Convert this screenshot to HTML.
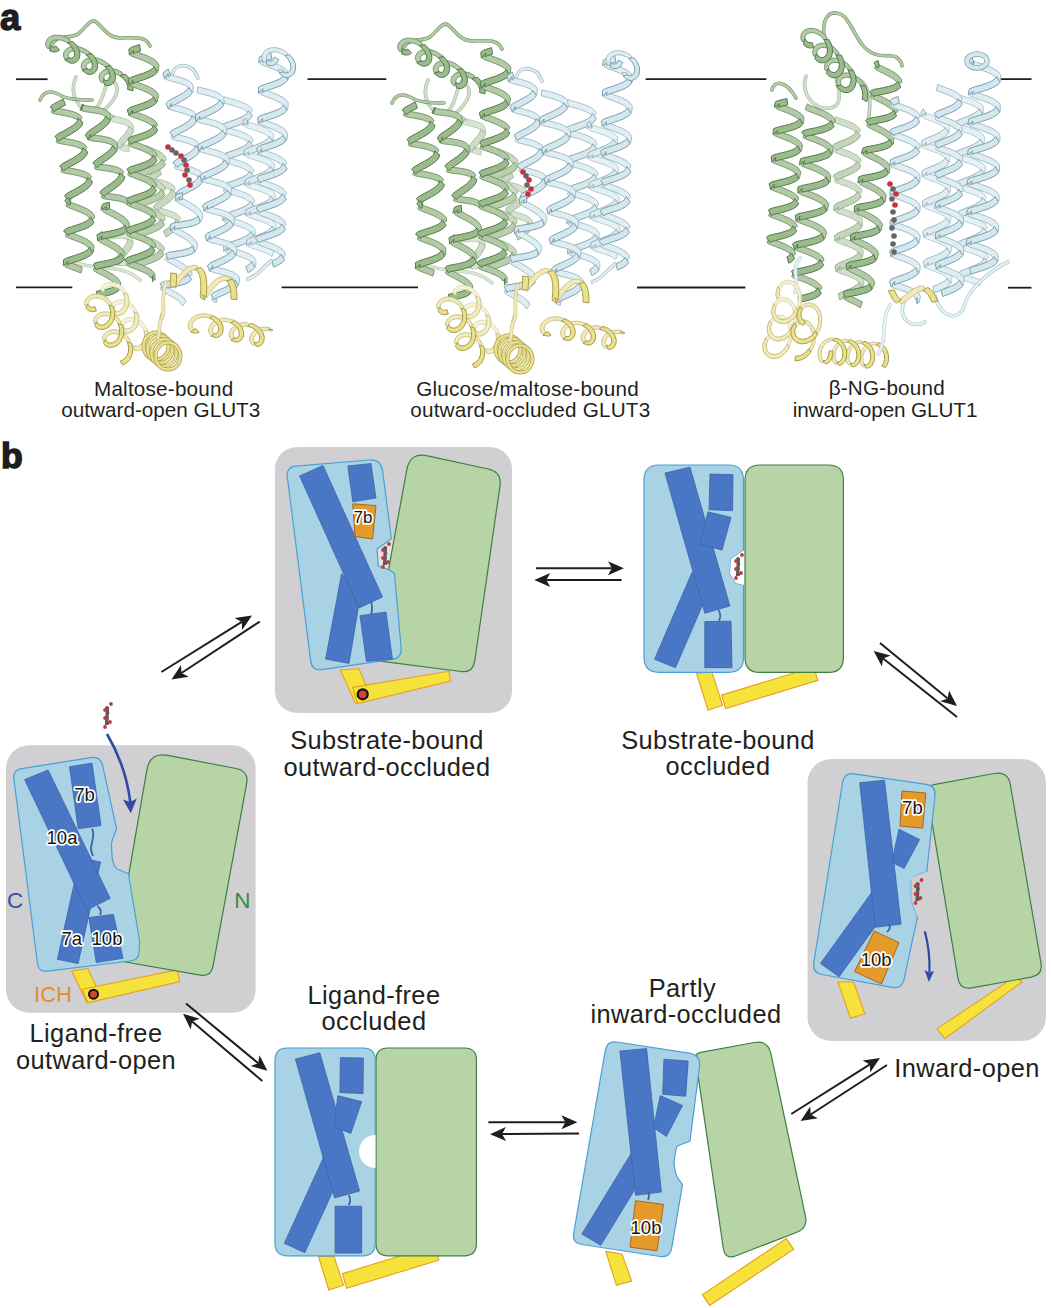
<!DOCTYPE html>
<html><head><meta charset="utf-8"><style>
html,body{margin:0;padding:0;background:#fff;}
svg{display:block;font-family:"Liberation Sans", sans-serif;}
</style></head><body>
<svg width="1051" height="1308" viewBox="0 0 1051 1308">
<rect width="1051" height="1308" fill="#ffffff"/>
<line x1="16" y1="79.2" x2="47.6" y2="79.2" stroke="#1e1e1e" stroke-width="1.8"/>
<line x1="307.5" y1="79.2" x2="386.3" y2="79.2" stroke="#1e1e1e" stroke-width="1.8"/>
<line x1="645.6" y1="79.2" x2="766.3" y2="79.2" stroke="#1e1e1e" stroke-width="1.8"/>
<line x1="999.5" y1="79.2" x2="1031.5" y2="79.2" stroke="#1e1e1e" stroke-width="1.8"/>
<line x1="16" y1="287.3" x2="72.3" y2="287.3" stroke="#1e1e1e" stroke-width="1.8"/>
<line x1="281.6" y1="287.3" x2="418" y2="287.3" stroke="#1e1e1e" stroke-width="1.8"/>
<line x1="637" y1="287.5" x2="745.4" y2="287.5" stroke="#1e1e1e" stroke-width="1.8"/>
<line x1="1008" y1="287.7" x2="1031.5" y2="287.7" stroke="#1e1e1e" stroke-width="1.8"/>
<path d="M103.8,233.1 L105.9,233.4 L109.3,233.2 L113.8,232.8 L118.7,232.5 L123.4,232.6 L127.6,233.4 L130.9,235.3 L133.4,241.3 L127.6,239.9 L128.6,240.8 L127.3,239.4 L124.2,238.5 L119.9,238.3 L115.2,238.6 L110.7,239.1 L107,239.3 L104.5,239Z M118.4,259.8 L121.1,259.9 L125.1,259.6 L126.5,265.4 L122.4,265.8 L119.5,265.7Z" fill="#d8e5d2" stroke="#b6c7b2" stroke-width="0.9" stroke-linejoin="round"/>
<path d="M106.8,235.1 L106.4,236.4 L105.5,233.1 L102.9,239 L100.5,233.6 L101.7,231.1Z M133.2,242.3 L132.3,245.8 L130,249.8 L127.1,253.7 L124.1,257.4 L121.6,260.5 L120.3,262.6 L120.8,262.4 L119.3,259.5 L118.6,266 L114.4,261.7 L115.3,258.4 L117.1,255.7 L119.8,252.5 L122.7,248.9 L125.4,245.2 L127.2,241.8 L127.7,238.8Z" fill="#cdddc5" stroke="#a9bca5" stroke-width="1.0" stroke-linejoin="round"/>
<path d="M112.2,114.8 L113.7,115.7 L116.1,116.5 L119.4,117.3 L123.1,118.2 L126.7,119.3 L129.8,120.9 L132.2,123.2 L134,129.1 L128.3,127.1 L129.1,128.3 L128.1,126.7 L125.9,125.3 L122.8,124.2 L119.3,123.3 L115.9,122.5 L113,121.7 L111,120.6Z M121.4,143.6 L123.1,144.5 L125.7,145.3 L129.1,146 L129,152 L125.5,151.3 L122.5,150.5 L120.4,149.5Z" fill="#d8e5d2" stroke="#b6c7b2" stroke-width="0.9" stroke-linejoin="round"/>
<path d="M114.2,116.8 L113.9,118 L113.6,115.1 L109.7,120.3 L108.3,114.8 L109.3,112.5Z M133.8,130 L132.9,132.9 L131,136 L128.6,139 L126.1,141.7 L124.1,144.1 L122.9,145.9 L123.1,146.6 L122.5,143.7 L119.3,149.3 L117.2,143.9 L118.3,141.3 L120.1,139 L122.3,136.5 L124.7,133.8 L126.8,131.1 L128.1,128.5 L128.6,126.1Z" fill="#cdddc5" stroke="#a9bca5" stroke-width="1.0" stroke-linejoin="round"/>
<path d="M152.6,176.4 L153.2,177.3 L155.3,178.3 L158.8,179.3 L163,180.5 L167.3,181.9 L171.1,183.7 L174.1,186.1 L175.4,188.7 L171.6,193.4 L171.1,191.3 L169.4,189.5 L166.3,187.8 L162.3,186.5 L158.2,185.3 L154.5,184.2 L151.6,183.1 L150.1,181.8Z M157.2,206.2 L158.3,207.2 L160.8,208.2 L164.5,209.2 L168.8,210.4 L173,211.9 L176.7,213.8 L179.4,216.3 L180.4,219.2 L176.1,223.4 L176.1,221.3 L174.7,219.5 L171.9,217.8 L168,216.4 L163.9,215.2 L160.1,214.1 L157,213 L155.2,211.8Z" fill="#d4e2ce" stroke="#aec1aa" stroke-width="0.9" stroke-linejoin="round"/>
<path d="M161.6,174.4 L158,176.8 L155.2,178.8 L153.7,180.3 L153.7,181.3 L149,176.9 L149.9,175 L152.3,173 L155.4,170.9 L158.9,168.5Z M176,193.1 L175,196.1 L172.5,199.2 L169.2,202 L165.5,204.6 L162,207 L159.4,208.9 L158.4,210.1 L158.9,210.8 L153.5,207.2 L154.2,205.2 L156.4,203.1 L159.3,201 L162.8,198.7 L166.3,196.2 L169.1,193.6 L170.7,191.3 L171,189Z M180.6,223.5 L179.3,226.5 L176.6,229.5 L173.1,232.3 L169.4,234.8 L166.1,237.1 L163.4,231.1 L166.7,228.9 L170.3,226.4 L173.3,223.9 L175.2,221.4 L175.9,219Z" fill="#c8d9bf" stroke="#a0b59c" stroke-width="1.0" stroke-linejoin="round"/>
<path d="M145.5,145.5 L149.7,147.2 L154.5,149.1 L159,151.3 L162.8,153.9 L165.5,156.9 L166.1,159.9 L161.3,163.5 L161.5,161.4 L160.2,159.3 L157.1,157 L152.9,154.9 L148.3,153 L144.2,151.4Z M140.9,173 L142.2,174.2 L145.1,175.5 L149.3,177.2 L154,179.1 L158.5,181.3 L162.3,183.9 L165,186.9 L165.6,189.9 L160.8,193.5 L161,191.4 L159.7,189.3 L156.6,187 L152.4,184.9 L147.8,183 L143.6,181.3 L140.3,179.9 L138.5,178.5Z M140.4,203 L141.7,204.2 L144.6,205.5 L148.8,207.2 L153.5,209.1 L158,211.3 L161.8,213.9 L164.5,216.9 L165.1,219.9 L160.3,223.5 L160.5,221.4 L159.2,219.3 L156.1,217 L151.9,214.9 L147.4,213 L143.1,211.3 L139.8,209.9 L138,208.5Z M139.9,233 L141.2,234.2 L144.1,235.5 L148.3,237.2 L153,239.1 L157.6,241.3 L161.3,243.9 L164,246.9 L164.6,249.9 L159.8,253.5 L160,251.4 L158.7,249.3 L155.6,247 L151.4,244.9 L146.9,243 L142.6,241.3 L139.3,239.9 L137.5,238.5Z M139.4,263 L140.7,264.2 L143.7,265.5 L142.1,271.3 L138.8,269.9 L137,268.5Z" fill="#c9dac0" stroke="#98b193" stroke-width="0.9" stroke-linejoin="round"/>
<path d="M165.5,164.4 L163.6,167.1 L159.9,169.6 L155.4,171.8 L150.6,173.7 L146.2,175.3 L142.8,176.6 L141.5,177.5 L142.1,178 L137.3,173.6 L138.5,171.7 L141.2,170.3 L144.8,168.9 L149.3,167.3 L153.9,165.5 L157.9,163.5 L160.6,161.3 L161.8,159Z M165,194.4 L163.1,197.1 L159.4,199.6 L154.9,201.8 L150.1,203.7 L145.6,205.3 L142.3,206.6 L141,207.5 L141.6,208 L136.8,203.6 L138,201.7 L140.7,200.3 L144.3,198.9 L148.8,197.3 L153.3,195.5 L157.4,193.5 L160.1,191.3 L161.3,189Z M164.5,224.4 L162.5,227.1 L158.9,229.7 L154.4,231.8 L149.6,233.7 L145.1,235.2 L141.8,236.6 L140.5,237.5 L141.1,238 L136.3,233.6 L137.4,231.7 L140.2,230.3 L143.8,228.9 L148.2,227.3 L152.8,225.5 L156.9,223.5 L159.6,221.3 L160.8,219Z M164,254.4 L162,257.1 L158.4,259.7 L153.9,261.8 L149.1,263.7 L144.6,265.2 L141.3,266.6 L140,267.5 L140.6,268 L135.8,263.6 L136.9,261.7 L139.7,260.3 L143.3,258.9 L147.7,257.3 L152.3,255.5 L156.4,253.5 L159.1,251.3 L160.3,249Z" fill="#b9cfae" stroke="#87a181" stroke-width="1.0" stroke-linejoin="round"/>
<path d="M223.8,96.5 L227,97.6 L231.7,99 L237.3,100.6 L242.8,102.6 L247.6,105 L251.1,107.8 L252.4,110.8 L248.2,115.1 L247.8,112.8 L245.6,110.6 L241.4,108.4 L236.2,106.5 L230.8,104.9 L226,103.5 L222.7,102.4Z M223.8,125.7 L225,126.6 L228.2,127.7 L233,129.1 L238.6,130.8 L244.1,132.8 L248.7,135.2 L252.1,138.1 L253.2,141.3 L248.8,145.3 L248.6,143.1 L246.6,140.9 L242.7,138.7 L237.5,136.7 L232.1,135 L227.2,133.7 L223.5,132.5 L221.7,131.3Z M224.4,155.7 L225.9,156.7 L229.4,157.9 L234.3,159.3 L239.9,161 L245.4,163.1 L249.9,165.5 L253.1,168.5 L253.9,171.7 L249.3,175.5 L249.4,173.3 L247.7,171.1 L243.9,168.9 L238.8,166.9 L233.4,165.2 L228.4,163.8 L224.6,162.6 L222.6,161.4Z M225.2,185.8 L226.9,186.8 L230.6,188 L235.7,189.4 L241.3,191.2 L246.7,193.3 L251,195.8 L254,198.9 L254.7,202.1 L249.8,205.6 L250.2,203.5 L248.7,201.3 L245.1,199.1 L240.1,197.1 L234.7,195.4 L229.6,193.9 L225.6,192.7 L223.4,191.6Z M225.9,215.9 L228,216.9 L231.8,218.1 L237,219.6 L242.6,221.4 L247.9,223.6 L252.2,226.1 L255,229.3 L255.3,235.9 L250.4,232.5 L250.9,233.7 L249.7,231.6 L246.3,229.3 L241.4,227.3 L236,225.5 L230.8,224.1 L226.7,222.8 L224.4,221.7Z M226.7,246 L229,247.1 L233.1,248.3 L238.3,249.8 L244,251.6 L249.2,253.8 L253.3,256.4 L255.9,259.7 L255.7,266.3 L251,262.6 L251.6,263.8 L250.7,261.8 L247.5,259.6 L242.7,257.5 L237.3,255.7 L232.1,254.2 L227.8,252.9 L225.3,251.8Z" fill="#e1eff4" stroke="#a5bfc8" stroke-width="0.9" stroke-linejoin="round"/>
<path d="M252.4,115.5 L250.6,118.5 L246.8,121.4 L241.9,123.9 L236.3,126.1 L231,127.9 L226.8,129.3 L224.5,130.4 L224.7,131.1 L220.8,125.9 L222.2,124.4 L225.3,123 L229.7,121.5 L234.9,119.7 L240.2,117.6 L244.6,115.3 L247.3,112.9 L248.2,110.5Z M252.9,145.9 L251,148.9 L247,151.7 L242,154.1 L236.4,156.3 L231.2,158 L227.1,159.5 L225.2,160.5 L225.7,161 L221.3,156.2 L222.6,154.5 L225.6,153.1 L229.8,151.7 L235,149.9 L240.3,147.9 L244.9,145.5 L247.8,143.2 L249,140.7Z M253.5,176.3 L251.3,179.2 L247.2,182 L242.1,184.4 L236.5,186.5 L231.4,188.2 L227.5,189.6 L225.9,190.5 L226.8,190.7 L221.8,186.7 L223,184.7 L225.9,183.3 L230,181.8 L235.1,180.1 L240.5,178.1 L245.2,175.8 L248.3,173.4 L249.7,170.9Z M254,206.6 L251.6,209.5 L247.4,212.2 L242.2,214.6 L236.6,216.7 L231.6,218.4 L227.9,219.7 L226.7,220.6 L227.7,216.8 L222.6,220.8 L223.4,214.9 L226.2,213.4 L230.2,212 L235.2,210.3 L240.6,208.3 L245.4,206.1 L248.8,203.7 L250.5,201.2Z M254.5,237 L252,239.8 L247.6,242.5 L242.3,244.9 L236.7,246.9 L231.8,248.5 L228.3,249.8 L227.5,250.5 L228.2,246.6 L223.7,251.3 L223.8,245.2 L226.6,243.6 L230.4,242.2 L235.4,240.5 L240.7,238.6 L245.6,236.3 L249.2,233.9 L251.1,231.4Z M255,267.3 L252.2,270.1 L247.9,272.7 L245.7,266.6 L249.6,264.2 L251.8,261.6Z" fill="#d6e9ef" stroke="#8ba8b3" stroke-width="1.0" stroke-linejoin="round"/>
<path d="M246.3,120.8 L248.1,121.9 L251.7,123.1 L256.5,124.6 L261.7,126.3 L266.6,128.4 L270.6,130.9 L273.3,133.9 L273.8,140.4 L268.8,137.1 L269.3,138.4 L268.1,136.4 L264.9,134.2 L260.4,132.2 L255.4,130.5 L250.6,129 L246.8,127.8 L244.6,126.6Z M247.1,150.8 L249,151.9 L252.6,153.1 L257.4,154.6 L262.6,156.3 L267.5,158.4 L271.5,160.9 L274.2,163.9 L274.6,170.5 L269.6,167.1 L270.2,168.4 L269,166.4 L265.9,164.2 L261.4,162.2 L256.3,160.5 L251.6,159 L247.7,157.7 L245.5,156.6Z M248,180.8 L249.9,181.9 L253.5,183.1 L258.3,184.6 L263.5,186.3 L268.4,188.4 L272.4,190.9 L275.1,194 L275.5,200.5 L270.5,197.1 L271,198.4 L269.9,196.4 L266.8,194.2 L262.3,192.2 L257.3,190.5 L252.5,189 L248.6,187.7 L246.4,186.6Z M248.9,210.8 L250.8,211.9 L254.4,213.1 L259.2,214.6 L264.5,216.3 L269.4,218.4 L273.3,220.9 L276,224 L276.4,230.5 L271.4,227.1 L271.9,228.4 L270.8,226.4 L267.7,224.2 L263.2,222.2 L258.2,220.5 L253.4,219 L249.5,217.7 L247.3,216.6Z M249.8,240.8 L251.8,241.9 L255.4,243.1 L260.2,244.6 L265.4,246.3 L270.3,248.4 L274,250.8 L272,256.5 L268.6,254.2 L264.1,252.2 L259.1,250.5 L254.3,249 L250.5,247.7 L248.2,246.6Z" fill="#e4f1f5" stroke="#afc6ce" stroke-width="0.9" stroke-linejoin="round"/>
<path d="M248.3,124.4 L247.1,125.3 L247.9,121.7 L242.9,125.7 L243.5,119.9 L245.9,118.3Z M273,141.5 L270.8,144.3 L266.8,147 L261.9,149.4 L256.8,151.4 L252.2,153.1 L248.9,154.5 L248,155.3 L248.8,151.7 L243.8,155.8 L244.4,149.9 L247,148.3 L250.7,146.8 L255.3,145.1 L260.2,143.1 L264.7,140.9 L267.8,138.5 L269.5,136.1Z M273.9,171.5 L271.6,174.3 L267.6,177 L262.8,179.4 L257.6,181.4 L253.1,183.1 L249.8,184.5 L248.9,185.3 L249.7,181.6 L244.7,185.8 L245.2,179.9 L247.9,178.3 L251.5,176.8 L256.1,175.1 L261.1,173.1 L265.5,170.9 L268.7,168.5 L270.4,166.1Z M274.8,201.5 L272.5,204.3 L268.5,207 L263.6,209.4 L258.5,211.4 L253.9,213.1 L250.6,214.5 L249.8,215.3 L250.6,211.6 L245.6,215.8 L246.1,209.9 L248.8,208.3 L252.4,206.8 L257,205.1 L261.9,203.1 L266.4,200.9 L269.6,198.5 L271.3,196.1Z M275.7,231.5 L273.3,234.4 L269.3,237 L264.5,239.4 L259.3,241.4 L254.8,243.1 L251.5,244.5 L250.6,245.3 L251.5,241.6 L246.5,245.8 L247,239.9 L249.6,238.3 L253.3,236.8 L257.8,235.1 L262.8,233.1 L267.2,230.9 L270.5,228.5 L272.1,226.1Z" fill="#dbebf1" stroke="#98b2bb" stroke-width="1.0" stroke-linejoin="round"/>
<path d="M76,77 C68,95 80,112 92,110 S104,80 112,76" fill="none" stroke="#a7bca3" stroke-width="3.6" stroke-linecap="round"/>
<path d="M76,77 C68,95 80,112 92,110 S104,80 112,76" fill="none" stroke="#d0dfc9" stroke-width="2.4" stroke-linecap="round"/>
<path d="M112,80 C125,90 110,105 102,112" fill="none" stroke="#a7bca3" stroke-width="3.6" stroke-linecap="round"/>
<path d="M112,80 C125,90 110,105 102,112" fill="none" stroke="#d0dfc9" stroke-width="2.4" stroke-linecap="round"/>
<path d="M75,262 C95,272 120,262 140,280" fill="none" stroke="#b6c7b2" stroke-width="3.6" stroke-linecap="round"/>
<path d="M75,262 C95,272 120,262 140,280" fill="none" stroke="#d8e5d2" stroke-width="2.4" stroke-linecap="round"/>
<path d="M51,50 C52,32 70,40 78,34 S90,18 96,22 S108,38 120,38 S145,35 150,46" fill="none" stroke="#6d9066" stroke-width="3.6" stroke-linecap="round"/>
<path d="M51,50 C52,32 70,40 78,34 S90,18 96,22 S108,38 120,38 S145,35 150,46" fill="none" stroke="#b2cba6" stroke-width="2.4" stroke-linecap="round"/>
<path d="M47.6,48.6 L45.9,46 L45.7,42.4 L47.2,39.1 L50.3,36.5 L54.7,35.2 L59.8,35.3 L65.2,36.8 L70.1,39.6 L70.2,44.6 L65.8,41.8 L61.2,40.1 L56.8,39.7 L53.4,40.4 L51.2,42 L50.4,44 L50.9,45.9 L52.5,47.7Z M64.8,59.1 L63.5,56.3 L63.7,52.7 L65.6,49.5 L69.1,47.2 L73.7,46.2 L79,46.7 L84.3,48.6 L91.3,53.2 L86.7,55.1 L84.7,53.5 L80.1,51.5 L75.7,50.8 L71.9,51.3 L69.4,52.7 L68.3,54.6 L68.5,56.6 L69.8,58.6Z M82.2,69.5 L81.1,66.6 L81.8,63 L84.1,60 L87.9,58 L92.8,57.4 L98.1,58.2 L103.4,60.4 L110.1,65.4 L105.4,67.1 L103.6,65.4 L99.1,63.1 L94.5,62.1 L90.6,62.3 L87.7,63.5 L86.2,65.3 L86.1,67.3 L87.2,69.4Z M101.5,82.7 L99.6,80.3 L98.9,76.8 L100,73.4 L102.7,70.6 L106.8,68.9 L111.9,68.6 L117.3,69.8 L122.2,72.4 L122.6,77.3 L118,74.8 L113.4,73.4 L109.3,73.3 L106.1,74.3 L104.2,76 L103.8,78 L104.5,79.8 L106.4,81.5Z" fill="#b2cba6" stroke="#6d9066" stroke-width="0.9" stroke-linejoin="round"/>
<path d="M59.5,50.2 L56.7,51.8 L53.2,52.1 L50.3,50.9 L49.8,45.4 L51.9,46.8 L53.8,47.1 L55.9,46Z M72.8,41.4 L76.6,45.3 L79.1,50 L80,54.6 L79.2,58.6 L76.9,61.7 L73.6,63.2 L70.1,63.1 L64.8,59.9 L69.9,57.8 L69.2,57.7 L71.1,58.3 L73,57.8 L74.2,56.2 L74.6,53.5 L73.6,50 L71.2,46.4 L67.5,42.8Z M91.7,53.5 L95.2,57.6 L97.3,62.3 L97.7,66.8 L96.5,70.7 L93.9,73.4 L90.5,74.5 L87,74 L82,70.3 L87.3,68.6 L86.5,68.5 L88.4,69.4 L90.3,69.2 L91.8,67.9 L92.4,65.5 L91.8,62.1 L89.7,58.5 L86.3,54.8Z M110.5,65.7 L113.6,70 L115.3,74.7 L115.3,79.1 L113.7,82.7 L110.9,85 L107.4,85.7 L104.4,84.8 L103.5,79.4 L105.7,80.5 L107.6,80.6 L109.2,79.5 L110.1,77.3 L109.8,74.2 L108.2,70.6 L105.1,66.8Z M125,74 L129.1,77.8 L132,82.3 L133.3,87 L133,90.9 L127.7,89.5 L127.8,86.2 L126.5,82.7 L123.8,79 L119.8,75.7Z" fill="#9bbb8c" stroke="#547a4c" stroke-width="1.0" stroke-linejoin="round"/>
<path d="M40,100 C45,88 55,92 62,96 S85,100 92,100" fill="none" stroke="#6d9066" stroke-width="3.6" stroke-linecap="round"/>
<path d="M40,100 C45,88 55,92 62,96 S85,100 92,100" fill="none" stroke="#b2cba6" stroke-width="2.4" stroke-linecap="round"/>
<path d="M53.4,106.6 L54,107.5 L56.7,108.2 L61,109 L66.2,109.9 L71.6,111.1 L76.4,112.8 L80.2,115 L82,117.7 L78.7,122.7 L77.8,120.5 L75.2,118.6 L71,117.1 L65.9,115.9 L60.8,115 L56.3,114.2 L53,113.4 L51.3,112.3Z M58.1,136.3 L58.8,137.1 L61.4,137.8 L65.8,138.6 L71,139.5 L76.4,140.7 L81.2,142.4 L84.9,144.6 L86.8,147.3 L83.5,152.3 L82.6,150.1 L80,148.3 L75.7,146.7 L70.7,145.5 L65.5,144.6 L61.1,143.8 L57.7,143 L56,141.9Z M62.9,165.9 L63.5,166.7 L66.2,167.5 L70.5,168.2 L75.8,169.1 L81.1,170.4 L85.9,172 L89.7,174.2 L91.5,176.9 L88.2,181.9 L87.3,179.7 L84.7,177.9 L80.5,176.3 L75.4,175.1 L70.3,174.2 L65.8,173.4 L62.5,172.6 L60.8,171.5Z M67.6,195.5 L68.3,196.3 L71,197.1 L70.5,203.1 L67.2,202.3 L65.5,201.2Z" fill="#b2cba6" stroke="#6d9066" stroke-width="0.9" stroke-linejoin="round"/>
<path d="M65.5,105 L60.8,107.5 L56.9,109.5 L54.7,111.1 L54.4,112 L50.3,106.9 L51.6,105.3 L54.5,103.5 L58.5,101.4 L63.2,98.9Z M82.9,122.2 L82,125.4 L79,128.7 L75,131.7 L70.2,134.6 L65.5,137.1 L61.7,139.2 L59.4,140.7 L59.1,141.6 L55.1,136.6 L56.3,135 L59.3,133.1 L63.3,131 L67.8,128.5 L72.3,125.8 L75.8,123 L77.7,120.5 L77.8,118.1Z M87.7,151.8 L86.7,155 L83.8,158.3 L79.7,161.4 L74.9,164.2 L70.3,166.7 L66.4,168.8 L64.2,170.3 L63.9,171.2 L59.8,166.2 L61.1,164.6 L64,162.8 L68,160.6 L72.6,158.2 L77,155.4 L80.5,152.7 L82.4,150.1 L82.6,147.8Z M92.4,181.5 L91.4,184.6 L88.5,187.9 L84.4,191 L79.7,193.8 L75,196.4 L71.1,198.4 L68.9,199.9 L68.6,200.9 L64.5,195.8 L65.8,194.2 L68.7,192.4 L72.7,190.3 L77.3,187.8 L81.7,185.1 L85.3,182.3 L87.1,179.7 L87.3,177.4Z" fill="#9bbb8c" stroke="#547a4c" stroke-width="1.0" stroke-linejoin="round"/>
<path d="M68.2,200.4 L69.5,201.5 L72.6,202.9 L77.2,204.6 L82.3,206.6 L87.3,208.9 L91.4,211.6 L94.2,214.7 L94.8,217.9 L89.8,221.3 L90.2,219.2 L88.8,217 L85.4,214.6 L80.8,212.4 L75.8,210.4 L71.2,208.7 L67.7,207.3 L65.8,206Z M67.4,230.6 L69.1,231.7 L72.5,233.2 L77.2,234.9 L82.4,237 L87.2,239.4 L91.1,242.1 L93.7,245.3 L93.7,251.9 L88.9,248.2 L89.3,249.5 L88.3,247.4 L85.2,245 L80.8,242.7 L75.8,240.7 L71.1,239 L67.4,237.5 L65.3,236.2Z M66.6,260.7 L68.7,261.9 L72.4,263.4 L77.3,265.2 L82.3,267.3 L80.9,273.1 L75.9,271 L71.1,269.3 L67.1,267.7 L64.7,266.4Z" fill="#b2cba6" stroke="#6d9066" stroke-width="0.9" stroke-linejoin="round"/>
<path d="M70.6,204.1 L68.7,205.1 L69.2,205.6 L64.8,200.8 L66.2,199.1 L69,197.8Z M94,222.4 L91.8,225.1 L87.8,227.7 L82.8,229.8 L77.5,231.6 L72.7,233.1 L69.1,234.3 L67.9,235.1 L68.9,235.3 L63.7,231.4 L64.9,229.4 L67.7,228 L71.6,226.7 L76.4,225.2 L81.4,223.4 L86,221.4 L89.1,219.2 L90.6,216.9Z M92.9,252.9 L90.4,255.6 L86.1,258 L81.1,260.1 L75.8,261.8 L71.1,263.3 L67.9,264.5 L67.2,265.1 L68.1,261.4 L63.3,265.8 L63.5,259.8 L66.3,258.2 L70,256.9 L74.7,255.4 L79.8,253.7 L84.4,251.8 L87.8,249.6 L89.7,247.2Z" fill="#9bbb8c" stroke="#547a4c" stroke-width="1.0" stroke-linejoin="round"/>
<path d="M82.4,104.9 L84.9,105.6 L88.8,106.2 L93.6,106.8 L98.7,107.6 L103.5,108.9 L107.3,110.7 L110,113.5 L110.6,120 L105.5,117 L106.2,118.1 L105.5,116.5 L102.7,114.8 L98.5,113.6 L93.6,112.8 L88.8,112.2 L84.8,111.6 L82,110.9Z M89.5,134.2 L92.2,134.9 L96.2,135.4 L101.1,136 L106.2,136.9 L110.9,138.2 L114.6,140.2 L117.2,143.1 L117.4,149.6 L112.4,146.4 L113.1,147.5 L112.6,145.8 L110,144.2 L105.9,142.9 L101.1,142 L96.3,141.4 L92.1,140.9 L89.2,140.2Z M96.2,162.7 L96.9,163.5 L99.5,164.1 L103.6,164.6 L108.6,165.3 L113.7,166.2 L118.3,167.6 L121.9,169.6 L123.7,172.2 L120.6,177.3 L119.7,175.2 L117.3,173.5 L113.4,172.2 L108.6,171.3 L103.7,170.6 L99.4,170.1 L96.1,169.4 L94.4,168.4Z M103,191.9 L104,192.7 L106.8,193.3 L111,193.9 L116.1,194.6 L121.1,195.5 L125.6,197 L128.7,198.9 L127.2,204.7 L124.6,202.9 L120.8,201.5 L116,200.6 L111.1,199.9 L106.8,199.3 L103.4,198.7 L101.5,197.7Z" fill="#b2cba6" stroke="#6d9066" stroke-width="0.9" stroke-linejoin="round"/>
<path d="M82.8,104 L83.6,105 L80.8,110.8 L80,109.8Z M110.2,121 L108.2,124.1 L104.7,127.4 L100.6,130.6 L96.4,133.4 L92.9,135.8 L90.9,137.5 L91.3,137.6 L90.5,134.1 L88.2,140.2 L85.4,134.8 L87.3,132.1 L90,130 L93.6,127.6 L97.6,124.8 L101.5,121.8 L104.3,118.9 L105.9,116.1Z M117,150.5 L114.8,153.7 L111.2,157 L107.1,160.1 L102.9,162.9 L99.6,165.2 L97.7,166.8 L97.6,167.8 L92.9,163.3 L94,161.5 L96.6,159.4 L100.1,157 L104.1,154.3 L108,151.3 L111,148.4 L112.8,145.5Z M124.8,176.6 L124,179.8 L121.4,183.2 L117.7,186.5 L113.6,189.6 L109.5,192.3 L106.2,194.6 L104.6,196.1 L104.8,196.9 L99.8,192.7 L100.7,190.9 L103.2,188.8 L106.6,186.5 L110.6,183.8 L114.6,180.8 L117.7,177.8 L119.4,175.2 L119.5,172.9Z" fill="#9bbb8c" stroke="#547a4c" stroke-width="1.0" stroke-linejoin="round"/>
<path d="M105,205.7 L106.8,207.1 L110.3,209 L114.9,211.4 L119.8,214.1 L124.3,217.1 L127.7,220.3 L129.6,224 L128.1,230.5 L124.2,225.9 L124.5,227.2 L124.1,225.2 L121.6,222.5 L117.6,219.7 L112.8,217 L108.3,214.7 L104.5,212.7 L102.4,211.1Z M101,235.8 L103.4,237.4 L107.4,239.4 L112.2,241.9 L117,244.7 L121.2,247.8 L124.1,251.1 L125,254.3 L120.3,258 L120.2,255.6 L118.3,253.1 L114.6,250.2 L110,247.5 L105.3,245.1 L101.3,243 L98.6,241.3Z M96.4,264.8 L97.4,266 L100.2,267.7 L104.5,269.9 L109.4,272.5 L114.2,275.4 L118,278.5 L120.4,282 L120.7,285.2 L115.4,288.1 L116,286 L114.8,283.6 L111.6,280.8 L107.2,278.1 L102.5,275.5 L98.1,273.3 L94.8,271.4 L93.2,269.9Z" fill="#b2cba6" stroke="#6d9066" stroke-width="0.9" stroke-linejoin="round"/>
<path d="M109.7,208.8 L106.1,209.6 L105.1,210.2 L106.5,206.7 L100.9,210.1 L102.4,204.3 L105.4,203.1 L109.3,202.3Z M127.3,231.2 L124.2,233.6 L119.4,235.4 L114,236.8 L108.6,237.9 L104,238.7 L101.1,239.5 L101.3,239.7 L102,236.1 L97.7,241 L97,234.8 L100,233.1 L103.6,232.2 L108.2,231.4 L113.5,230.3 L118.6,229 L122.6,227.3 L125.1,225.1Z M124.4,258.9 L122.4,261.6 L118.4,263.9 L113.4,265.6 L107.9,266.9 L102.7,267.8 L98.5,268.7 L96.3,269.4 L96.5,270.1 L93.2,264.5 L94.7,263.1 L97.9,262.2 L102.3,261.4 L107.5,260.4 L112.7,259.1 L117.1,257.5 L119.9,255.6 L120.9,253.4Z M119.5,289.6 L116.9,292.1 L112.5,294.2 L107.3,295.7 L101.8,296.9 L96.8,297.8 L96.5,291.3 L101.4,290.4 L106.7,289.3 L111.5,287.8 L114.9,286 L116.6,283.8Z" fill="#9bbb8c" stroke="#547a4c" stroke-width="1.0" stroke-linejoin="round"/>
<path d="M132.4,49.9 L134.7,51.1 L138.6,52.5 L143.5,54.3 L148.7,56.4 L153.3,58.8 L156.9,61.6 L159,65 L158.1,71.6 L153.8,67.4 L154.2,68.7 L153.8,66.8 L151.2,64.5 L147.1,62.2 L142.1,60.2 L137.3,58.4 L133.2,56.9 L130.6,55.6Z M132,80 L134.5,81.2 L138.5,82.7 L143.5,84.5 L148.6,86.6 L153.2,89.1 L156.6,91.9 L158.6,95.4 L157.3,101.9 L153.2,97.5 L153.7,98.8 L153.4,97 L151,94.7 L147,92.4 L142.1,90.3 L137.2,88.6 L133,87 L130.3,85.7Z M131.6,110.1 L134.3,111.3 L138.5,112.9 L143.5,114.7 L148.6,116.9 L153,119.3 L156.4,122.2 L157.7,125.2 L153.5,129.5 L153,127.2 L150.8,124.9 L146.9,122.6 L142.1,120.5 L137.2,118.7 L132.9,117.2 L130,115.9Z M130.8,139.3 L131.5,140.2 L134.1,141.5 L138.4,143 L143.5,144.9 L148.5,147.1 L152.9,149.6 L156.1,152.5 L157.2,155.5 L152.9,159.7 L152.6,157.4 L150.6,155.1 L146.8,152.8 L142.1,150.7 L137.1,148.9 L132.7,147.3 L129.5,145.9 L127.9,144.6Z M130.1,169.3 L131.1,170.3 L134,171.6 L138.3,173.2 L143.4,175.1 L148.5,177.3 L152.8,179.8 L155.8,182.8 L156.8,185.9 L152.2,189.8 L152.2,187.6 L150.4,185.4 L146.7,183 L142,180.9 L137,179 L132.6,177.4 L129.2,176 L127.6,174.7Z M129.6,199.4 L130.8,200.4 L133.8,201.7 L138.3,203.3 L143.4,205.3 L148.4,207.5 L152.6,210.1 L155.5,213.1 L156.3,216.3 L151.6,220 L151.7,217.8 L150.1,215.6 L146.6,213.3 L142,211.1 L137,209.2 L132.5,207.6 L129,206.2 L127.2,204.9Z M129,229.4 L130.5,230.5 L133.7,231.9 L138.3,233.5 L143.4,235.5 L148.4,237.8 L152.4,240.4 L155.2,243.5 L155.8,246.6 L150.9,250.1 L151.2,247.9 L149.9,245.8 L146.5,243.5 L141.9,241.3 L137,239.4 L132.4,237.7 L128.8,236.3 L126.8,235Z M128.5,259.5 L130.2,260.7 L133.6,262 L138.2,263.7 L143.4,265.7 L148.3,268 L152.2,270.6 L154.9,273.8 L155.2,280.3 L150.3,276.9 L150.7,278.1 L149.6,276 L146.4,273.7 L141.9,271.5 L136.9,269.5 L132.3,267.9 L128.5,266.4 L126.5,265.2Z" fill="#b2cba6" stroke="#6d9066" stroke-width="0.9" stroke-linejoin="round"/>
<path d="M140.7,51 L136.2,52.4 L133.3,53.6 L133.1,54 L133.6,50.2 L129.4,55.2 L128.8,49.2 L131.5,47.3 L135,46.1 L139.5,44.6Z M157.3,72.4 L154.5,75 L150,77.4 L144.9,79.4 L139.7,81.1 L135.4,82.6 L132.6,83.7 L132.8,83.9 L133,80.2 L129.3,85.5 L128,79.5 L130.7,77.5 L134.1,76.2 L138.5,74.7 L143.6,73.1 L148.4,71.1 L152.1,68.9 L154.5,66.6Z M156.6,102.7 L153.6,105.3 L149,107.6 L143.8,109.6 L138.7,111.3 L134.5,112.7 L131.9,113.8 L132.5,113.7 L132.5,110.2 L129.1,115.7 L127.2,109.9 L129.9,107.6 L133.2,106.3 L137.6,104.9 L142.5,103.2 L147.4,101.3 L151.3,99.2 L153.8,96.8Z M157.7,129.8 L156.2,132.8 L152.6,135.5 L148,137.8 L142.8,139.8 L137.8,141.4 L133.6,142.8 L131.3,143.9 L131,144.7 L127.7,139.1 L129.2,137.7 L132.3,136.4 L136.6,135 L141.5,133.4 L146.4,131.5 L150.5,129.4 L152.8,127.2 L153.5,124.9Z M157.1,160.1 L155.4,163 L151.7,165.7 L147,168 L141.8,170 L136.8,171.6 L132.8,172.9 L130.7,173.9 L130.7,174.7 L127,169.4 L128.4,167.9 L131.4,166.5 L135.6,165.2 L140.5,163.6 L145.5,161.7 L149.6,159.6 L152.2,157.4 L153,155.1Z M156.4,190.5 L154.5,193.3 L150.8,196 L146,198.2 L140.8,200.1 L135.8,201.7 L132,203 L130.1,204 L130.5,204.6 L126.3,199.6 L127.6,198 L130.6,196.7 L134.6,195.3 L139.5,193.7 L144.5,191.9 L148.8,189.8 L151.5,187.6 L152.6,185.2Z M155.8,220.8 L153.7,223.6 L149.8,226.2 L145,228.4 L139.7,230.3 L134.9,231.8 L131.2,233.1 L129.6,234.1 L130.3,234.5 L125.6,230 L126.8,228.2 L129.7,226.8 L133.7,225.4 L138.5,223.9 L143.5,222.1 L147.9,220 L150.8,217.8 L152.1,215.4Z M155.1,251.1 L152.9,253.9 L148.9,256.4 L144,258.6 L138.7,260.4 L133.9,262 L130.4,263.2 L129.1,264.1 L130.1,264.3 L124.9,260.4 L126.1,258.3 L128.9,256.9 L132.7,255.6 L137.5,254.1 L142.5,252.3 L147,250.2 L150.1,248 L151.6,245.6Z M152.8,275.4 L152.7,281.9Z" fill="#9bbb8c" stroke="#547a4c" stroke-width="1.0" stroke-linejoin="round"/>
<path d="M172,75 C175,62 192,62 198,78" fill="none" stroke="#9cb8c2" stroke-width="3.6" stroke-linecap="round"/>
<path d="M172,75 C175,62 192,62 198,78" fill="none" stroke="#deeef3" stroke-width="2.4" stroke-linecap="round"/>
<path d="M166.8,73.4 L169.1,74.4 L172.9,75.4 L177.6,76.6 L182.6,78.1 L187.2,79.9 L190.8,82.2 L193.2,85.3 L193,91.9 L188.2,88.2 L188.8,89.5 L188.3,87.7 L185.7,85.7 L181.7,84 L176.9,82.6 L172.2,81.4 L168.3,80.3 L165.7,79.3Z M170.3,103.4 L172.9,104.3 L176.9,105.4 L181.7,106.6 L186.7,108.1 L191.1,110 L194.6,112.4 L196.2,115.2 L192.5,120 L191.8,117.8 L189.5,115.8 L185.6,114.1 L181,112.6 L176.2,111.3 L172.1,110.3 L169.3,109.3Z M173.3,132.4 L174.1,133.4 L176.7,134.3 L180.8,135.4 L185.7,136.6 L190.7,138.2 L195,140.2 L198.3,142.7 L199.7,145.5 L195.7,150 L195.3,147.9 L193.3,145.9 L189.6,144.1 L185,142.6 L180.2,141.3 L175.9,140.3 L172.7,139.2 L171,138Z M176.5,162.3 L177.7,163.3 L180.5,164.3 L184.8,165.3 L189.8,166.7 L194.7,168.3 L198.9,170.3 L202,172.9 L203.1,175.8 L198.9,180.1 L198.7,178 L197,176 L193.5,174.2 L189,172.6 L184.2,171.3 L179.8,170.2 L176.4,169.2 L174.6,168Z M179.8,192.3 L181.5,193.3 L179.9,199.1 L178.1,198Z" fill="#deeef3" stroke="#9cb8c2" stroke-width="0.9" stroke-linejoin="round"/>
<path d="M170.6,75.3 L168.1,76.8 L168.1,77.2 L168,73.6 L164.5,79.1 L163,73.2 L165.3,70.9 L168.3,69.2Z M192.4,92.7 L190,95.6 L186.1,98.5 L181.6,101.1 L177.2,103.4 L173.4,105.4 L171.2,106.8 L171.6,106.9 L171.3,103.4 L168.3,109.2 L166,103.6 L168.3,101 L171.2,99.2 L175.1,97.3 L179.4,95 L183.6,92.5 L186.9,90 L188.8,87.4Z M196.8,119.7 L195.7,122.8 L192.8,125.9 L188.8,128.7 L184.3,131.3 L179.9,133.5 L176.3,135.4 L174.4,136.8 L174.3,137.6 L170,132.8 L171.2,131.1 L174,129.3 L177.8,127.4 L182.1,125.2 L186.4,122.7 L189.8,120.1 L191.6,117.7 L191.9,115.5Z M200,150 L198.7,153.1 L195.6,156.1 L191.5,158.9 L186.9,161.5 L182.6,163.7 L179.2,165.5 L177.6,166.7 L178,167.4 L173.1,163 L174.2,161.2 L176.9,159.4 L180.5,157.5 L184.8,155.3 L189.1,152.9 L192.7,150.3 L194.8,147.9 L195.4,145.5Z M203.2,180.4 L201.6,183.4 L198.4,186.4 L194.2,189.1 L189.6,191.6 L185.3,193.8 L182.1,195.5 L180.9,196.6 L181.7,197 L176.3,193.3 L177.2,191.3 L179.7,189.5 L183.2,187.6 L187.4,185.5 L191.8,183.1 L195.5,180.5 L197.9,178 L198.8,175.6Z" fill="#d2e7ee" stroke="#7f9fab" stroke-width="1.0" stroke-linejoin="round"/>
<path d="M179.2,196.1 L181.4,197.7 L185,199.8 L189.6,202.3 L194.4,205.2 L198.6,208.4 L201.6,211.7 L203.1,215.4 L201,221.7 L197.5,216.8 L197.8,218.2 L197.7,216.3 L195.6,213.6 L191.9,210.7 L187.3,207.9 L182.8,205.3 L179,203.2 L176.6,201.5Z M174.1,225.8 L176.5,227.4 L180.3,229.6 L184.9,232.2 L189.6,235.1 L193.7,238.3 L196.6,241.6 L197.9,245.4 L195.3,251.6 L192.1,246.5 L192.4,247.9 L192.6,246.1 L190.6,243.4 L187.1,240.5 L182.6,237.7 L178,235.2 L174.1,233 L171.6,231.2Z M168.7,254.5 L169.2,255.6 L171.6,257.2 L175.5,259.4 L180.2,262 L184.9,265 L188.8,268.2 L191.5,271.6 L192.2,274.8 L187.3,278.2 L187.4,275.9 L185.7,273.3 L182.3,270.4 L177.9,267.6 L173.3,265 L169.3,262.7 L166.3,260.8 L165,259.3Z M163.3,284.1 L164.1,285.3 L166.7,287 L170.7,289.2 L175.5,291.9 L180.1,294.9 L183.9,298.1 L186.1,301.2 L182.5,306 L180.7,303.2 L177.5,300.3 L173.1,297.4 L168.5,294.8 L164.4,292.5 L161.3,290.6 L159.9,289Z" fill="#deeef3" stroke="#9cb8c2" stroke-width="0.9" stroke-linejoin="round"/>
<path d="M182.7,199.2 L179.5,199.9 L179.3,200.3 L180.4,196.6 L175.5,201 L175.8,194.9 L178.8,193.5 L182.3,192.7Z M200.2,222.4 L196.9,224.5 L192.1,226.1 L186.7,227.3 L181.3,228.2 L176.8,228.8 L174,229.5 L174.3,229.7 L175,226.1 L170.6,230.9 L170.1,224.8 L173.1,223.1 L176.6,222.4 L181.2,221.7 L186.4,220.8 L191.5,219.7 L195.6,218.1 L198.4,216.1Z M194.6,252.2 L191.1,254.2 L186.2,255.8 L180.7,256.9 L175.4,257.8 L171.1,258.5 L168.5,259.2 L168,259.9 L165.7,253.9 L167.4,252.7 L170.8,252 L175.3,251.3 L180.5,250.5 L185.6,249.3 L189.9,247.9 L192.9,245.9Z M191.4,279.3 L189.3,281.9 L185.2,284 L180.2,285.5 L174.8,286.6 L169.6,287.4 L165.4,288.1 L163.1,288.8 L163,289.5 L160.2,283.6 L161.8,282.4 L165,281.6 L169.4,280.9 L174.5,280.1 L179.7,279 L184.2,277.6 L187,275.8 L188.2,273.7Z" fill="#d2e7ee" stroke="#7f9fab" stroke-width="1.0" stroke-linejoin="round"/>
<path d="M197.8,86.8 L201.6,87.8 L206.5,89 L211.9,90.5 L216.9,92.4 L220.9,94.6 L223.7,97.6 L224.3,104.1 L219.2,100.9 L219.8,102.1 L218.7,100.2 L215.5,98.2 L210.9,96.4 L205.8,95 L200.9,93.8 L197.1,92.7Z M198.5,115.8 L200.6,116.7 L204.5,117.8 L209.4,119 L214.7,120.5 L219.7,122.4 L223.7,124.7 L226.4,127.7 L226.7,134.3 L221.7,130.9 L222.3,132.1 L221.4,130.2 L218.3,128.2 L213.8,126.4 L208.7,124.9 L203.8,123.7 L199.7,122.7 L197.2,121.6Z M201.1,145.7 L203.4,146.7 L207.3,147.7 L212.3,149 L217.6,150.5 L222.5,152.4 L226.5,154.7 L229.1,157.8 L229.1,164.4 L224.3,160.9 L224.9,162.1 L224.1,160.2 L221.1,158.2 L216.6,156.4 L211.5,154.9 L206.6,153.7 L202.5,152.6 L199.9,151.6Z M203.7,175.7 L206.1,176.6 L210.1,177.7 L215.2,178.9 L220.5,180.5 L225.4,182.4 L229.2,184.8 L231.7,187.9 L231.6,194.5 L226.8,190.8 L227.4,192.1 L226.7,190.2 L223.9,188.2 L219.5,186.4 L214.4,184.9 L209.4,183.6 L205.2,182.6 L202.6,181.5Z M206.4,205.6 L208.9,206.6 L212.9,207.6 L218,208.9 L223.3,210.5 L228.2,212.4 L232,214.8 L234.4,218 L234,224.6 L229.4,220.8 L230,222.1 L229.4,220.2 L226.7,218.2 L222.3,216.4 L217.3,214.9 L212.3,213.6 L208,212.5 L205.3,211.5Z M209,235.5 L211.6,236.5 L215.8,237.6 L220.9,238.9 L226.2,240.5 L231,242.4 L234.7,244.9 L237,248.1 L236.4,254.7 L231.9,250.8 L232.5,252 L232.1,250.3 L229.4,248.2 L225.2,246.4 L220.1,244.8 L215.1,243.6 L210.8,242.5 L207.9,241.5Z M211.7,265.5 L214.4,266.5 L218.6,267.6 L223.8,268.8 L229.1,270.5 L233.8,272.4 L237.4,274.9 L239.7,278.2 L238.8,284.8 L234.4,280.8 L235,282 L234.7,280.3 L232.2,278.2 L228,276.4 L223,274.8 L217.9,273.5 L213.6,272.4 L210.6,271.4Z M214,294.6 L214.6,295.5 L217.3,296.4 L216.3,302.4 L213.1,301.3 L211.5,300.1Z" fill="#deeef3" stroke="#9cb8c2" stroke-width="0.9" stroke-linejoin="round"/>
<path d="M223.6,105.2 L221.3,108.1 L217.4,111 L212.6,113.6 L207.6,115.9 L203.2,117.8 L200.1,119.4 L199.6,120.1 L200,116.2 L195.7,121.2 L195.3,115.2 L197.9,113.3 L201.3,111.6 L205.8,109.7 L210.6,107.4 L215,105 L218.2,102.4 L219.9,99.9Z M226,135.3 L223.7,138.2 L219.7,141 L214.9,143.6 L209.9,145.9 L205.5,147.8 L202.6,149.3 L202.2,149.9 L202.5,146.1 L198.5,151.2 L197.7,145.2 L200.3,143.3 L203.6,141.6 L208.1,139.7 L212.9,137.5 L217.3,135 L220.6,132.5 L222.4,129.9Z M228.5,165.3 L226.1,168.2 L222,171.1 L217.1,173.7 L212.2,175.9 L207.9,177.8 L205,179.3 L204.9,179.8 L205,175.9 L201.3,181.3 L200.1,175.3 L202.7,173.2 L206,171.6 L210.3,169.7 L215.2,167.5 L219.7,165 L223,162.5 L224.9,159.9Z M230.9,195.4 L228.4,198.3 L224.3,201.1 L219.4,203.7 L214.5,205.9 L210.2,207.8 L207.5,209.2 L207.5,209.6 L207.5,205.8 L204.1,211.3 L202.6,205.4 L205.1,203.2 L208.3,201.6 L212.6,199.7 L217.4,197.5 L222,195.1 L225.4,192.5 L227.5,189.9Z M233.4,225.5 L230.8,228.4 L226.6,231.2 L221.7,233.7 L216.8,235.9 L212.6,237.8 L210,239.2 L210.2,239.4 L210,235.7 L206.9,241.3 L205,235.5 L207.5,233.2 L210.7,231.6 L214.9,229.7 L219.7,227.5 L224.3,225.1 L227.8,222.6 L230,220Z M235.8,255.6 L233.1,258.4 L228.9,261.2 L223.9,263.8 L219,266 L214.9,267.8 L212.5,269.2 L212.9,269.1 L212.6,265.5 L209.7,271.4 L207.4,265.7 L209.9,263.2 L213,261.6 L217.2,259.7 L222,257.6 L226.6,255.1 L230.2,252.6 L232.5,250Z M238.3,285.6 L235.5,288.5 L231.2,291.3 L226.2,293.8 L221.3,296 L217.3,297.8 L214.9,299.1 L214.6,300 L210.9,294.7 L212.3,293.2 L215.3,291.6 L219.5,289.7 L224.3,287.6 L228.9,285.2 L232.6,282.6 L235,280Z" fill="#d2e7ee" stroke="#7f9fab" stroke-width="1.0" stroke-linejoin="round"/>
<path d="M262.1,58.1 L264,59.2 L267.5,60.6 L272.3,62.3 L277.4,64.4 L282.3,66.7 L286.1,69.4 L288.6,72.7 L288.5,79.2 L283.8,75.6 L284.3,76.8 L283.3,74.8 L280.3,72.4 L275.9,70.2 L270.9,68.2 L266.2,66.5 L262.4,65 L260.2,63.7Z M261.7,88.2 L263.8,89.4 L267.5,90.8 L272.4,92.6 L277.6,94.7 L282.3,97.1 L286,99.8 L288.3,103.2 L287.6,109.8 L283.2,105.7 L283.7,107 L283,105.1 L280.3,102.7 L276,100.5 L271,98.4 L266.2,96.7 L262.3,95.2 L259.8,93.9Z M261.2,118.3 L263.6,119.6 L267.6,121.1 L272.5,122.9 L277.7,125 L282.3,127.4 L285.8,130.3 L287.8,133.7 L286.7,140.3 L282.5,136 L283,137.2 L282.7,135.4 L280.2,133 L276.1,130.8 L271.2,128.7 L266.3,126.9 L262.2,125.4 L259.5,124.1Z M260.8,148.5 L263.5,149.8 L267.6,151.3 L272.7,153.1 L277.8,155.3 L282.3,157.8 L285.6,160.7 L286.9,163.7 L282.8,168 L282.3,165.7 L280,163.4 L276.1,161.1 L271.3,159 L266.3,157.1 L262.1,155.6 L259.2,154.3Z M260,177.7 L260.7,178.7 L263.4,180 L267.7,181.5 L272.8,183.4 L277.9,185.6 L282.2,188.2 L285.4,191.1 L286.5,194.2 L282,198.2 L281.8,195.9 L279.9,193.7 L276.1,191.4 L271.4,189.2 L266.4,187.4 L262,185.8 L258.8,184.4 L257.2,183Z M259.3,207.8 L260.4,208.8 L263.4,210.1 L267.8,211.8 L272.9,213.7 L278,215.9 L282.2,218.5 L285.1,221.6 L285.9,224.7 L281.3,228.4 L281.3,226.2 L279.7,224 L276.2,221.7 L271.5,219.5 L266.5,217.6 L262,216 L258.6,214.6 L256.8,213.3Z M258.7,237.9 L260.1,239 L263.3,240.3 L267.9,242 L273.1,244 L278,246.3 L282.1,248.9 L284.8,252 L285.4,255.2 L280.4,258.6 L280.8,256.5 L279.5,254.3 L276.2,252 L271.6,249.8 L266.6,247.8 L262,246.2 L258.4,244.7 L256.4,243.5Z" fill="#deeef3" stroke="#9cb8c2" stroke-width="0.9" stroke-linejoin="round"/>
<path d="M272,59.1 L267.2,60.6 L263.8,61.8 L262.7,62.6 L263.8,59 L258.5,62.8 L259.5,57 L262.3,55.5 L266,54.2 L270.8,52.7Z M287.8,80.2 L285.2,82.9 L281,85.4 L275.9,87.5 L270.7,89.3 L266.1,90.7 L262.9,91.9 L262.3,92.6 L263.1,88.8 L258.4,93.3 L258.5,87.3 L261.2,85.7 L264.9,84.4 L269.5,82.9 L274.6,81.2 L279.2,79.1 L282.7,77 L284.6,74.6Z M286.9,110.6 L284.1,113.3 L279.8,115.7 L274.6,117.8 L269.4,119.5 L265,120.9 L262,122.1 L262,122.4 L262.4,118.7 L258.4,123.8 L257.5,117.7 L260.3,115.8 L263.7,114.5 L268.3,113.1 L273.3,111.4 L278.1,109.4 L281.7,107.3 L283.9,104.9Z M286,141 L283,143.6 L278.5,146 L273.3,148 L268.2,149.7 L263.9,151.1 L261.2,152.2 L261.7,152.2 L261.8,148.6 L258.3,154.1 L256.6,148.2 L259.3,146 L262.6,144.7 L267,143.3 L272,141.6 L276.9,139.7 L280.8,137.6 L283.2,135.2Z M287,168.3 L285.4,171.2 L281.9,174 L277.2,176.3 L272,178.3 L266.9,179.9 L262.8,181.2 L260.5,182.3 L260.3,183.1 L256.9,177.6 L258.4,176.2 L261.5,174.9 L265.8,173.5 L270.8,171.9 L275.7,170 L279.7,167.9 L282.1,165.7 L282.7,163.4Z M286.2,198.8 L284.4,201.6 L280.7,204.3 L276,206.6 L270.7,208.5 L265.7,210.1 L261.8,211.4 L259.8,212.4 L260,213.1 L256,208 L257.4,206.4 L260.4,205.1 L264.6,203.7 L269.5,202.1 L274.5,200.3 L278.7,198.1 L281.3,195.9 L282.3,193.6Z M285.4,229.2 L283.4,232 L279.5,234.6 L274.7,236.9 L269.4,238.7 L264.5,240.3 L260.8,241.6 L259.2,242.5 L259.9,242.9 L255.2,238.4 L256.5,236.6 L259.4,235.2 L263.4,233.9 L268.2,232.3 L273.2,230.5 L277.6,228.4 L280.5,226.2 L281.7,223.9Z M284.6,259.7 L282.4,262.4 L278.3,265 L273.5,267.1 L271.9,260.8 L276.5,258.7 L279.6,256.5 L281.2,254.2Z" fill="#d2e7ee" stroke="#7f9fab" stroke-width="1.0" stroke-linejoin="round"/>
<path d="M264.2,62.3 L262.3,59.4 L262.1,55.7 L263.6,52 L266.9,49.2 L271.5,47.7 L276.9,47.8 L282.5,49.6 L287.3,52.8 L287.2,57.3 L282.8,54.1 L278,52.2 L273.4,51.8 L269.7,52.7 L267.2,54.7 L266.3,57.1 L266.8,59.5 L268.6,61.6Z M279.2,72.4 L278.1,69.5 L282.6,69.6 L283.7,72.5Z" fill="#deeef3" stroke="#9cb8c2" stroke-width="0.9" stroke-linejoin="round"/>
<path d="M278.9,59.7 L276.9,63.1 L273.6,65.3 L269.8,65.7 L266.6,64.4 L266.2,59.5 L268.6,60.9 L270.9,61.1 L273.1,59.9 L274.6,57Z M289.7,54.6 L293.3,59 L295.4,64.2 L295.6,69.1 L294.2,73.4 L291.3,76.3 L287.6,77.5 L283.9,77 L279,73.1 L283.8,71.7 L283.6,72 L285.8,72.9 L288.1,72.5 L290,70.7 L290.9,67.6 L290.4,63.7 L288.3,59.5 L284.8,55.5Z" fill="#d2e7ee" stroke="#7f9fab" stroke-width="1.0" stroke-linejoin="round"/>
<path d="M271,261 C262,268 258,276 248,279" fill="none" stroke="#9cb8c2" stroke-width="3.6" stroke-linecap="round"/>
<path d="M271,261 C262,268 258,276 248,279" fill="none" stroke="#deeef3" stroke-width="2.4" stroke-linecap="round"/>
<circle cx="168" cy="147" r="2.8" fill="#c9323c"/>
<circle cx="172" cy="150" r="2.8" fill="#666666"/>
<circle cx="176" cy="153" r="2.8" fill="#666666"/>
<circle cx="181" cy="156" r="2.8" fill="#c9323c"/>
<circle cx="184" cy="160" r="2.8" fill="#666666"/>
<circle cx="186" cy="165" r="2.8" fill="#c9323c"/>
<circle cx="187" cy="170" r="2.8" fill="#666666"/>
<circle cx="185" cy="175" r="2.8" fill="#c9323c"/>
<circle cx="189" cy="180" r="2.8" fill="#666666"/>
<circle cx="190" cy="185" r="2.8" fill="#c9323c"/>
<path d="M100.4,289.6 L101.7,286.5 L104.7,283.9 L108.9,282.4 L113.8,282.5 L118.8,284.2 L123.2,287.4 L126.3,291.8 L124.7,295.5 L121.9,291.2 L118.3,288.1 L114.1,286.5 L110.1,286.3 L106.7,287.4 L104.5,289.4 L103.6,292Z M110.2,309.4 L110.3,306.3 L112.2,303.1 L115.6,300.8 L120.1,299.7 L125.1,300.2 L129.9,302.4 L134,306.1 L137.8,312.7 L133.9,312.4 L132.6,309.8 L129.2,306.4 L125.2,304.2 L121,303.6 L117.4,304.4 L114.8,306.2 L113.6,308.5 L113.8,311Z M119.8,325.9 L120.5,322.8 L122.9,319.8 L126.6,317.8 L131.3,317.1 L136.3,318.2 L141,320.8 L144.8,324.9 L148.1,331.8 L144.1,331.2 L143.1,328.5 L140.1,324.7 L136.2,322.2 L132,321.1 L128.1,321.5 L125.2,323 L123.6,325.3 L123.3,327.8Z" fill="#f6f2d4" stroke="#dcd7b5" stroke-width="0.9" stroke-linejoin="round"/>
<path d="M127.7,294.2 L129.1,299.4 L128.8,304.8 L127,309.6 L124,313.3 L120.3,315.4 L116.4,315.9 L113,314.7 L111.1,312.3 L112.9,308.2 L114,310.3 L115.9,311.4 L118.5,311.3 L121.3,309.6 L123.7,306.6 L124.9,302.6 L124.8,298 L123.3,293.2Z M138,313.2 L139,318.5 L138.2,323.8 L136,328.3 L132.7,331.5 L128.9,333.2 L125.1,333.1 L121.9,331.5 L119.4,326.6 L123.8,327.2 L123.4,327.2 L125,328.6 L127.5,328.9 L130.3,327.7 L132.8,325.1 L134.5,321.3 L134.8,316.8 L133.7,311.9Z M148.2,332.2 L148.7,337.5 L147.5,342.7 L144.9,346.8 L141.4,349.6 L137.5,350.8 L134.2,350.2 L133.8,345.8 L136.4,346.4 L139.2,345.7 L141.9,343.5 L143.9,340 L144.6,335.6 L144,330.7Z" fill="#f3edb8" stroke="#c9c394" stroke-width="1.0" stroke-linejoin="round"/>
<path d="M84.9,305.5 L84.5,302.1 L86.1,298.5 L89.3,295.6 L93.7,294 L98.9,294 L104.1,295.8 L108.7,299.3 L112,304 L110.3,307.6 L107.4,303.1 L103.6,299.8 L99.1,298 L94.8,297.8 L91.2,299.1 L88.8,301.4 L88,304 L88.7,306.8Z M93.7,323.1 L93.5,319.6 L95.3,316.1 L98.6,313.3 L103.1,311.8 L108.4,312 L113.6,314 L118.1,317.6 L121.2,322.4 L119.5,326 L116.7,321.3 L112.9,317.9 L108.5,316 L104.2,315.7 L100.4,316.8 L97.9,319 L97,321.7 L97.5,324.5Z M102.6,340.6 L102.6,337.2 L104.5,333.6 L107.9,331 L112.6,329.6 L117.8,330 L123,332.2 L127.4,335.9 L130.4,340.8 L128.6,344.4 L126,339.6 L122.3,336.1 L117.9,334 L113.5,333.5 L109.7,334.5 L107.1,336.7 L105.9,339.3 L106.3,342.1Z" fill="#f1eab8" stroke="#c6bd84" stroke-width="0.9" stroke-linejoin="round"/>
<path d="M96.3,311.1 L92.3,311.8 L88.4,310.7 L86,308.3 L87.5,304 L89.2,306.3 L91.7,307.3 L95.1,306.8Z M113.4,306.3 L114.9,311.9 L114.5,317.7 L112.5,322.8 L109.2,326.8 L105.1,329.1 L100.8,329.6 L97,328.4 L94.8,325.8 L96.4,321.7 L98,324 L100.3,325.1 L103.4,324.9 L106.6,323.1 L109.2,319.8 L110.7,315.3 L110.6,310.4 L109,305.2Z M122.5,324.8 L123.9,330.4 L123.3,336.1 L121.2,341.2 L117.8,345 L113.6,347.1 L109.4,347.5 L105.7,346.1 L103.5,343.4 L105.3,339.3 L106.7,341.7 L109,343 L112.1,342.9 L115.3,341.2 L118,338 L119.5,333.7 L119.6,328.7 L118.2,323.6Z M131.7,343.2 L132.8,348.8 L132.1,354.5 L129.9,359.5 L126.3,363.1 L122.4,365 L120.4,361 L123.9,359.3 L126.7,356.3 L128.4,352.1 L128.7,347.1 L127.4,342Z" fill="#ebe18a" stroke="#a69c4e" stroke-width="1.0" stroke-linejoin="round"/>
<ellipse cx="156" cy="346" rx="12.5" ry="13.5" fill="none" stroke="#a69c4e" stroke-width="4"/>
<ellipse cx="156" cy="346" rx="12.5" ry="13.5" fill="none" stroke="#ebe18a" stroke-width="2.6"/>
<ellipse cx="160" cy="349.3" rx="12.5" ry="13.5" fill="none" stroke="#a69c4e" stroke-width="4"/>
<ellipse cx="160" cy="349.3" rx="12.5" ry="13.5" fill="none" stroke="#ebe18a" stroke-width="2.6"/>
<ellipse cx="164" cy="352.7" rx="12.5" ry="13.5" fill="none" stroke="#a69c4e" stroke-width="4"/>
<ellipse cx="164" cy="352.7" rx="12.5" ry="13.5" fill="none" stroke="#ebe18a" stroke-width="2.6"/>
<ellipse cx="168" cy="356" rx="12.5" ry="13.5" fill="none" stroke="#a69c4e" stroke-width="4"/>
<ellipse cx="168" cy="356" rx="12.5" ry="13.5" fill="none" stroke="#ebe18a" stroke-width="2.6"/>
<path d="M163,312 C158,325 160,333 158,338" fill="none" stroke="#c6bd84" stroke-width="3.6" stroke-linecap="round"/>
<path d="M163,312 C158,325 160,333 158,338" fill="none" stroke="#f1eab8" stroke-width="2.4" stroke-linecap="round"/>
<path d="M190.7,331.4 L188.8,329.2 L188,325.8 L188.8,322 L191.2,318.5 L195,315.6 L199.9,314 L205.4,313.7 L212.8,315.5 L209.8,318.2 L207.1,317.3 L202.3,317.2 L197.9,318.4 L194.5,320.6 L192.5,323.4 L192,326.1 L192.7,328.3 L194.4,329.9Z M210.8,335.5 L209,333.1 L208.5,329.5 L209.6,325.8 L212.3,322.3 L216.4,319.7 L221.5,318.3 L227,318.3 L234.3,320.4 L231.2,323 L228.6,322 L223.7,321.6 L219.2,322.5 L215.6,324.6 L213.3,327.3 L212.5,330.1 L213,332.4 L214.6,334.2Z M230.9,339.5 L229.3,336.9 L229.1,333.3 L230.5,329.5 L233.5,326.2 L237.8,323.7 L243,322.6 L248.4,323 L250.2,326.5 L245.1,326 L240.5,326.7 L236.7,328.6 L234.2,331.2 L233.1,334 L233.3,336.5 L234.8,338.4Z M253.5,345.5 L251.1,343.8 L249.7,340.7 L249.8,337 L251.5,333.3 L254.8,330.1 L259.3,327.8 L264.6,327 L269.9,327.6 L271.6,331.2 L266.6,330.4 L261.9,330.9 L257.9,332.6 L255.1,335.1 L253.7,337.9 L253.7,340.5 L254.9,342.3 L256.9,343.4Z" fill="#f1eab8" stroke="#c6bd84" stroke-width="0.9" stroke-linejoin="round"/>
<path d="M199.1,332.2 L196.2,333.2 L190.9,332.2 L194.2,329.1 L193.9,329.4 L196.2,328.8Z M213.2,315.7 L217.7,318.4 L221.1,322.2 L223,326.5 L223.2,330.7 L221.9,334.3 L219.3,336.8 L216.1,337.7 L210.9,336.2 L214.5,333.4 L214.1,333.7 L216.1,333.7 L217.8,332.4 L218.7,330 L218.5,326.9 L216.8,323.5 L213.7,320.4 L209.4,318Z M234.7,320.6 L239,323.5 L242.1,327.5 L243.6,331.8 L243.6,335.9 L242,339.3 L239.3,341.5 L236,342.2 L231,340.2 L234.7,337.7 L234.3,338 L236.2,338.2 L238,337.2 L239.2,335 L239.1,331.9 L237.7,328.6 L234.9,325.4 L230.8,322.8Z M251,323.3 L256,325.3 L260.2,328.6 L263,332.7 L264.3,337.1 L263.9,341.1 L262.1,344.3 L259.2,346.2 L256.3,346.4 L254.1,342.5 L256.4,342.7 L258.2,341.9 L259.5,339.9 L259.8,337 L258.6,333.6 L256.1,330.4 L252.3,327.8 L247.5,326.1Z M268.6,329 L273,329.9Z" fill="#ebe18a" stroke="#a69c4e" stroke-width="1.0" stroke-linejoin="round"/>
<path d="M171.2,285.6 L172,284.7 L173.8,282 L176.6,278.1 L180.1,273.7 L184.3,269.7 L188.8,266.7 L193.3,265.2 L197.3,265.9 L198.8,270.7 L195.7,269.6 L192.2,270.3 L188.2,272.8 L184.3,276.5 L180.9,280.6 L178.2,284.4 L176.3,287.2 L175.3,288.3Z M201.5,296.2 L202.8,294.4 L205,291.1 L208.2,286.9 L212,282.6 L216.4,278.9 L220.9,276.5 L225.5,275.9 L231.7,278.7 L227.4,281.3 L227.1,280.6 L223.9,280.5 L220.1,282.2 L216.1,285.5 L212.4,289.5 L209.4,293.6 L207.2,296.8 L205.9,298.7Z" fill="#f1eab8" stroke="#c6bd84" stroke-width="0.9" stroke-linejoin="round"/>
<path d="M176.6,273.7 L176.6,279.2 L176.2,283.7 L176,286.4 L176.2,286.9 L170.2,286.9 L170.1,285.6 L170.3,282.6 L170.6,278.2 L170.7,272.9Z M200.9,267.3 L203.7,270.4 L205.7,275.3 L206.6,281 L206.8,286.8 L206.6,292 L206.2,295.8 L206.2,297.4 L202.6,294.6 L204.8,300.2 L200.2,297.3 L200.3,294.8 L200.7,291 L200.9,286 L200.6,280.6 L199.7,275.5 L197.9,271.7 L195.2,269.3Z M232.4,279.3 L234.9,283.1 L236.3,288.4 L236.9,294.3 L236.9,299.8 L231,299 L231,293.7 L230.3,288.3 L228.9,283.9 L226.6,280.6Z" fill="#ebe18a" stroke="#a69c4e" stroke-width="1.0" stroke-linejoin="round"/>
<path d="M166,282 C160,300 166,310 162,318" fill="none" stroke="#c6bd84" stroke-width="3.6" stroke-linecap="round"/>
<path d="M166,282 C160,300 166,310 162,318" fill="none" stroke="#f1eab8" stroke-width="2.4" stroke-linecap="round"/>
<path d="M455.8,236.1 L457.9,236.4 L461.3,236.2 L465.8,235.8 L470.7,235.5 L475.4,235.6 L479.6,236.4 L482.9,238.3 L485.4,244.3 L479.6,242.9 L480.6,243.8 L479.3,242.4 L476.2,241.5 L471.9,241.3 L467.2,241.6 L462.7,242.1 L459,242.3 L456.5,242Z M470.4,262.8 L473.1,262.9 L477.1,262.6 L478.5,268.4 L474.4,268.8 L471.5,268.7Z" fill="#d8e5d2" stroke="#b6c7b2" stroke-width="0.9" stroke-linejoin="round"/>
<path d="M458.8,238.1 L458.4,239.4 L457.5,236.1 L454.9,242 L452.5,236.6 L453.7,234.1Z M485.2,245.3 L484.3,248.8 L482,252.8 L479.1,256.7 L476.1,260.4 L473.6,263.5 L472.3,265.6 L472.8,265.4 L471.3,262.5 L470.6,269 L466.4,264.7 L467.3,261.4 L469.1,258.7 L471.8,255.5 L474.7,251.9 L477.4,248.2 L479.2,244.8 L479.7,241.8Z" fill="#cdddc5" stroke="#a9bca5" stroke-width="1.0" stroke-linejoin="round"/>
<path d="M464.2,117.8 L465.7,118.7 L468.1,119.5 L471.4,120.3 L475.1,121.2 L478.7,122.3 L481.8,123.9 L484.2,126.2 L486,132.1 L480.3,130.1 L481.1,131.3 L480.1,129.7 L477.9,128.3 L474.8,127.2 L471.3,126.3 L467.9,125.5 L465,124.7 L463,123.6Z M473.4,146.6 L475.1,147.5 L477.7,148.3 L481.1,149 L481,155 L477.5,154.3 L474.5,153.5 L472.4,152.5Z" fill="#d8e5d2" stroke="#b6c7b2" stroke-width="0.9" stroke-linejoin="round"/>
<path d="M466.2,119.8 L465.9,121 L465.6,118.1 L461.7,123.3 L460.3,117.8 L461.3,115.5Z M485.8,133 L484.9,135.9 L483,139 L480.6,142 L478.1,144.7 L476.1,147.1 L474.9,148.9 L475.1,149.6 L474.5,146.7 L471.3,152.3 L469.2,146.9 L470.3,144.3 L472.1,142 L474.3,139.5 L476.7,136.8 L478.8,134.1 L480.1,131.5 L480.6,129.1Z" fill="#cdddc5" stroke="#a9bca5" stroke-width="1.0" stroke-linejoin="round"/>
<path d="M504.6,179.4 L505.2,180.3 L507.3,181.3 L510.8,182.3 L515,183.5 L519.3,184.9 L523.1,186.7 L526.1,189.1 L527.4,191.7 L523.6,196.4 L523.1,194.3 L521.4,192.5 L518.3,190.8 L514.3,189.5 L510.2,188.3 L506.5,187.2 L503.6,186.1 L502.1,184.8Z M509.2,209.2 L510.3,210.2 L512.8,211.2 L516.5,212.2 L520.8,213.4 L525,214.9 L528.7,216.8 L531.4,219.3 L532.4,222.2 L528.1,226.4 L528.1,224.3 L526.7,222.5 L523.9,220.8 L520,219.4 L515.9,218.2 L512.1,217.1 L509,216 L507.2,214.8Z" fill="#d4e2ce" stroke="#aec1aa" stroke-width="0.9" stroke-linejoin="round"/>
<path d="M513.6,177.4 L510,179.8 L507.2,181.8 L505.7,183.3 L505.7,184.3 L501,179.9 L501.9,178 L504.3,176 L507.4,173.9 L510.9,171.5Z M528,196.1 L527,199.1 L524.5,202.2 L521.2,205 L517.5,207.6 L514,210 L511.4,211.9 L510.4,213.1 L510.9,213.8 L505.5,210.2 L506.2,208.2 L508.4,206.1 L511.3,204 L514.8,201.7 L518.3,199.2 L521.1,196.6 L522.7,194.3 L523,192Z M532.6,226.5 L531.3,229.5 L528.6,232.5 L525.1,235.3 L521.4,237.8 L518.1,240.1 L515.4,234.1 L518.7,231.9 L522.3,229.4 L525.3,226.9 L527.2,224.4 L527.9,222Z" fill="#c8d9bf" stroke="#a0b59c" stroke-width="1.0" stroke-linejoin="round"/>
<path d="M497.5,148.5 L501.7,150.2 L506.5,152.1 L511,154.3 L514.8,156.9 L517.5,159.9 L518.1,162.9 L513.3,166.5 L513.5,164.4 L512.2,162.3 L509.1,160 L504.9,157.9 L500.3,156 L496.2,154.4Z M492.9,176 L494.2,177.2 L497.1,178.5 L501.3,180.2 L506,182.1 L510.5,184.3 L514.3,186.9 L517,189.9 L517.6,192.9 L512.8,196.5 L513,194.4 L511.7,192.3 L508.6,190 L504.4,187.9 L499.8,186 L495.6,184.3 L492.3,182.9 L490.5,181.5Z M492.4,206 L493.7,207.2 L496.6,208.5 L500.8,210.2 L505.5,212.1 L510,214.3 L513.8,216.9 L516.5,219.9 L517.1,222.9 L512.3,226.5 L512.5,224.4 L511.2,222.3 L508.1,220 L503.9,217.9 L499.4,216 L495.1,214.3 L491.8,212.9 L490,211.5Z M491.9,236 L493.2,237.2 L496.1,238.5 L500.3,240.2 L505,242.1 L509.6,244.3 L513.3,246.9 L516,249.9 L516.6,252.9 L511.8,256.5 L512,254.4 L510.7,252.3 L507.6,250 L503.4,247.9 L498.9,246 L494.6,244.3 L491.3,242.9 L489.5,241.5Z M491.4,266 L492.7,267.2 L495.7,268.5 L494.1,274.3 L490.8,272.9 L489,271.5Z" fill="#c9dac0" stroke="#98b193" stroke-width="0.9" stroke-linejoin="round"/>
<path d="M517.5,167.4 L515.6,170.1 L511.9,172.6 L507.4,174.8 L502.6,176.7 L498.2,178.3 L494.8,179.6 L493.5,180.5 L494.1,181 L489.3,176.6 L490.5,174.7 L493.2,173.3 L496.8,171.9 L501.3,170.3 L505.9,168.5 L509.9,166.5 L512.6,164.3 L513.8,162Z M517,197.4 L515.1,200.1 L511.4,202.6 L506.9,204.8 L502.1,206.7 L497.6,208.3 L494.3,209.6 L493,210.5 L493.6,211 L488.8,206.6 L490,204.7 L492.7,203.3 L496.3,201.9 L500.8,200.3 L505.3,198.5 L509.4,196.5 L512.1,194.3 L513.3,192Z M516.5,227.4 L514.5,230.1 L510.9,232.7 L506.4,234.8 L501.6,236.7 L497.1,238.2 L493.8,239.6 L492.5,240.5 L493.1,241 L488.3,236.6 L489.4,234.7 L492.2,233.3 L495.8,231.9 L500.2,230.3 L504.8,228.5 L508.9,226.5 L511.6,224.3 L512.8,222Z M516,257.4 L514,260.1 L510.4,262.7 L505.9,264.8 L501.1,266.7 L496.6,268.2 L493.3,269.6 L492,270.5 L492.6,271 L487.8,266.6 L488.9,264.7 L491.7,263.3 L495.3,261.9 L499.7,260.3 L504.3,258.5 L508.4,256.5 L511.1,254.3 L512.3,252Z" fill="#b9cfae" stroke="#87a181" stroke-width="1.0" stroke-linejoin="round"/>
<path d="M567.8,99.5 L571,100.6 L575.7,102 L581.3,103.6 L586.8,105.6 L591.6,108 L595.1,110.8 L596.4,113.8 L592.2,118.1 L591.8,115.8 L589.6,113.6 L585.4,111.4 L580.2,109.5 L574.8,107.9 L570,106.5 L566.7,105.4Z M567.8,128.7 L569,129.6 L572.2,130.7 L577,132.1 L582.6,133.8 L588.1,135.8 L592.7,138.2 L596.1,141.1 L597.2,144.3 L592.8,148.3 L592.6,146.1 L590.6,143.9 L586.7,141.7 L581.5,139.7 L576.1,138 L571.2,136.7 L567.5,135.5 L565.7,134.3Z M568.4,158.7 L569.9,159.7 L573.4,160.9 L578.3,162.3 L583.9,164 L589.4,166.1 L593.9,168.5 L597.1,171.5 L597.9,174.7 L593.3,178.5 L593.4,176.3 L591.7,174.1 L587.9,171.9 L582.8,169.9 L577.4,168.2 L572.4,166.8 L568.6,165.6 L566.6,164.4Z M569.2,188.8 L570.9,189.8 L574.6,191 L579.7,192.4 L585.3,194.2 L590.7,196.3 L595,198.8 L598,201.9 L598.7,205.1 L593.8,208.6 L594.2,206.5 L592.7,204.3 L589.1,202.1 L584.1,200.1 L578.7,198.4 L573.6,196.9 L569.6,195.7 L567.4,194.6Z M569.9,218.9 L572,219.9 L575.8,221.1 L581,222.6 L586.6,224.4 L591.9,226.6 L596.2,229.1 L599,232.3 L599.3,238.9 L594.4,235.5 L594.9,236.7 L593.7,234.6 L590.3,232.3 L585.4,230.3 L580,228.5 L574.8,227.1 L570.7,225.8 L568.4,224.7Z M570.7,249 L573,250.1 L577.1,251.3 L582.3,252.8 L588,254.6 L593.2,256.8 L597.3,259.4 L599.9,262.7 L599.7,269.3 L595,265.6 L595.6,266.8 L594.7,264.8 L591.5,262.6 L586.7,260.5 L581.3,258.7 L576.1,257.2 L571.8,255.9 L569.3,254.8Z" fill="#e1eff4" stroke="#a5bfc8" stroke-width="0.9" stroke-linejoin="round"/>
<path d="M596.4,118.5 L594.6,121.5 L590.8,124.4 L585.9,126.9 L580.3,129.1 L575,130.9 L570.8,132.3 L568.5,133.4 L568.7,134.1 L564.8,128.9 L566.2,127.4 L569.3,126 L573.7,124.5 L578.9,122.7 L584.2,120.6 L588.6,118.3 L591.3,115.9 L592.2,113.5Z M596.9,148.9 L595,151.9 L591,154.7 L586,157.1 L580.4,159.3 L575.2,161 L571.1,162.5 L569.2,163.5 L569.7,164 L565.3,159.2 L566.6,157.5 L569.6,156.1 L573.8,154.7 L579,152.9 L584.3,150.9 L588.9,148.5 L591.8,146.2 L593,143.7Z M597.5,179.3 L595.3,182.2 L591.2,185 L586.1,187.4 L580.5,189.5 L575.4,191.2 L571.5,192.6 L569.9,193.5 L570.8,193.7 L565.8,189.7 L567,187.7 L569.9,186.3 L574,184.8 L579.1,183.1 L584.5,181.1 L589.2,178.8 L592.3,176.4 L593.7,173.9Z M598,209.6 L595.6,212.5 L591.4,215.2 L586.2,217.6 L580.6,219.7 L575.6,221.4 L571.9,222.7 L570.7,223.6 L571.7,219.8 L566.6,223.8 L567.4,217.9 L570.2,216.4 L574.2,215 L579.2,213.3 L584.6,211.3 L589.4,209.1 L592.8,206.7 L594.5,204.2Z M598.5,240 L596,242.8 L591.6,245.5 L586.3,247.9 L580.7,249.9 L575.8,251.5 L572.3,252.8 L571.5,253.5 L572.2,249.6 L567.7,254.3 L567.8,248.2 L570.6,246.6 L574.4,245.2 L579.4,243.5 L584.7,241.6 L589.6,239.3 L593.2,236.9 L595.1,234.4Z M599,270.3 L596.2,273.1 L591.9,275.7 L589.7,269.6 L593.6,267.2 L595.8,264.6Z" fill="#d6e9ef" stroke="#8ba8b3" stroke-width="1.0" stroke-linejoin="round"/>
<path d="M590.3,123.8 L592.1,124.9 L595.7,126.1 L600.5,127.6 L605.7,129.3 L610.6,131.4 L614.6,133.9 L617.3,136.9 L617.8,143.4 L612.8,140.1 L613.3,141.4 L612.1,139.4 L608.9,137.2 L604.4,135.2 L599.4,133.5 L594.6,132 L590.8,130.8 L588.6,129.6Z M591.1,153.8 L593,154.9 L596.6,156.1 L601.4,157.6 L606.6,159.3 L611.5,161.4 L615.5,163.9 L618.2,166.9 L618.6,173.5 L613.6,170.1 L614.2,171.4 L613,169.4 L609.9,167.2 L605.4,165.2 L600.3,163.5 L595.6,162 L591.7,160.7 L589.5,159.6Z M592,183.8 L593.9,184.9 L597.5,186.1 L602.3,187.6 L607.5,189.3 L612.4,191.4 L616.4,193.9 L619.1,197 L619.5,203.5 L614.5,200.1 L615,201.4 L613.9,199.4 L610.8,197.2 L606.3,195.2 L601.3,193.5 L596.5,192 L592.6,190.7 L590.4,189.6Z M592.9,213.8 L594.8,214.9 L598.4,216.1 L603.2,217.6 L608.5,219.3 L613.4,221.4 L617.3,223.9 L620,227 L620.4,233.5 L615.4,230.1 L615.9,231.4 L614.8,229.4 L611.7,227.2 L607.2,225.2 L602.2,223.5 L597.4,222 L593.5,220.7 L591.3,219.6Z M593.8,243.8 L595.8,244.9 L599.4,246.1 L604.2,247.6 L609.4,249.3 L614.3,251.4 L618,253.8 L616,259.5 L612.6,257.2 L608.1,255.2 L603.1,253.5 L598.3,252 L594.5,250.7 L592.2,249.6Z" fill="#e4f1f5" stroke="#afc6ce" stroke-width="0.9" stroke-linejoin="round"/>
<path d="M592.3,127.4 L591.1,128.3 L591.9,124.7 L586.9,128.7 L587.5,122.9 L589.9,121.3Z M617,144.5 L614.8,147.3 L610.8,150 L605.9,152.4 L600.8,154.4 L596.2,156.1 L592.9,157.5 L592,158.3 L592.8,154.7 L587.8,158.8 L588.4,152.9 L591,151.3 L594.7,149.8 L599.3,148.1 L604.2,146.1 L608.7,143.9 L611.8,141.5 L613.5,139.1Z M617.9,174.5 L615.6,177.3 L611.6,180 L606.8,182.4 L601.6,184.4 L597.1,186.1 L593.8,187.5 L592.9,188.3 L593.7,184.6 L588.7,188.8 L589.2,182.9 L591.9,181.3 L595.5,179.8 L600.1,178.1 L605.1,176.1 L609.5,173.9 L612.7,171.5 L614.4,169.1Z M618.8,204.5 L616.5,207.3 L612.5,210 L607.6,212.4 L602.5,214.4 L597.9,216.1 L594.6,217.5 L593.8,218.3 L594.6,214.6 L589.6,218.8 L590.1,212.9 L592.8,211.3 L596.4,209.8 L601,208.1 L605.9,206.1 L610.4,203.9 L613.6,201.5 L615.3,199.1Z M619.7,234.5 L617.3,237.4 L613.3,240 L608.5,242.4 L603.3,244.4 L598.8,246.1 L595.5,247.5 L594.6,248.3 L595.5,244.6 L590.5,248.8 L591,242.9 L593.6,241.3 L597.3,239.8 L601.8,238.1 L606.8,236.1 L611.2,233.9 L614.5,231.5 L616.1,229.1Z" fill="#dbebf1" stroke="#98b2bb" stroke-width="1.0" stroke-linejoin="round"/>
<path d="M428,80 C420,98 432,115 444,113 S456,83 464,79" fill="none" stroke="#a7bca3" stroke-width="3.6" stroke-linecap="round"/>
<path d="M428,80 C420,98 432,115 444,113 S456,83 464,79" fill="none" stroke="#d0dfc9" stroke-width="2.4" stroke-linecap="round"/>
<path d="M464,83 C477,93 462,108 454,115" fill="none" stroke="#a7bca3" stroke-width="3.6" stroke-linecap="round"/>
<path d="M464,83 C477,93 462,108 454,115" fill="none" stroke="#d0dfc9" stroke-width="2.4" stroke-linecap="round"/>
<path d="M427,265 C447,275 472,265 492,283" fill="none" stroke="#b6c7b2" stroke-width="3.6" stroke-linecap="round"/>
<path d="M427,265 C447,275 472,265 492,283" fill="none" stroke="#d8e5d2" stroke-width="2.4" stroke-linecap="round"/>
<path d="M403,53 C404,35 422,43 430,37 S442,21 448,25 S460,41 472,41 S497,38 502,49" fill="none" stroke="#6d9066" stroke-width="3.6" stroke-linecap="round"/>
<path d="M403,53 C404,35 422,43 430,37 S442,21 448,25 S460,41 472,41 S497,38 502,49" fill="none" stroke="#b2cba6" stroke-width="2.4" stroke-linecap="round"/>
<path d="M399.6,51.6 L397.9,49 L397.7,45.4 L399.2,42.1 L402.3,39.5 L406.7,38.2 L411.8,38.3 L417.2,39.8 L422.1,42.6 L422.2,47.6 L417.8,44.8 L413.2,43.1 L408.8,42.7 L405.4,43.4 L403.2,45 L402.4,47 L402.9,48.9 L404.5,50.7Z M416.8,62.1 L415.5,59.3 L415.7,55.7 L417.6,52.5 L421.1,50.2 L425.7,49.2 L431,49.7 L436.3,51.6 L443.3,56.2 L438.7,58.1 L436.7,56.5 L432.1,54.5 L427.7,53.8 L423.9,54.3 L421.4,55.7 L420.3,57.6 L420.5,59.6 L421.8,61.6Z M434.2,72.5 L433.1,69.6 L433.8,66 L436.1,63 L439.9,61 L444.8,60.4 L450.1,61.2 L455.4,63.4 L462.1,68.4 L457.4,70.1 L455.6,68.4 L451.1,66.1 L446.5,65.1 L442.6,65.3 L439.7,66.5 L438.2,68.3 L438.1,70.3 L439.2,72.4Z M453.5,85.7 L451.6,83.3 L450.9,79.8 L452,76.4 L454.7,73.6 L458.8,71.9 L463.9,71.6 L469.3,72.8 L474.2,75.4 L474.6,80.3 L470,77.8 L465.4,76.4 L461.3,76.3 L458.1,77.3 L456.2,79 L455.8,81 L456.5,82.8 L458.4,84.5Z" fill="#b2cba6" stroke="#6d9066" stroke-width="0.9" stroke-linejoin="round"/>
<path d="M411.5,53.2 L408.7,54.8 L405.2,55.1 L402.3,53.9 L401.8,48.4 L403.9,49.8 L405.8,50.1 L407.9,49Z M424.8,44.4 L428.6,48.3 L431.1,53 L432,57.6 L431.2,61.6 L428.9,64.7 L425.6,66.2 L422.1,66.1 L416.8,62.9 L421.9,60.8 L421.2,60.7 L423.1,61.3 L425,60.8 L426.2,59.2 L426.6,56.5 L425.6,53 L423.2,49.4 L419.5,45.8Z M443.7,56.5 L447.2,60.6 L449.3,65.3 L449.7,69.8 L448.5,73.7 L445.9,76.4 L442.5,77.5 L439,77 L434,73.3 L439.3,71.6 L438.5,71.5 L440.4,72.4 L442.3,72.2 L443.8,70.9 L444.4,68.5 L443.8,65.1 L441.7,61.5 L438.3,57.8Z M462.5,68.7 L465.6,73 L467.3,77.7 L467.3,82.1 L465.7,85.7 L462.9,88 L459.4,88.7 L456.4,87.8 L455.5,82.4 L457.7,83.5 L459.6,83.6 L461.2,82.5 L462.1,80.3 L461.8,77.2 L460.2,73.6 L457.1,69.8Z M477,77 L481.1,80.8 L484,85.3 L485.3,90 L485,93.9 L479.7,92.5 L479.8,89.2 L478.5,85.7 L475.8,82 L471.8,78.7Z" fill="#9bbb8c" stroke="#547a4c" stroke-width="1.0" stroke-linejoin="round"/>
<path d="M392,103 C397,91 407,95 414,99 S437,103 444,103" fill="none" stroke="#6d9066" stroke-width="3.6" stroke-linecap="round"/>
<path d="M392,103 C397,91 407,95 414,99 S437,103 444,103" fill="none" stroke="#b2cba6" stroke-width="2.4" stroke-linecap="round"/>
<path d="M405.4,109.6 L406,110.5 L408.7,111.2 L413,112 L418.2,112.9 L423.6,114.1 L428.4,115.8 L432.2,118 L434,120.7 L430.7,125.7 L429.8,123.5 L427.2,121.6 L423,120.1 L417.9,118.9 L412.8,118 L408.3,117.2 L405,116.4 L403.3,115.3Z M410.1,139.3 L410.8,140.1 L413.4,140.8 L417.8,141.6 L423,142.5 L428.4,143.7 L433.2,145.4 L436.9,147.6 L438.8,150.3 L435.5,155.3 L434.6,153.1 L432,151.3 L427.7,149.7 L422.7,148.5 L417.5,147.6 L413.1,146.8 L409.7,146 L408,144.9Z M414.9,168.9 L415.5,169.7 L418.2,170.5 L422.5,171.2 L427.8,172.1 L433.1,173.4 L437.9,175 L441.7,177.2 L443.5,179.9 L440.2,184.9 L439.3,182.7 L436.7,180.9 L432.5,179.3 L427.4,178.1 L422.3,177.2 L417.8,176.4 L414.5,175.6 L412.8,174.5Z M419.6,198.5 L420.3,199.3 L423,200.1 L422.5,206.1 L419.2,205.3 L417.5,204.2Z" fill="#b2cba6" stroke="#6d9066" stroke-width="0.9" stroke-linejoin="round"/>
<path d="M417.5,108 L412.8,110.5 L408.9,112.5 L406.7,114.1 L406.4,115 L402.3,109.9 L403.6,108.3 L406.5,106.5 L410.5,104.4 L415.2,101.9Z M434.9,125.2 L434,128.4 L431,131.7 L427,134.7 L422.2,137.6 L417.5,140.1 L413.7,142.2 L411.4,143.7 L411.1,144.6 L407.1,139.6 L408.3,138 L411.3,136.1 L415.3,134 L419.8,131.5 L424.3,128.8 L427.8,126 L429.7,123.5 L429.8,121.1Z M439.7,154.8 L438.7,158 L435.8,161.3 L431.7,164.4 L426.9,167.2 L422.3,169.7 L418.4,171.8 L416.2,173.3 L415.9,174.2 L411.8,169.2 L413.1,167.6 L416,165.8 L420,163.6 L424.6,161.2 L429,158.4 L432.5,155.7 L434.4,153.1 L434.6,150.8Z M444.4,184.5 L443.4,187.6 L440.5,190.9 L436.4,194 L431.7,196.8 L427,199.4 L423.1,201.4 L420.9,202.9 L420.6,203.9 L416.5,198.8 L417.8,197.2 L420.7,195.4 L424.7,193.3 L429.3,190.8 L433.7,188.1 L437.3,185.3 L439.1,182.7 L439.3,180.4Z" fill="#9bbb8c" stroke="#547a4c" stroke-width="1.0" stroke-linejoin="round"/>
<path d="M420.2,203.4 L421.5,204.5 L424.6,205.9 L429.2,207.6 L434.3,209.6 L439.3,211.9 L443.4,214.6 L446.2,217.7 L446.8,220.9 L441.8,224.3 L442.2,222.2 L440.8,220 L437.4,217.6 L432.8,215.4 L427.8,213.4 L423.2,211.7 L419.7,210.3 L417.8,209Z M419.4,233.6 L421.1,234.7 L424.5,236.2 L429.2,237.9 L434.4,240 L439.2,242.4 L443.1,245.1 L445.7,248.3 L445.7,254.9 L440.9,251.2 L441.3,252.5 L440.3,250.4 L437.2,248 L432.8,245.7 L427.8,243.7 L423.1,242 L419.4,240.5 L417.3,239.2Z M418.6,263.7 L420.7,264.9 L424.4,266.4 L429.3,268.2 L434.3,270.3 L432.9,276.1 L427.9,274 L423.1,272.3 L419.1,270.7 L416.7,269.4Z" fill="#b2cba6" stroke="#6d9066" stroke-width="0.9" stroke-linejoin="round"/>
<path d="M422.6,207.1 L420.7,208.1 L421.2,208.6 L416.8,203.8 L418.2,202.1 L421,200.8Z M446,225.4 L443.8,228.1 L439.8,230.7 L434.8,232.8 L429.5,234.6 L424.7,236.1 L421.1,237.3 L419.9,238.1 L420.9,238.3 L415.7,234.4 L416.9,232.4 L419.7,231 L423.6,229.7 L428.4,228.2 L433.4,226.4 L438,224.4 L441.1,222.2 L442.6,219.9Z M444.9,255.9 L442.4,258.6 L438.1,261 L433.1,263.1 L427.8,264.8 L423.1,266.3 L419.9,267.5 L419.2,268.1 L420.1,264.4 L415.3,268.8 L415.5,262.8 L418.3,261.2 L422,259.9 L426.7,258.4 L431.8,256.7 L436.4,254.8 L439.8,252.6 L441.7,250.2Z" fill="#9bbb8c" stroke="#547a4c" stroke-width="1.0" stroke-linejoin="round"/>
<path d="M434.4,107.9 L436.9,108.6 L440.8,109.2 L445.6,109.8 L450.7,110.6 L455.5,111.9 L459.3,113.7 L462,116.5 L462.6,123 L457.5,120 L458.2,121.1 L457.5,119.5 L454.7,117.8 L450.5,116.6 L445.6,115.8 L440.8,115.2 L436.8,114.6 L434,113.9Z M441.5,137.2 L444.2,137.9 L448.2,138.4 L453.1,139 L458.2,139.9 L462.9,141.2 L466.6,143.2 L469.2,146.1 L469.4,152.6 L464.4,149.4 L465.1,150.5 L464.6,148.8 L462,147.2 L457.9,145.9 L453.1,145 L448.3,144.4 L444.1,143.9 L441.2,143.2Z M448.2,165.7 L448.9,166.5 L451.5,167.1 L455.6,167.6 L460.6,168.3 L465.7,169.2 L470.3,170.6 L473.9,172.6 L475.7,175.2 L472.6,180.3 L471.7,178.2 L469.3,176.5 L465.4,175.2 L460.6,174.3 L455.7,173.6 L451.4,173.1 L448.1,172.4 L446.4,171.4Z M455,194.9 L456,195.7 L458.8,196.3 L463,196.9 L468.1,197.6 L473.1,198.5 L477.6,200 L480.7,201.9 L479.2,207.7 L476.6,205.9 L472.8,204.5 L468,203.6 L463.1,202.9 L458.8,202.3 L455.4,201.7 L453.5,200.7Z" fill="#b2cba6" stroke="#6d9066" stroke-width="0.9" stroke-linejoin="round"/>
<path d="M434.8,107 L435.6,108 L432.8,113.8 L432,112.8Z M462.2,124 L460.2,127.1 L456.7,130.4 L452.6,133.6 L448.4,136.4 L444.9,138.8 L442.9,140.5 L443.3,140.6 L442.5,137.1 L440.2,143.2 L437.4,137.8 L439.3,135.1 L442,133 L445.6,130.6 L449.6,127.8 L453.5,124.8 L456.3,121.9 L457.9,119.1Z M469,153.5 L466.8,156.7 L463.2,160 L459.1,163.1 L454.9,165.9 L451.6,168.2 L449.7,169.8 L449.6,170.8 L444.9,166.3 L446,164.5 L448.6,162.4 L452.1,160 L456.1,157.3 L460,154.3 L463,151.4 L464.8,148.5Z M476.8,179.6 L476,182.8 L473.4,186.2 L469.7,189.5 L465.6,192.6 L461.5,195.3 L458.2,197.6 L456.6,199.1 L456.8,199.9 L451.8,195.7 L452.7,193.9 L455.2,191.8 L458.6,189.5 L462.6,186.8 L466.6,183.8 L469.7,180.8 L471.4,178.2 L471.5,175.9Z" fill="#9bbb8c" stroke="#547a4c" stroke-width="1.0" stroke-linejoin="round"/>
<path d="M457,208.7 L458.8,210.1 L462.3,212 L466.9,214.4 L471.8,217.1 L476.3,220.1 L479.7,223.3 L481.6,227 L480.1,233.5 L476.2,228.9 L476.5,230.2 L476.1,228.2 L473.6,225.5 L469.6,222.7 L464.8,220 L460.3,217.7 L456.5,215.7 L454.4,214.1Z M453,238.8 L455.4,240.4 L459.4,242.4 L464.2,244.9 L469,247.7 L473.2,250.8 L476.1,254.1 L477,257.3 L472.3,261 L472.2,258.6 L470.3,256.1 L466.6,253.2 L462,250.5 L457.3,248.1 L453.3,246 L450.6,244.3Z M448.4,267.8 L449.4,269 L452.2,270.7 L456.5,272.9 L461.4,275.5 L466.2,278.4 L470,281.5 L472.4,285 L472.7,288.2 L467.4,291.1 L468,289 L466.8,286.6 L463.6,283.8 L459.2,281.1 L454.5,278.5 L450.1,276.3 L446.8,274.4 L445.2,272.9Z" fill="#b2cba6" stroke="#6d9066" stroke-width="0.9" stroke-linejoin="round"/>
<path d="M461.7,211.8 L458.1,212.6 L457.1,213.2 L458.5,209.7 L452.9,213.1 L454.4,207.3 L457.4,206.1 L461.3,205.3Z M479.3,234.2 L476.2,236.6 L471.4,238.4 L466,239.8 L460.6,240.9 L456,241.7 L453.1,242.5 L453.3,242.7 L454,239.1 L449.7,244 L449,237.8 L452,236.1 L455.6,235.2 L460.2,234.4 L465.5,233.3 L470.6,232 L474.6,230.3 L477.1,228.1Z M476.4,261.9 L474.4,264.6 L470.4,266.9 L465.4,268.6 L459.9,269.9 L454.7,270.8 L450.5,271.7 L448.3,272.4 L448.5,273.1 L445.2,267.5 L446.7,266.1 L449.9,265.2 L454.3,264.4 L459.5,263.4 L464.7,262.1 L469.1,260.5 L471.9,258.6 L472.9,256.4Z M471.5,292.6 L468.9,295.1 L464.5,297.2 L459.3,298.7 L453.8,299.9 L448.8,300.8 L448.5,294.3 L453.4,293.4 L458.7,292.3 L463.5,290.8 L466.9,289 L468.6,286.8Z" fill="#9bbb8c" stroke="#547a4c" stroke-width="1.0" stroke-linejoin="round"/>
<path d="M484.4,52.9 L486.7,54.1 L490.6,55.5 L495.5,57.3 L500.7,59.4 L505.3,61.8 L508.9,64.6 L511,68 L510.1,74.6 L505.8,70.4 L506.2,71.7 L505.8,69.8 L503.2,67.5 L499.1,65.2 L494.1,63.2 L489.3,61.4 L485.2,59.9 L482.6,58.6Z M484,83 L486.5,84.2 L490.5,85.7 L495.5,87.5 L500.6,89.6 L505.2,92.1 L508.6,94.9 L510.6,98.4 L509.3,104.9 L505.2,100.5 L505.7,101.8 L505.4,100 L503,97.7 L499,95.4 L494.1,93.3 L489.2,91.6 L485,90 L482.3,88.7Z M483.6,113.1 L486.3,114.3 L490.5,115.9 L495.5,117.7 L500.6,119.9 L505,122.3 L508.4,125.2 L509.7,128.2 L505.5,132.5 L505,130.2 L502.8,127.9 L498.9,125.6 L494.1,123.5 L489.2,121.7 L484.9,120.2 L482,118.9Z M482.8,142.3 L483.5,143.2 L486.1,144.5 L490.4,146 L495.5,147.9 L500.5,150.1 L504.9,152.6 L508.1,155.5 L509.2,158.5 L504.9,162.7 L504.6,160.4 L502.6,158.1 L498.8,155.8 L494.1,153.7 L489.1,151.9 L484.7,150.3 L481.5,148.9 L479.9,147.6Z M482.1,172.3 L483.1,173.3 L486,174.6 L490.3,176.2 L495.4,178.1 L500.5,180.3 L504.8,182.8 L507.8,185.8 L508.8,188.9 L504.2,192.8 L504.2,190.6 L502.4,188.4 L498.7,186 L494,183.9 L489,182 L484.6,180.4 L481.2,179 L479.6,177.7Z M481.6,202.4 L482.8,203.4 L485.8,204.7 L490.3,206.3 L495.4,208.3 L500.4,210.5 L504.6,213.1 L507.5,216.1 L508.3,219.3 L503.6,223 L503.7,220.8 L502.1,218.6 L498.6,216.3 L494,214.1 L489,212.2 L484.5,210.6 L481,209.2 L479.2,207.9Z M481,232.4 L482.5,233.5 L485.7,234.9 L490.3,236.5 L495.4,238.5 L500.4,240.8 L504.4,243.4 L507.2,246.5 L507.8,249.6 L502.9,253.1 L503.2,250.9 L501.9,248.8 L498.5,246.5 L493.9,244.3 L489,242.4 L484.4,240.7 L480.8,239.3 L478.8,238Z M480.5,262.5 L482.2,263.7 L485.6,265 L490.2,266.7 L495.4,268.7 L500.3,271 L504.2,273.6 L506.9,276.8 L507.2,283.3 L502.3,279.9 L502.7,281.1 L501.6,279 L498.4,276.7 L493.9,274.5 L488.9,272.5 L484.3,270.9 L480.5,269.4 L478.5,268.2Z" fill="#b2cba6" stroke="#6d9066" stroke-width="0.9" stroke-linejoin="round"/>
<path d="M492.7,54 L488.2,55.4 L485.3,56.6 L485.1,57 L485.6,53.2 L481.4,58.2 L480.8,52.2 L483.5,50.3 L487,49.1 L491.5,47.6Z M509.3,75.4 L506.5,78 L502,80.4 L496.9,82.4 L491.7,84.1 L487.4,85.6 L484.6,86.7 L484.8,86.9 L485,83.2 L481.3,88.5 L480,82.5 L482.7,80.5 L486.1,79.2 L490.5,77.7 L495.6,76.1 L500.4,74.1 L504.1,71.9 L506.5,69.6Z M508.6,105.7 L505.6,108.3 L501,110.6 L495.8,112.6 L490.7,114.3 L486.5,115.7 L483.9,116.8 L484.5,116.7 L484.5,113.2 L481.1,118.7 L479.2,112.9 L481.9,110.6 L485.2,109.3 L489.6,107.9 L494.5,106.2 L499.4,104.3 L503.3,102.2 L505.8,99.8Z M509.7,132.8 L508.2,135.8 L504.6,138.5 L500,140.8 L494.8,142.8 L489.8,144.4 L485.6,145.8 L483.3,146.9 L483,147.7 L479.7,142.1 L481.2,140.7 L484.3,139.4 L488.6,138 L493.5,136.4 L498.4,134.5 L502.5,132.4 L504.8,130.2 L505.5,127.9Z M509.1,163.1 L507.4,166 L503.7,168.7 L499,171 L493.8,173 L488.8,174.6 L484.8,175.9 L482.7,176.9 L482.7,177.7 L479,172.4 L480.4,170.9 L483.4,169.5 L487.6,168.2 L492.5,166.6 L497.5,164.7 L501.6,162.6 L504.2,160.4 L505,158.1Z M508.4,193.5 L506.5,196.3 L502.8,199 L498,201.2 L492.8,203.1 L487.8,204.7 L484,206 L482.1,207 L482.5,207.6 L478.3,202.6 L479.6,201 L482.6,199.7 L486.6,198.3 L491.5,196.7 L496.5,194.9 L500.8,192.8 L503.5,190.6 L504.6,188.2Z M507.8,223.8 L505.7,226.6 L501.8,229.2 L497,231.4 L491.7,233.3 L486.9,234.8 L483.2,236.1 L481.6,237.1 L482.3,237.5 L477.6,233 L478.8,231.2 L481.7,229.8 L485.7,228.4 L490.5,226.9 L495.5,225.1 L499.9,223 L502.8,220.8 L504.1,218.4Z M507.1,254.1 L504.9,256.9 L500.9,259.4 L496,261.6 L490.7,263.4 L485.9,265 L482.4,266.2 L481.1,267.1 L482.1,267.3 L476.9,263.4 L478.1,261.3 L480.9,259.9 L484.7,258.6 L489.5,257.1 L494.5,255.3 L499,253.2 L502.1,251 L503.6,248.6Z M504.8,278.4 L504.7,284.9Z" fill="#9bbb8c" stroke="#547a4c" stroke-width="1.0" stroke-linejoin="round"/>
<path d="M516,78 C519,65 536,65 542,81" fill="none" stroke="#9cb8c2" stroke-width="3.6" stroke-linecap="round"/>
<path d="M516,78 C519,65 536,65 542,81" fill="none" stroke="#deeef3" stroke-width="2.4" stroke-linecap="round"/>
<path d="M510.8,76.4 L513.1,77.4 L516.9,78.4 L521.6,79.6 L526.6,81.1 L531.2,82.9 L534.8,85.2 L537.2,88.3 L537,94.9 L532.2,91.2 L532.8,92.5 L532.3,90.7 L529.7,88.7 L525.7,87 L520.9,85.6 L516.2,84.4 L512.3,83.3 L509.7,82.3Z M514.3,106.4 L516.9,107.3 L520.9,108.4 L525.7,109.6 L530.7,111.1 L535.1,113 L538.6,115.4 L540.2,118.2 L536.5,123 L535.8,120.8 L533.5,118.8 L529.6,117.1 L525,115.6 L520.2,114.3 L516.1,113.3 L513.3,112.3Z M517.3,135.4 L518.1,136.4 L520.7,137.3 L524.8,138.4 L529.7,139.6 L534.7,141.2 L539,143.2 L542.3,145.7 L543.7,148.5 L539.7,153 L539.3,150.9 L537.3,148.9 L533.6,147.1 L529,145.6 L524.2,144.3 L519.9,143.3 L516.7,142.2 L515,141Z M520.5,165.3 L521.7,166.3 L524.5,167.3 L528.8,168.3 L533.8,169.7 L538.7,171.3 L542.9,173.3 L546,175.9 L547.1,178.8 L542.9,183.1 L542.7,181 L541,179 L537.5,177.2 L533,175.6 L528.2,174.3 L523.8,173.2 L520.4,172.2 L518.6,171Z M523.8,195.3 L525.5,196.3 L523.9,202.1 L522.1,201Z" fill="#deeef3" stroke="#9cb8c2" stroke-width="0.9" stroke-linejoin="round"/>
<path d="M514.6,78.3 L512.1,79.8 L512.1,80.2 L512,76.6 L508.5,82.1 L507,76.2 L509.3,73.9 L512.3,72.2Z M536.4,95.7 L534,98.6 L530.1,101.5 L525.6,104.1 L521.2,106.4 L517.4,108.4 L515.2,109.8 L515.6,109.9 L515.3,106.4 L512.3,112.2 L510,106.6 L512.3,104 L515.2,102.2 L519.1,100.3 L523.4,98 L527.6,95.5 L530.9,93 L532.8,90.4Z M540.8,122.7 L539.7,125.8 L536.8,128.9 L532.8,131.7 L528.3,134.3 L523.9,136.5 L520.3,138.4 L518.4,139.8 L518.3,140.6 L514,135.8 L515.2,134.1 L518,132.3 L521.8,130.4 L526.1,128.2 L530.4,125.7 L533.8,123.1 L535.6,120.7 L535.9,118.5Z M544,153 L542.7,156.1 L539.6,159.1 L535.5,161.9 L530.9,164.5 L526.6,166.7 L523.2,168.5 L521.6,169.7 L522,170.4 L517.1,166 L518.2,164.2 L520.9,162.4 L524.5,160.5 L528.8,158.3 L533.1,155.9 L536.7,153.3 L538.8,150.9 L539.4,148.5Z M547.2,183.4 L545.6,186.4 L542.4,189.4 L538.2,192.1 L533.6,194.6 L529.3,196.8 L526.1,198.5 L524.9,199.6 L525.7,200 L520.3,196.3 L521.2,194.3 L523.7,192.5 L527.2,190.6 L531.4,188.5 L535.8,186.1 L539.5,183.5 L541.9,181 L542.8,178.6Z" fill="#d2e7ee" stroke="#7f9fab" stroke-width="1.0" stroke-linejoin="round"/>
<path d="M523.2,199.1 L525.4,200.7 L529,202.8 L533.6,205.3 L538.4,208.2 L542.6,211.4 L545.6,214.7 L547.1,218.4 L545,224.7 L541.5,219.8 L541.8,221.2 L541.7,219.3 L539.6,216.6 L535.9,213.7 L531.3,210.9 L526.8,208.3 L523,206.2 L520.6,204.5Z M518.1,228.8 L520.5,230.4 L524.3,232.6 L528.9,235.2 L533.6,238.1 L537.7,241.3 L540.6,244.6 L541.9,248.4 L539.3,254.6 L536.1,249.5 L536.4,250.9 L536.6,249.1 L534.6,246.4 L531.1,243.5 L526.6,240.7 L522,238.2 L518.1,236 L515.6,234.2Z M512.7,257.5 L513.2,258.6 L515.6,260.2 L519.5,262.4 L524.2,265 L528.9,268 L532.8,271.2 L535.5,274.6 L536.2,277.8 L531.3,281.2 L531.4,278.9 L529.7,276.3 L526.3,273.4 L521.9,270.6 L517.3,268 L513.3,265.7 L510.3,263.8 L509,262.3Z M507.3,287.1 L508.1,288.3 L510.7,290 L514.7,292.2 L519.5,294.9 L524.1,297.9 L527.9,301.1 L530.1,304.2 L526.5,309 L524.7,306.2 L521.5,303.3 L517.1,300.4 L512.5,297.8 L508.4,295.5 L505.3,293.6 L503.9,292Z" fill="#deeef3" stroke="#9cb8c2" stroke-width="0.9" stroke-linejoin="round"/>
<path d="M526.7,202.2 L523.5,202.9 L523.3,203.3 L524.4,199.6 L519.5,204 L519.8,197.9 L522.8,196.5 L526.3,195.7Z M544.2,225.4 L540.9,227.5 L536.1,229.1 L530.7,230.3 L525.3,231.2 L520.8,231.8 L518,232.5 L518.3,232.7 L519,229.1 L514.6,233.9 L514.1,227.8 L517.1,226.1 L520.6,225.4 L525.2,224.7 L530.4,223.8 L535.5,222.7 L539.6,221.1 L542.4,219.1Z M538.6,255.2 L535.1,257.2 L530.2,258.8 L524.7,259.9 L519.4,260.8 L515.1,261.5 L512.5,262.2 L512,262.9 L509.7,256.9 L511.4,255.7 L514.8,255 L519.3,254.3 L524.5,253.5 L529.6,252.3 L533.9,250.9 L536.9,248.9Z M535.4,282.3 L533.3,284.9 L529.2,287 L524.2,288.5 L518.8,289.6 L513.6,290.4 L509.4,291.1 L507.1,291.8 L507,292.5 L504.2,286.6 L505.8,285.4 L509,284.6 L513.4,283.9 L518.5,283.1 L523.7,282 L528.2,280.6 L531,278.8 L532.2,276.7Z" fill="#d2e7ee" stroke="#7f9fab" stroke-width="1.0" stroke-linejoin="round"/>
<path d="M541.8,89.8 L545.6,90.8 L550.5,92 L555.9,93.5 L560.9,95.4 L564.9,97.6 L567.7,100.6 L568.3,107.1 L563.2,103.9 L563.8,105.1 L562.7,103.2 L559.5,101.2 L554.9,99.4 L549.8,98 L544.9,96.8 L541.1,95.7Z M542.5,118.8 L544.6,119.7 L548.5,120.8 L553.4,122 L558.7,123.5 L563.7,125.4 L567.7,127.7 L570.4,130.7 L570.7,137.3 L565.7,133.9 L566.3,135.1 L565.4,133.2 L562.3,131.2 L557.8,129.4 L552.7,127.9 L547.8,126.7 L543.7,125.7 L541.2,124.6Z M545.1,148.7 L547.4,149.7 L551.3,150.7 L556.3,152 L561.6,153.5 L566.5,155.4 L570.5,157.7 L573.1,160.8 L573.1,167.4 L568.3,163.9 L568.9,165.1 L568.1,163.2 L565.1,161.2 L560.6,159.4 L555.5,157.9 L550.6,156.7 L546.5,155.6 L543.9,154.6Z M547.7,178.7 L550.1,179.6 L554.1,180.7 L559.2,181.9 L564.5,183.5 L569.4,185.4 L573.2,187.8 L575.7,190.9 L575.6,197.5 L570.8,193.8 L571.4,195.1 L570.7,193.2 L567.9,191.2 L563.5,189.4 L558.4,187.9 L553.4,186.6 L549.2,185.6 L546.6,184.5Z M550.4,208.6 L552.9,209.6 L556.9,210.6 L562,211.9 L567.3,213.5 L572.2,215.4 L576,217.8 L578.4,221 L578,227.6 L573.4,223.8 L574,225.1 L573.4,223.2 L570.7,221.2 L566.3,219.4 L561.3,217.9 L556.3,216.6 L552,215.5 L549.3,214.5Z M553,238.5 L555.6,239.5 L559.8,240.6 L564.9,241.9 L570.2,243.5 L575,245.4 L578.7,247.9 L581,251.1 L580.4,257.7 L575.9,253.8 L576.5,255 L576.1,253.3 L573.4,251.2 L569.2,249.4 L564.1,247.8 L559.1,246.6 L554.8,245.5 L551.9,244.5Z M555.7,268.5 L558.4,269.5 L562.6,270.6 L567.8,271.8 L573.1,273.5 L577.8,275.4 L581.4,277.9 L583.7,281.2 L582.8,287.8 L578.4,283.8 L579,285 L578.7,283.3 L576.2,281.2 L572,279.4 L567,277.8 L561.9,276.5 L557.6,275.4 L554.6,274.4Z M558,297.6 L558.6,298.5 L561.3,299.4 L560.3,305.4 L557.1,304.3 L555.5,303.1Z" fill="#deeef3" stroke="#9cb8c2" stroke-width="0.9" stroke-linejoin="round"/>
<path d="M567.6,108.2 L565.3,111.1 L561.4,114 L556.6,116.6 L551.6,118.9 L547.2,120.8 L544.1,122.4 L543.6,123.1 L544,119.2 L539.7,124.2 L539.3,118.2 L541.9,116.3 L545.3,114.6 L549.8,112.7 L554.6,110.4 L559,108 L562.2,105.4 L563.9,102.9Z M570,138.3 L567.7,141.2 L563.7,144 L558.9,146.6 L553.9,148.9 L549.5,150.8 L546.6,152.3 L546.2,152.9 L546.5,149.1 L542.5,154.2 L541.7,148.2 L544.3,146.3 L547.6,144.6 L552.1,142.7 L556.9,140.5 L561.3,138 L564.6,135.5 L566.4,132.9Z M572.5,168.3 L570.1,171.2 L566,174.1 L561.1,176.7 L556.2,178.9 L551.9,180.8 L549,182.3 L548.9,182.8 L549,178.9 L545.3,184.3 L544.1,178.3 L546.7,176.2 L550,174.6 L554.3,172.7 L559.2,170.5 L563.7,168 L567,165.5 L568.9,162.9Z M574.9,198.4 L572.4,201.3 L568.3,204.1 L563.4,206.7 L558.5,208.9 L554.2,210.8 L551.5,212.2 L551.5,212.6 L551.5,208.8 L548.1,214.3 L546.6,208.4 L549.1,206.2 L552.3,204.6 L556.6,202.7 L561.4,200.5 L566,198.1 L569.4,195.5 L571.5,192.9Z M577.4,228.5 L574.8,231.4 L570.6,234.2 L565.7,236.7 L560.8,238.9 L556.6,240.8 L554,242.2 L554.2,242.4 L554,238.7 L550.9,244.3 L549,238.5 L551.5,236.2 L554.7,234.6 L558.9,232.7 L563.7,230.5 L568.3,228.1 L571.8,225.6 L574,223Z M579.8,258.6 L577.1,261.4 L572.9,264.2 L567.9,266.8 L563,269 L558.9,270.8 L556.5,272.2 L556.9,272.1 L556.6,268.5 L553.7,274.4 L551.4,268.7 L553.9,266.2 L557,264.6 L561.2,262.7 L566,260.6 L570.6,258.1 L574.2,255.6 L576.5,253Z M582.3,288.6 L579.5,291.5 L575.2,294.3 L570.2,296.8 L565.3,299 L561.3,300.8 L558.9,302.1 L558.6,303 L554.9,297.7 L556.3,296.2 L559.3,294.6 L563.5,292.7 L568.3,290.6 L572.9,288.2 L576.6,285.6 L579,283Z" fill="#d2e7ee" stroke="#7f9fab" stroke-width="1.0" stroke-linejoin="round"/>
<path d="M606.1,61.1 L608,62.2 L611.5,63.6 L616.3,65.3 L621.4,67.4 L626.3,69.7 L630.1,72.4 L632.6,75.7 L632.5,82.2 L627.8,78.6 L628.3,79.8 L627.3,77.8 L624.3,75.4 L619.9,73.2 L614.9,71.2 L610.2,69.5 L606.4,68 L604.2,66.7Z M605.7,91.2 L607.8,92.4 L611.5,93.8 L616.4,95.6 L621.6,97.7 L626.3,100.1 L630,102.8 L632.3,106.2 L631.6,112.8 L627.2,108.7 L627.7,110 L627,108.1 L624.3,105.7 L620,103.5 L615,101.4 L610.2,99.7 L606.3,98.2 L603.8,96.9Z M605.2,121.3 L607.6,122.6 L611.6,124.1 L616.5,125.9 L621.7,128 L626.3,130.4 L629.8,133.3 L631.8,136.7 L630.7,143.3 L626.5,139 L627,140.2 L626.7,138.4 L624.2,136 L620.1,133.8 L615.2,131.7 L610.3,129.9 L606.2,128.4 L603.5,127.1Z M604.8,151.5 L607.5,152.8 L611.6,154.3 L616.7,156.1 L621.8,158.3 L626.3,160.8 L629.6,163.7 L630.9,166.7 L626.8,171 L626.3,168.7 L624,166.4 L620.1,164.1 L615.3,162 L610.3,160.1 L606.1,158.6 L603.2,157.3Z M604,180.7 L604.7,181.7 L607.4,183 L611.7,184.5 L616.8,186.4 L621.9,188.6 L626.2,191.2 L629.4,194.1 L630.5,197.2 L626,201.2 L625.8,198.9 L623.9,196.7 L620.1,194.4 L615.4,192.2 L610.4,190.4 L606,188.8 L602.8,187.4 L601.2,186Z M603.3,210.8 L604.4,211.8 L607.4,213.1 L611.8,214.8 L616.9,216.7 L622,218.9 L626.2,221.5 L629.1,224.6 L629.9,227.7 L625.3,231.4 L625.3,229.2 L623.7,227 L620.2,224.7 L615.5,222.5 L610.5,220.6 L606,219 L602.6,217.6 L600.8,216.3Z M602.7,240.9 L604.1,242 L607.3,243.3 L611.9,245 L617.1,247 L622,249.3 L626.1,251.9 L628.8,255 L629.4,258.2 L624.4,261.6 L624.8,259.5 L623.5,257.3 L620.2,255 L615.6,252.8 L610.6,250.8 L606,249.2 L602.4,247.7 L600.4,246.5Z" fill="#deeef3" stroke="#9cb8c2" stroke-width="0.9" stroke-linejoin="round"/>
<path d="M616,62.1 L611.2,63.6 L607.8,64.8 L606.7,65.6 L607.8,62 L602.5,65.8 L603.5,60 L606.3,58.5 L610,57.2 L614.8,55.7Z M631.8,83.2 L629.2,85.9 L625,88.4 L619.9,90.5 L614.7,92.3 L610.1,93.7 L606.9,94.9 L606.3,95.6 L607.1,91.8 L602.4,96.3 L602.5,90.3 L605.2,88.7 L608.9,87.4 L613.5,85.9 L618.6,84.2 L623.2,82.1 L626.7,80 L628.6,77.6Z M630.9,113.6 L628.1,116.3 L623.8,118.7 L618.6,120.8 L613.4,122.5 L609,123.9 L606,125.1 L606,125.4 L606.4,121.7 L602.4,126.8 L601.5,120.7 L604.3,118.8 L607.7,117.5 L612.3,116.1 L617.3,114.4 L622.1,112.4 L625.7,110.3 L627.9,107.9Z M630,144 L627,146.6 L622.5,149 L617.3,151 L612.2,152.7 L607.9,154.1 L605.2,155.2 L605.7,155.2 L605.8,151.6 L602.3,157.1 L600.6,151.2 L603.3,149 L606.6,147.7 L611,146.3 L616,144.6 L620.9,142.7 L624.8,140.6 L627.2,138.2Z M631,171.3 L629.4,174.2 L625.9,177 L621.2,179.3 L616,181.3 L610.9,182.9 L606.8,184.2 L604.5,185.3 L604.3,186.1 L600.9,180.6 L602.4,179.2 L605.5,177.9 L609.8,176.5 L614.8,174.9 L619.7,173 L623.7,170.9 L626.1,168.7 L626.7,166.4Z M630.2,201.8 L628.4,204.6 L624.7,207.3 L620,209.6 L614.7,211.5 L609.7,213.1 L605.8,214.4 L603.8,215.4 L604,216.1 L600,211 L601.4,209.4 L604.4,208.1 L608.6,206.7 L613.5,205.1 L618.5,203.3 L622.7,201.1 L625.3,198.9 L626.3,196.6Z M629.4,232.2 L627.4,235 L623.5,237.6 L618.7,239.9 L613.4,241.7 L608.5,243.3 L604.8,244.6 L603.2,245.5 L603.9,245.9 L599.2,241.4 L600.5,239.6 L603.4,238.2 L607.4,236.9 L612.2,235.3 L617.2,233.5 L621.6,231.4 L624.5,229.2 L625.7,226.9Z M628.6,262.7 L626.4,265.4 L622.3,268 L617.5,270.1 L615.9,263.8 L620.5,261.7 L623.6,259.5 L625.2,257.2Z" fill="#d2e7ee" stroke="#7f9fab" stroke-width="1.0" stroke-linejoin="round"/>
<path d="M608.2,65.3 L606.3,62.4 L606.1,58.7 L607.6,55 L610.9,52.2 L615.5,50.7 L620.9,50.8 L626.5,52.6 L631.3,55.8 L631.2,60.3 L626.8,57.1 L622,55.2 L617.4,54.8 L613.7,55.7 L611.2,57.7 L610.3,60.1 L610.8,62.5 L612.6,64.6Z M623.2,75.4 L622.1,72.5 L626.6,72.6 L627.7,75.5Z" fill="#deeef3" stroke="#9cb8c2" stroke-width="0.9" stroke-linejoin="round"/>
<path d="M622.9,62.7 L620.9,66.1 L617.6,68.3 L613.8,68.7 L610.6,67.4 L610.2,62.5 L612.6,63.9 L614.9,64.1 L617.1,62.9 L618.6,60Z M633.7,57.6 L637.3,62 L639.4,67.2 L639.6,72.1 L638.2,76.4 L635.3,79.3 L631.6,80.5 L627.9,80 L623,76.1 L627.8,74.7 L627.6,75 L629.8,75.9 L632.1,75.5 L634,73.7 L634.9,70.6 L634.4,66.7 L632.3,62.5 L628.8,58.5Z" fill="#d2e7ee" stroke="#7f9fab" stroke-width="1.0" stroke-linejoin="round"/>
<path d="M615,264 C606,271 602,279 592,282" fill="none" stroke="#9cb8c2" stroke-width="3.6" stroke-linecap="round"/>
<path d="M615,264 C606,271 602,279 592,282" fill="none" stroke="#deeef3" stroke-width="2.4" stroke-linecap="round"/>
<circle cx="523" cy="172" r="2.8" fill="#c9323c"/>
<circle cx="526" cy="176" r="2.8" fill="#666666"/>
<circle cx="529" cy="180" r="2.8" fill="#c9323c"/>
<circle cx="527" cy="185" r="2.8" fill="#666666"/>
<circle cx="531" cy="189" r="2.8" fill="#c9323c"/>
<circle cx="528" cy="194" r="2.8" fill="#c9323c"/>
<path d="M452.4,292.6 L453.7,289.5 L456.7,286.9 L460.9,285.4 L465.8,285.5 L470.8,287.2 L475.2,290.4 L478.3,294.8 L476.7,298.5 L473.9,294.2 L470.3,291.1 L466.1,289.5 L462.1,289.3 L458.7,290.4 L456.5,292.4 L455.6,295Z M462.2,312.4 L462.3,309.3 L464.2,306.1 L467.6,303.8 L472.1,302.7 L477.1,303.2 L481.9,305.4 L486,309.1 L489.8,315.7 L485.9,315.4 L484.6,312.8 L481.2,309.4 L477.2,307.2 L473,306.6 L469.4,307.4 L466.8,309.2 L465.6,311.5 L465.8,314Z M471.8,328.9 L472.5,325.8 L474.9,322.8 L478.6,320.8 L483.3,320.1 L488.3,321.2 L493,323.8 L496.8,327.9 L500.1,334.8 L496.1,334.2 L495.1,331.5 L492.1,327.7 L488.2,325.2 L484,324.1 L480.1,324.5 L477.2,326 L475.6,328.3 L475.3,330.8Z" fill="#f6f2d4" stroke="#dcd7b5" stroke-width="0.9" stroke-linejoin="round"/>
<path d="M479.7,297.2 L481.1,302.4 L480.8,307.8 L479,312.6 L476,316.3 L472.3,318.4 L468.4,318.9 L465,317.7 L463.1,315.3 L464.9,311.2 L466,313.3 L467.9,314.4 L470.5,314.3 L473.3,312.6 L475.7,309.6 L476.9,305.6 L476.8,301 L475.3,296.2Z M490,316.2 L491,321.5 L490.2,326.8 L488,331.3 L484.7,334.5 L480.9,336.2 L477.1,336.1 L473.9,334.5 L471.4,329.6 L475.8,330.2 L475.4,330.2 L477,331.6 L479.5,331.9 L482.3,330.7 L484.8,328.1 L486.5,324.3 L486.8,319.8 L485.7,314.9Z M500.2,335.2 L500.7,340.5 L499.5,345.7 L496.9,349.8 L493.4,352.6 L489.5,353.8 L486.2,353.2 L485.8,348.8 L488.4,349.4 L491.2,348.7 L493.9,346.5 L495.9,343 L496.6,338.6 L496,333.7Z" fill="#f3edb8" stroke="#c9c394" stroke-width="1.0" stroke-linejoin="round"/>
<path d="M436.9,308.5 L436.5,305.1 L438.1,301.5 L441.3,298.6 L445.7,297 L450.9,297 L456.1,298.8 L460.7,302.3 L464,307 L462.3,310.6 L459.4,306.1 L455.6,302.8 L451.1,301 L446.8,300.8 L443.2,302.1 L440.8,304.4 L440,307 L440.7,309.8Z M445.7,326.1 L445.5,322.6 L447.3,319.1 L450.6,316.3 L455.1,314.8 L460.4,315 L465.6,317 L470.1,320.6 L473.2,325.4 L471.5,329 L468.7,324.3 L464.9,320.9 L460.5,319 L456.2,318.7 L452.4,319.8 L449.9,322 L449,324.7 L449.5,327.5Z M454.6,343.6 L454.6,340.2 L456.5,336.6 L459.9,334 L464.6,332.6 L469.8,333 L475,335.2 L479.4,338.9 L482.4,343.8 L480.6,347.4 L478,342.6 L474.3,339.1 L469.9,337 L465.5,336.5 L461.7,337.5 L459.1,339.7 L457.9,342.3 L458.3,345.1Z" fill="#f1eab8" stroke="#c6bd84" stroke-width="0.9" stroke-linejoin="round"/>
<path d="M448.3,314.1 L444.3,314.8 L440.4,313.7 L438,311.3 L439.5,307 L441.2,309.3 L443.7,310.3 L447.1,309.8Z M465.4,309.3 L466.9,314.9 L466.5,320.7 L464.5,325.8 L461.2,329.8 L457.1,332.1 L452.8,332.6 L449,331.4 L446.8,328.8 L448.4,324.7 L450,327 L452.3,328.1 L455.4,327.9 L458.6,326.1 L461.2,322.8 L462.7,318.3 L462.6,313.4 L461,308.2Z M474.5,327.8 L475.9,333.4 L475.3,339.1 L473.2,344.2 L469.8,348 L465.6,350.1 L461.4,350.5 L457.7,349.1 L455.5,346.4 L457.3,342.3 L458.7,344.7 L461,346 L464.1,345.9 L467.3,344.2 L470,341 L471.5,336.7 L471.6,331.7 L470.2,326.6Z M483.7,346.2 L484.8,351.8 L484.1,357.5 L481.9,362.5 L478.3,366.1 L474.4,368 L472.4,364 L475.9,362.3 L478.7,359.3 L480.4,355.1 L480.7,350.1 L479.4,345Z" fill="#ebe18a" stroke="#a69c4e" stroke-width="1.0" stroke-linejoin="round"/>
<ellipse cx="508" cy="349" rx="12.5" ry="13.5" fill="none" stroke="#a69c4e" stroke-width="4"/>
<ellipse cx="508" cy="349" rx="12.5" ry="13.5" fill="none" stroke="#ebe18a" stroke-width="2.6"/>
<ellipse cx="512" cy="352.3" rx="12.5" ry="13.5" fill="none" stroke="#a69c4e" stroke-width="4"/>
<ellipse cx="512" cy="352.3" rx="12.5" ry="13.5" fill="none" stroke="#ebe18a" stroke-width="2.6"/>
<ellipse cx="516" cy="355.7" rx="12.5" ry="13.5" fill="none" stroke="#a69c4e" stroke-width="4"/>
<ellipse cx="516" cy="355.7" rx="12.5" ry="13.5" fill="none" stroke="#ebe18a" stroke-width="2.6"/>
<ellipse cx="520" cy="359" rx="12.5" ry="13.5" fill="none" stroke="#a69c4e" stroke-width="4"/>
<ellipse cx="520" cy="359" rx="12.5" ry="13.5" fill="none" stroke="#ebe18a" stroke-width="2.6"/>
<path d="M515,315 C510,328 512,336 510,341" fill="none" stroke="#c6bd84" stroke-width="3.6" stroke-linecap="round"/>
<path d="M515,315 C510,328 512,336 510,341" fill="none" stroke="#f1eab8" stroke-width="2.4" stroke-linecap="round"/>
<path d="M542.7,334.4 L540.8,332.2 L540,328.8 L540.8,325 L543.2,321.5 L547,318.6 L551.9,317 L557.4,316.7 L564.8,318.5 L561.8,321.2 L559.1,320.3 L554.3,320.2 L549.9,321.4 L546.5,323.6 L544.5,326.4 L544,329.1 L544.7,331.3 L546.4,332.9Z M562.8,338.5 L561,336.1 L560.5,332.5 L561.6,328.8 L564.3,325.3 L568.4,322.7 L573.5,321.3 L579,321.3 L586.3,323.4 L583.2,326 L580.6,325 L575.7,324.6 L571.2,325.5 L567.6,327.6 L565.3,330.3 L564.5,333.1 L565,335.4 L566.6,337.2Z M582.9,342.5 L581.3,339.9 L581.1,336.3 L582.5,332.5 L585.5,329.2 L589.8,326.7 L595,325.6 L600.4,326 L602.2,329.5 L597.1,329 L592.5,329.7 L588.7,331.6 L586.2,334.2 L585.1,337 L585.3,339.5 L586.8,341.4Z M605.5,348.5 L603.1,346.8 L601.7,343.7 L601.8,340 L603.5,336.3 L606.8,333.1 L611.3,330.8 L616.6,330 L621.9,330.6 L623.6,334.2 L618.6,333.4 L613.9,333.9 L609.9,335.6 L607.1,338.1 L605.7,340.9 L605.7,343.5 L606.9,345.3 L608.9,346.4Z" fill="#f1eab8" stroke="#c6bd84" stroke-width="0.9" stroke-linejoin="round"/>
<path d="M551.1,335.2 L548.2,336.2 L542.9,335.2 L546.2,332.1 L545.9,332.4 L548.2,331.8Z M565.2,318.7 L569.7,321.4 L573.1,325.2 L575,329.5 L575.2,333.7 L573.9,337.3 L571.3,339.8 L568.1,340.7 L562.9,339.2 L566.5,336.4 L566.1,336.7 L568.1,336.7 L569.8,335.4 L570.7,333 L570.5,329.9 L568.8,326.5 L565.7,323.4 L561.4,321Z M586.7,323.6 L591,326.5 L594.1,330.5 L595.6,334.8 L595.6,338.9 L594,342.3 L591.3,344.5 L588,345.2 L583,343.2 L586.7,340.7 L586.3,341 L588.2,341.2 L590,340.2 L591.2,338 L591.1,334.9 L589.7,331.6 L586.9,328.4 L582.8,325.8Z M603,326.3 L608,328.3 L612.2,331.6 L615,335.7 L616.3,340.1 L615.9,344.1 L614.1,347.3 L611.2,349.2 L608.3,349.4 L606.1,345.5 L608.4,345.7 L610.2,344.9 L611.5,342.9 L611.8,340 L610.6,336.6 L608.1,333.4 L604.3,330.8 L599.5,329.1Z M620.6,332 L625,332.9Z" fill="#ebe18a" stroke="#a69c4e" stroke-width="1.0" stroke-linejoin="round"/>
<path d="M523.2,288.6 L524,287.7 L525.8,285 L528.6,281.1 L532.1,276.7 L536.3,272.7 L540.8,269.7 L545.3,268.2 L549.3,268.9 L550.8,273.7 L547.7,272.6 L544.2,273.3 L540.2,275.8 L536.3,279.5 L532.9,283.6 L530.2,287.4 L528.3,290.2 L527.3,291.3Z M553.5,299.2 L554.8,297.4 L557,294.1 L560.2,289.9 L564,285.6 L568.4,281.9 L572.9,279.5 L577.5,278.9 L583.7,281.7 L579.4,284.3 L579.1,283.6 L575.9,283.5 L572.1,285.2 L568.1,288.5 L564.4,292.5 L561.4,296.6 L559.2,299.8 L557.9,301.7Z" fill="#f1eab8" stroke="#c6bd84" stroke-width="0.9" stroke-linejoin="round"/>
<path d="M528.6,276.7 L528.6,282.2 L528.2,286.7 L528,289.4 L528.2,289.9 L522.2,289.9 L522.1,288.6 L522.3,285.6 L522.6,281.2 L522.7,275.9Z M552.9,270.3 L555.7,273.4 L557.7,278.3 L558.6,284 L558.8,289.8 L558.6,295 L558.2,298.8 L558.2,300.4 L554.6,297.6 L556.8,303.2 L552.2,300.3 L552.3,297.8 L552.7,294 L552.9,289 L552.6,283.6 L551.7,278.5 L549.9,274.7 L547.2,272.3Z M584.4,282.3 L586.9,286.1 L588.3,291.4 L588.9,297.3 L588.9,302.8 L583,302 L583,296.7 L582.3,291.3 L580.9,286.9 L578.6,283.6Z" fill="#ebe18a" stroke="#a69c4e" stroke-width="1.0" stroke-linejoin="round"/>
<path d="M518,285 C512,303 518,313 514,321" fill="none" stroke="#c6bd84" stroke-width="3.6" stroke-linecap="round"/>
<path d="M518,285 C512,303 518,313 514,321" fill="none" stroke="#f1eab8" stroke-width="2.4" stroke-linecap="round"/>
<path d="M835.8,116.6 L838.5,117.8 L842.5,119.2 L847.3,120.9 L852.1,122.9 L856.2,125.3 L859.3,128 L860.4,131 L856.1,135.2 L855.9,133 L854,130.8 L850.5,128.7 L846,126.8 L841.4,125.1 L837.2,123.7 L834.3,122.4Z M835.9,145.8 L837,146.8 L839.7,148 L843.9,149.5 L848.7,151.2 L853.5,153.3 L857.5,155.6 L860.3,158.5 L861.2,161.5 L856.6,165.4 L856.6,163.3 L855.1,161.2 L851.8,159 L847.4,157.1 L842.7,155.4 L838.5,153.9 L835.2,152.5 L833.5,151.2Z M836.5,175.9 L837.9,177 L841,178.2 L845.3,179.7 L850.1,181.5 L854.8,183.6 L858.7,186 L861.3,189 L861.9,192.1 L857.1,195.6 L857.4,193.5 L856.2,191.5 L853.1,189.3 L848.8,187.3 L844.1,185.6 L839.8,184.1 L836.3,182.7 L834.4,181.5Z M837.3,206 L839,207.1 L842.3,208.4 L846.7,210 L851.6,211.8 L856.1,213.9 L859.8,216.4 L862.3,219.5 L862.5,226 L857.6,222.5 L858.1,223.8 L857.2,221.8 L854.3,219.6 L850.2,217.6 L845.5,215.8 L841.1,214.3 L837.4,212.9 L835.3,211.7Z M838,236.1 L840,237.3 L843.6,238.6 L848.1,240.2 L853,242.1 L857.4,244.3 L861,246.9 L863.2,250.1 L862.8,256.6 L858.2,252.7 L858.7,254 L858.1,252.1 L855.5,250 L851.5,247.9 L846.9,246.1 L842.4,244.5 L838.6,243.1 L836.3,241.9Z M838.9,266.3 L841.2,267.5 L844.9,268.8 L849.5,270.5 L854.4,272.4 L858.7,274.6 L862.1,277.3 L864.1,280.6 L863.1,287.1 L858.8,283 L859.3,284.2 L859,282.4 L856.7,280.3 L852.9,278.2 L848.3,276.3 L843.7,274.7 L839.8,273.3 L837.2,272.1Z" fill="#d0dfc9" stroke="#a7bca3" stroke-width="0.9" stroke-linejoin="round"/>
<path d="M860.4,135.5 L858.8,138.4 L855.5,141.2 L851.2,143.7 L846.4,145.8 L841.9,147.6 L838.3,149.1 L836.6,150.2 L836.9,150.9 L832.5,146.1 L833.7,144.4 L836.5,142.8 L840.3,141.3 L844.8,139.5 L849.3,137.4 L853.1,135.2 L855.4,132.9 L856.2,130.6Z M860.9,166 L859.1,168.9 L855.6,171.6 L851.1,174 L846.3,176.1 L841.9,177.8 L838.6,179.3 L837.3,180.3 L838,180.7 L833,176.6 L834,174.7 L836.7,173.1 L840.3,171.5 L844.8,169.8 L849.3,167.8 L853.3,165.5 L855.8,163.3 L856.9,160.9Z M861.3,196.5 L859.3,199.3 L855.6,202 L851.1,204.3 L846.3,206.3 L842,208.1 L838.9,209.5 L838,210.3 L838.9,206.9 L833.7,210.8 L834.3,205 L836.9,203.3 L840.4,201.8 L844.7,200 L849.3,198.1 L853.4,195.9 L856.2,193.6 L857.6,191.2Z M861.8,227 L859.5,229.7 L855.7,232.4 L851,234.6 L846.3,236.6 L842.1,238.3 L839.3,239.6 L838.9,240.3 L839.4,236.7 L834.9,241.3 L834.6,235.4 L837.2,233.5 L840.5,232 L844.7,230.3 L849.3,228.4 L853.5,226.2 L856.6,223.9 L858.3,221.5Z M862.2,257.4 L859.7,260.2 L855.7,262.7 L851,265 L846.3,266.9 L842.3,268.5 L839.7,269.8 L839.8,270.2 L840,266.6 L836.1,271.8 L835,265.8 L837.4,263.7 L840.6,262.2 L844.7,260.6 L849.3,258.7 L853.6,256.5 L856.9,254.3 L858.9,251.8Z M862.5,287.9 L859.8,290.6 L855.7,293.1 L851,295.3 L846.3,297.1 L842.4,298.7 L839.9,300.1 L838,293.8 L840.7,292.4 L844.7,290.8 L849.3,289 L853.7,286.9 L857.2,284.6 L859.4,282.2Z" fill="#c3d6ba" stroke="#98af93" stroke-width="1.0" stroke-linejoin="round"/>
<path d="M924.3,111.7 L926,112.9 L929.3,114.2 L933.7,115.7 L938.5,117.6 L943.1,119.7 L946.8,122.3 L949.2,125.3 L949.5,131.8 L944.6,128.3 L945,129.6 L944.1,127.6 L941.2,125.5 L937.1,123.4 L932.5,121.6 L928.1,120.1 L924.5,118.7 L922.4,117.4Z M924.9,141.8 L926.7,143 L930.1,144.3 L934.6,145.9 L939.4,147.7 L943.9,149.9 L947.5,152.4 L949.8,155.6 L949.8,162 L945,158.4 L945.5,159.7 L944.7,157.8 L942,155.6 L938,153.5 L933.3,151.7 L928.9,150.2 L925.2,148.8 L923,147.5Z M925.4,171.9 L927.4,173 L930.9,174.4 L935.4,176 L940.2,177.9 L944.7,180.1 L948.2,182.6 L950.5,185.8 L950.2,192.3 L945.5,188.5 L946,189.8 L945.4,187.9 L942.8,185.7 L938.8,183.7 L934.2,181.8 L929.7,180.3 L925.9,178.9 L923.6,177.6Z M926,201.9 L928.1,203.1 L931.7,204.5 L936.3,206.1 L941.1,208 L945.5,210.2 L948.9,212.8 L951.1,216 L950.5,222.5 L946,218.6 L946.5,219.9 L946,218.1 L943.5,215.9 L939.6,213.8 L935,212 L930.5,210.4 L926.7,208.9 L924.3,207.7Z M926.6,232 L928.8,233.2 L932.5,234.6 L937.1,236.2 L941.9,238.1 L946.3,240.4 L949.6,243 L951.7,246.3 L950.9,252.8 L946.5,248.7 L947,250 L946.6,248.2 L944.2,246 L940.4,243.9 L935.8,242.1 L931.3,240.5 L927.4,239 L924.9,237.8Z M927.2,262.1 L929.5,263.3 L933.3,264.7 L937.9,266.3 L942.7,268.3 L947,270.6 L950.3,273.2 L952.2,276.6 L951.2,283 L946.9,278.8 L947.4,280.1 L947.2,278.3 L945,276.2 L941.2,274.1 L936.7,272.2 L932.1,270.6 L928.2,269.1 L925.6,267.9Z" fill="#e6f2f6" stroke="#b4c9d1" stroke-width="0.9" stroke-linejoin="round"/>
<path d="M926.2,115.1 L925.1,116.1 L925.9,112.6 L920.8,116.6 L921.4,110.7 L923.7,109.1Z M948.8,132.8 L946.5,135.5 L942.7,138.1 L938.2,140.4 L933.4,142.3 L929.2,144 L926.3,145.3 L925.7,146 L926.3,142.5 L921.5,146.8 L921.7,140.9 L924.2,139.1 L927.6,137.7 L931.9,136 L936.5,134.1 L940.6,131.9 L943.6,129.7 L945.2,127.3Z M949.1,163 L946.8,165.7 L942.9,168.3 L938.3,170.5 L933.6,172.4 L929.4,174.1 L926.6,175.4 L926.3,176 L926.8,172.4 L922.3,177.1 L922,171.1 L924.6,169.2 L927.9,167.8 L932.1,166.1 L936.6,164.2 L940.9,162.1 L944,159.8 L945.7,157.5Z M949.5,193.2 L947.1,195.9 L943.1,198.4 L938.5,200.6 L933.8,202.6 L929.7,204.2 L927,205.5 L926.9,206 L927.2,202.3 L923,207.3 L922.4,201.3 L924.9,199.3 L928.1,197.9 L932.3,196.2 L936.8,194.4 L941.1,192.3 L944.3,190 L946.2,187.6Z M949.9,223.4 L947.3,226.1 L943.3,228.6 L938.7,230.8 L934,232.7 L930,234.3 L927.4,235.5 L927.5,235.9 L927.7,232.3 L923.8,237.5 L922.7,231.5 L925.2,229.4 L928.3,228 L932.5,226.4 L937,224.5 L941.3,222.4 L944.7,220.2 L946.7,217.8Z M950.2,253.6 L947.6,256.3 L943.5,258.7 L938.8,260.9 L934.2,262.8 L930.2,264.4 L927.8,265.6 L928.1,265.8 L928.2,262.3 L924.5,267.7 L923.1,261.8 L925.5,259.5 L928.6,258.1 L932.7,256.5 L937.2,254.6 L941.6,252.5 L945,250.3 L947.1,247.9Z M950.6,283.8 L947.9,286.4 L943.7,288.9 L939,291.1 L934.4,292.9 L932.9,286.6 L937.4,284.8 L941.8,282.7 L945.3,280.5 L947.6,278.1Z" fill="#ddedf2" stroke="#9fb7c0" stroke-width="1.0" stroke-linejoin="round"/>
<path d="M961.7,95.6 L966.6,97.1 L971.9,98.8 L976.8,101 L980.7,103.5 L983.3,106.6 L983.3,113.2 L978.5,109.6 L979.1,110.9 L978.1,108.9 L975.1,106.7 L970.6,104.7 L965.6,103 L960.8,101.5Z M957.1,123.4 L959.4,124.5 L963.2,125.7 L968.2,127.2 L973.5,129.1 L978.3,131.2 L982.1,133.8 L984.5,137 L984.1,143.6 L979.4,139.8 L980,141.1 L979.3,139.1 L976.5,137 L972.2,134.9 L967.2,133.1 L962.2,131.6 L958.2,130.4 L955.6,129.2Z M958.2,153.5 L960.7,154.6 L964.8,155.9 L969.8,157.4 L975,159.3 L979.8,161.5 L983.4,164.1 L985.6,167.5 L984.7,174.1 L980.3,170 L980.9,171.2 L980.5,169.4 L977.9,167.2 L973.7,165.1 L968.7,163.3 L963.8,161.8 L959.6,160.5 L956.8,159.3Z M959.4,183.6 L962.1,184.7 L966.3,186 L971.4,187.6 L976.6,189.5 L981.2,191.8 L984.7,194.4 L986.2,197.4 L982.3,201.9 L981.6,199.6 L979.3,197.4 L975.2,195.3 L970.3,193.5 L965.3,191.9 L961,190.6 L958.1,189.4Z M960,212.8 L960.8,213.7 L963.5,214.8 L967.8,216.2 L973,217.8 L978.2,219.7 L982.7,222 L986,224.8 L987.3,227.8 L983.1,232.1 L982.7,229.8 L980.6,227.7 L976.7,225.6 L971.9,223.7 L966.8,222.1 L962.4,220.7 L959.1,219.5 L957.5,218.2Z M960.9,242.9 L961.9,243.8 L964.9,245 L969.4,246.3 L974.6,248 L979.7,250 L984.1,252.3 L987.3,255.1 L988.3,258.2 L984,262.3 L983.8,260.1 L982,257.9 L978.2,255.8 L973.4,253.9 L968.4,252.3 L963.8,250.9 L960.4,249.6 L958.6,248.4Z M961.8,272.9 L963.1,273.9 L966.3,275.1 L970.9,276.5 L976.2,278.2 L981.1,280.2 L979.8,286 L975,284.1 L969.9,282.4 L965.3,281 L961.7,279.8 L959.8,278.6Z" fill="#e4f1f5" stroke="#afc6ce" stroke-width="0.9" stroke-linejoin="round"/>
<path d="M982.6,114.2 L980.2,117 L976,119.7 L971,122 L965.9,124 L961.4,125.7 L958.4,127.1 L958,127.6 L958.5,123.8 L954.3,128.8 L953.8,122.7 L956.4,120.9 L959.9,119.4 L964.4,117.7 L969.4,115.7 L974,113.5 L977.4,111.1 L979.2,108.6Z M983.4,144.5 L980.7,147.3 L976.4,149.9 L971.4,152.2 L966.3,154.2 L962,155.9 L959.2,157.2 L959.2,157.5 L959.4,153.7 L955.7,159.1 L954.4,153.1 L957,151 L960.4,149.6 L964.8,147.9 L969.8,146 L974.4,143.8 L978,141.4 L980.1,138.9Z M984.1,174.9 L981.2,177.6 L976.8,180.2 L971.8,182.5 L966.7,184.4 L962.5,186 L960,187.3 L960.4,187.3 L960.3,183.7 L957.1,189.3 L955.1,183.5 L957.7,181.2 L960.9,179.7 L965.2,178.1 L970.2,176.2 L974.9,174 L978.7,171.7 L981,169.1Z M986.5,202 L985.1,205 L981.7,207.9 L977.3,210.5 L972.2,212.7 L967.2,214.6 L963.1,216.2 L960.8,217.4 L960.5,218.2 L956.9,212.8 L958.4,211.3 L961.5,209.9 L965.7,208.3 L970.6,206.4 L975.4,204.3 L979.3,201.9 L981.5,199.6 L982,197.3Z M987.4,232.4 L985.8,235.4 L982.2,238.2 L977.7,240.7 L972.5,242.9 L967.6,244.8 L963.7,246.3 L961.7,247.5 L961.8,248.2 L957.7,243.1 L959,241.5 L962,240 L966.1,238.5 L970.9,236.6 L975.8,234.5 L979.9,232.2 L982.3,229.9 L983.1,227.5Z M988.2,262.8 L986.4,265.7 L982.7,268.5 L978,271 L972.9,273.1 L968.1,275 L964.3,276.5 L962.6,277.5 L963.1,278 L958.5,273.5 L959.7,271.7 L962.6,270.2 L966.6,268.6 L971.3,266.8 L976.2,264.7 L980.4,262.4 L983.1,260.1 L984.1,257.7Z" fill="#dbebf1" stroke="#98b2bb" stroke-width="1.0" stroke-linejoin="round"/>
<path d="M806,76 C800,95 815,110 830,108 S838,85 835,75" fill="none" stroke="#a7bca3" stroke-width="3.6" stroke-linecap="round"/>
<path d="M806,76 C800,95 815,110 830,108 S838,85 835,75" fill="none" stroke="#d0dfc9" stroke-width="2.4" stroke-linecap="round"/>
<path d="M857,78 C870,85 872,100 868,122" fill="none" stroke="#98b193" stroke-width="3.6" stroke-linecap="round"/>
<path d="M857,78 C870,85 872,100 868,122" fill="none" stroke="#c9dac0" stroke-width="2.4" stroke-linecap="round"/>
<path d="M824,36 C822,20 828,12 836,13 S846,18 852,28 S862,48 872,53 S892,54 896,57 S902,62 902,66" fill="none" stroke="#6d9066" stroke-width="3.6" stroke-linecap="round"/>
<path d="M824,36 C822,20 828,12 836,13 S846,18 852,28 S862,48 872,53 S892,54 896,57 S902,62 902,66" fill="none" stroke="#b2cba6" stroke-width="2.4" stroke-linecap="round"/>
<path d="M801.8,41.3 L800.7,37.7 L801.4,33.8 L803.9,30.5 L807.9,28.5 L812.8,28.3 L818.1,29.8 L823.1,33 L827.1,37.5 L825.9,41.8 L822.2,37.4 L818,34.3 L813.6,32.7 L809.7,32.7 L806.8,34 L805.2,36.3 L805,39 L806.2,41.9Z M813.4,55.9 L812.5,52.3 L813.4,48.3 L816,45.1 L820.1,43.3 L825.1,43.2 L830.4,44.9 L835.3,48.3 L839.2,52.8 L837.9,57.1 L834.4,52.7 L830.2,49.4 L825.8,47.7 L821.8,47.5 L818.8,48.7 L817.1,50.9 L816.8,53.7 L817.9,56.6Z M825.1,70.4 L824.3,66.8 L825.4,62.9 L828.1,59.8 L832.3,58.1 L837.3,58.2 L842.6,60 L847.5,63.5 L852.9,70.1 L848.4,70.5 L846.5,67.9 L842.4,64.5 L837.9,62.6 L833.9,62.3 L830.8,63.5 L829,65.6 L828.6,68.3 L829.5,71.3Z M836.8,85 L836.1,81.3 L837.3,77.5 L840.3,74.5 L844.5,72.9 L849.6,73.1 L854.9,75.2 L859.7,78.8 L865,85.5 L860.5,85.8 L858.7,83.1 L854.6,79.6 L850.1,77.6 L846,77.2 L842.8,78.2 L840.9,80.3 L840.4,82.9 L841.2,86Z" fill="#b2cba6" stroke="#6d9066" stroke-width="0.9" stroke-linejoin="round"/>
<path d="M813.8,47.6 L810.1,48.1 L806.1,46.9 L803.3,44.3 L804.7,39 L806.7,41.4 L809,42.7 L812,42.4Z M829.2,39.8 L831.8,45.2 L832.6,50.9 L831.8,56 L829.3,60.1 L825.7,62.4 L821.5,62.9 L817.6,61.6 L814.9,58.9 L816.4,53.6 L818.3,56.1 L820.6,57.5 L823.2,57.5 L825.5,56.1 L827.1,53.2 L827.4,49.1 L826.3,44.4 L823.8,39.5Z M841.3,55.2 L843.7,60.6 L844.4,66.3 L843.4,71.3 L840.8,75.2 L837.1,77.4 L832.9,77.8 L829.1,76.3 L826.5,73.5 L828.1,68.2 L829.9,70.8 L832.2,72.3 L834.8,72.5 L837.1,71.1 L838.8,68.4 L839.3,64.4 L838.3,59.7 L835.8,54.8Z M853.4,70.5 L855.7,76 L856.2,81.6 L855,86.6 L852.4,90.4 L848.6,92.4 L844.4,92.6 L840.6,90.9 L836.2,85.7 L841.7,85.3 L841.6,85.5 L843.8,87.1 L846.4,87.4 L848.8,86.2 L850.5,83.6 L851.1,79.6 L850.2,75 L847.9,70Z M865.5,85.9 L867.6,91.4 L868,97 L866.8,101.6 L862,99 L862.9,94.9 L862.2,90.3 L860,85.3Z" fill="#9bbb8c" stroke="#547a4c" stroke-width="1.0" stroke-linejoin="round"/>
<path d="M772,90 C774,80 786,80 796,98" fill="none" stroke="#6d9066" stroke-width="3.6" stroke-linecap="round"/>
<path d="M772,90 C774,80 786,80 796,98" fill="none" stroke="#b2cba6" stroke-width="2.4" stroke-linecap="round"/>
<path d="M777.9,102.7 L779.7,103.8 L783.2,105.2 L787.9,106.9 L793,109 L797.8,111.4 L801.5,114 L803.9,117.2 L803.5,123.6 L799,119.7 L799.4,121.2 L798.6,119.3 L795.7,117 L791.3,114.8 L786.5,112.7 L781.8,111 L778.1,109.6 L775.9,108.4Z M776.3,129.8 L778.4,130.9 L782.1,132.4 L786.9,134.1 L792,136.3 L796.6,138.7 L800.2,141.4 L802.4,144.7 L801.5,151 L797.2,146.8 L797.6,148.3 L797.1,146.5 L794.5,144.3 L790.3,142 L785.4,140 L780.7,138.2 L776.8,136.7 L774.5,135.5Z M774.7,156.9 L777.1,158.1 L781,159.5 L785.9,161.4 L791,163.5 L795.5,166 L798.9,168.7 L800.8,172.1 L799.4,178.5 L795.4,173.9 L795.8,175.4 L795.6,173.8 L793.2,171.5 L789.2,169.3 L784.4,167.2 L779.6,165.4 L775.6,163.9 L773,162.6Z M773.2,184 L775.9,185.2 L780,186.7 L784.9,188.6 L790,190.8 L794.3,193.3 L797.6,196.1 L798.8,199 L794.5,203.2 L794.1,201 L792,198.8 L788.2,196.5 L783.4,194.4 L778.5,192.5 L774.4,191 L771.6,189.7Z M771.2,210.3 L772,211.1 L774.7,212.3 L778.9,213.9 L783.9,215.8 L788.9,218.1 L793.2,220.6 L796.2,223.5 L797.2,226.4 L792.6,230.3 L792.5,228.2 L790.7,226.1 L787.1,223.8 L782.4,221.6 L777.5,219.7 L773.2,218.1 L770,216.8 L768.5,215.6Z M769.4,237.3 L770.5,238.2 L773.5,239.5 L777.9,241.1 L783,243.1 L787.9,245.4 L792,247.9 L794.8,250.9 L795.5,253.9 L790.7,257.4 L790.9,255.4 L789.4,253.3 L785.9,251 L781.4,248.9 L776.5,246.9 L772,245.3 L768.7,243.9 L767,242.8Z" fill="#b2cba6" stroke="#6d9066" stroke-width="0.9" stroke-linejoin="round"/>
<path d="M787.7,105 L782.9,106.1 L779.4,107 L778.2,107.6 L779.6,103.8 L774.2,107.4 L775.5,101.7 L778.3,100.6 L782.1,99.6 L786.9,98.5Z M802.7,124.6 L800,127 L795.7,129.1 L790.6,130.7 L785.3,132.1 L780.6,133.2 L777.3,134 L776.7,134.5 L777.7,130.4 L773,134.9 L773.4,128.9 L776.2,127.6 L779.8,126.7 L784.5,125.6 L789.6,124.3 L794.4,122.7 L797.9,120.8 L799.9,118.7Z M800.6,151.9 L797.8,154.2 L793.3,156.3 L788.1,157.9 L782.9,159.2 L778.3,160.2 L775.3,161.1 L775.3,161.3 L775.8,157.2 L771.9,162.3 L771.2,156.3 L774.1,154.7 L777.5,153.8 L782.1,152.7 L787.2,151.5 L792,149.9 L795.8,148 L798.1,145.9Z M798.6,179.2 L795.5,181.5 L790.9,183.5 L785.7,185 L780.5,186.3 L776.1,187.3 L773.4,188.1 L774,188 L774.1,184.1 L770.7,189.6 L769.1,183.7 L772,181.8 L775.3,180.9 L779.7,179.8 L784.8,178.6 L789.7,177.1 L793.7,175.3 L796.2,173.2Z M798.6,203.7 L796.9,206.4 L793.2,208.7 L788.5,210.6 L783.2,212.2 L778.1,213.4 L773.9,214.4 L771.5,215.2 L771.3,215.8 L768.4,210 L769.9,208.9 L773,207.9 L777.3,206.9 L782.4,205.7 L787.4,204.2 L791.5,202.5 L793.9,200.6 L794.7,198.5Z M796.7,231.1 L794.7,233.7 L790.9,236 L786.1,237.8 L780.8,239.3 L775.7,240.5 L771.7,241.5 L769.7,242.2 L770,242.7 L766.4,237.3 L767.8,236 L770.8,235 L775,234 L779.9,232.9 L785,231.4 L789.3,229.7 L792,227.8 L793.1,225.7Z M794.7,258.4 L792.6,261 L788.8,263.2 L786.9,256.9 L790.1,255 L791.4,252.9Z" fill="#9bbb8c" stroke="#547a4c" stroke-width="1.0" stroke-linejoin="round"/>
<path d="M807.3,103.9 L808.8,104.9 L812.2,106.3 L817,108.1 L822.4,110.2 L827.6,112.7 L831.8,115.5 L834.7,118.7 L835.2,121.9 L830.1,125.1 L830.6,123.1 L829.1,120.9 L825.6,118.4 L820.8,116 L815.5,113.9 L810.7,112.1 L807,110.6 L805.1,109.4Z M805.1,131.9 L806.9,133 L810.5,134.4 L815.5,136.3 L820.9,138.5 L826,141 L830.1,143.8 L832.7,147.1 L832.6,153.6 L828,149.8 L828.4,151.2 L827.3,149.1 L824,146.6 L819.2,144.2 L814,142.1 L809.1,140.2 L805.2,138.7 L803,137.5Z M803,159.9 L805.1,161 L808.9,162.5 L814,164.4 L819.5,166.7 L824.5,169.3 L828.3,172.1 L830.7,175.5 L830.1,182 L825.7,177.9 L826.1,179.3 L825.3,177.3 L822.3,174.9 L817.7,172.4 L812.5,170.2 L807.5,168.4 L803.4,166.8 L801.1,165.6Z M800.9,187.9 L803.3,189.1 L807.4,190.7 L812.5,192.6 L818,194.9 L822.8,197.6 L826.5,200.5 L828.7,203.9 L827.5,210.4 L823.4,206 L823.9,207.4 L823.4,205.6 L820.6,203.1 L816.2,200.7 L811,198.4 L805.9,196.5 L801.7,194.9 L799.1,193.7Z M798.9,216 L801.5,217.2 L805.8,218.8 L811.1,220.8 L816.5,223.2 L821.2,225.8 L824.7,228.8 L826.7,232.4 L824.8,238.8 L821.1,234.1 L821.5,235.5 L821.4,233.8 L818.9,231.4 L814.6,228.9 L809.5,226.6 L804.3,224.7 L800,223 L797.1,221.7Z M796.9,244 L799.8,245.3 L804.3,247 L809.6,249 L814.9,251.4 L819.6,254.1 L822.9,257.1 L824.1,260.2 L819.7,264.2 L819.3,262 L817.1,259.6 L813.1,257.1 L808,254.8 L802.8,252.8 L798.3,251.1 L795.2,249.8Z M794.2,271.2 L795.1,272.2 L798.1,273.5 L802.7,275.2 L808.1,277.3 L813.4,279.7 L817.9,282.4 L821,285.5 L821.9,288.6 L817.3,292.3 L817.3,290.2 L815.4,287.9 L811.5,285.4 L806.5,283 L801.2,281 L796.6,279.3 L793.2,277.8 L791.6,276.6Z" fill="#b2cba6" stroke="#6d9066" stroke-width="0.9" stroke-linejoin="round"/>
<path d="M834.2,126.4 L831.7,128.9 L827.3,131.1 L821.9,132.9 L816.1,134.2 L810.9,135.3 L806.9,136.1 L805.3,136.8 L806.5,136.9 L801.7,132.5 L803.1,130.7 L806.1,129.7 L810.3,128.8 L815.5,127.8 L821,126.4 L826,124.8 L829.4,122.8 L831.1,120.6Z M831.7,154.7 L829,157.2 L824.4,159.3 L818.9,161 L813.2,162.3 L808.1,163.3 L804.3,164.2 L803.2,164.7 L804.6,160.8 L799.4,164.7 L800.5,158.8 L803.5,157.7 L807.5,156.9 L812.6,155.8 L818.1,154.5 L823.2,152.9 L826.9,151 L828.9,148.8Z M829.2,183 L826.2,185.4 L821.5,187.5 L815.9,189.1 L810.3,190.4 L805.3,191.4 L801.8,192.2 L801.3,192.6 L802.2,188.4 L797.8,193.2 L797.9,187 L800.8,185.8 L804.6,184.9 L809.6,183.9 L815.2,182.6 L820.3,181.1 L824.3,179.2 L826.6,177Z M826.6,211.2 L823.5,213.6 L818.6,215.6 L813,217.2 L807.3,218.4 L802.5,219.4 L799.3,220.2 L799.4,220.3 L799.9,216.2 L796.1,221.5 L795.2,215.4 L798.2,213.8 L801.8,212.9 L806.7,211.9 L812.2,210.7 L817.5,209.2 L821.7,207.4 L824.3,205.2Z M824.1,239.5 L820.7,241.8 L815.7,243.8 L810,245.3 L804.4,246.5 L799.7,247.4 L796.9,248.2 L797.6,247.9 L797.7,244.1 L794.5,249.7 L792.5,243.9 L795.6,241.8 L799.1,241 L803.8,240 L809.3,238.8 L814.6,237.3 L819,235.5 L821.9,233.4Z M823.7,264.9 L821.8,267.6 L817.9,270 L812.7,271.9 L807,273.4 L801.5,274.5 L797,275.4 L794.5,276.2 L794.3,276.9 L791.5,271 L793,269.9 L796.3,269 L800.9,268.1 L806.3,266.9 L811.7,265.5 L816.3,263.7 L819.1,261.7 L820,259.5Z M821.3,293.2 L819.2,295.9 L815,298.2 L809.8,300 L804.1,301.5 L798.6,302.6 L798,296.1 L803.4,295 L808.9,293.6 L813.6,291.9 L816.6,289.9 L817.9,287.7Z" fill="#9bbb8c" stroke="#547a4c" stroke-width="1.0" stroke-linejoin="round"/>
<path d="M877.2,63 L878.3,64.2 L881.3,65.8 L885.6,67.9 L890.5,70.3 L895.2,73.1 L899,76.1 L901.5,79.4 L901.8,82.5 L896.7,85.6 L897.1,83.5 L895.9,81.2 L892.7,78.6 L888.4,76 L883.6,73.5 L879.3,71.5 L876,69.7 L874.3,68.3Z M873.2,91.8 L874.6,93 L877.7,94.7 L882.1,96.8 L887,99.3 L891.6,102.1 L895.3,105.1 L897.7,108.4 L897.9,111.6 L892.6,114.4 L893.2,112.4 L892.2,110.2 L889.1,107.6 L884.9,104.9 L880.1,102.5 L875.8,100.4 L872.3,98.6 L870.5,97.1Z M869.3,120.6 L870.9,121.9 L874.1,123.6 L878.6,125.7 L883.5,128.3 L888.1,131.1 L891.7,134.1 L893.9,137.5 L893.4,144 L889,140 L889.3,141.3 L888.4,139.2 L885.6,136.5 L881.4,133.9 L876.7,131.4 L872.2,129.3 L868.7,127.5 L866.7,126Z M865.4,149.4 L867.2,150.8 L870.6,152.5 L875.1,154.7 L880,157.3 L884.5,160.1 L888,163.1 L890.1,166.6 L889.3,173 L885,168.8 L885.3,170.2 L884.7,168.1 L882,165.5 L877.9,162.8 L873.2,160.4 L868.6,158.2 L865,156.3 L862.9,154.9Z M861.6,178.3 L863.5,179.6 L867,181.4 L871.6,183.6 L876.5,186.2 L881,189.1 L884.4,192.2 L886.3,195.7 L885.1,202.1 L881.1,197.6 L881.4,199.1 L880.9,197.1 L878.3,194.5 L874.3,191.8 L869.7,189.3 L865.1,187.1 L861.4,185.2 L859.2,183.7Z M857.7,207.1 L859.9,208.5 L863.5,210.3 L868.2,212.6 L873,215.2 L877.4,218.1 L880.7,221.2 L882.5,224.7 L880.9,231.1 L877.1,226.5 L877.4,227.9 L877.1,226 L874.7,223.5 L870.8,220.8 L866.2,218.3 L861.6,216 L857.7,214.1 L855.4,212.6Z M853.9,235.9 L856.2,237.4 L860,239.3 L864.7,241.5 L869.5,244.2 L873.8,247.1 L877,250.2 L878.6,253.8 L876.7,260.1 L873.1,255.4 L873.4,256.8 L873.3,255 L871.1,252.4 L867.3,249.8 L862.7,247.2 L858,244.9 L854.1,243 L851.6,241.5Z M850.1,264.8 L852.6,266.3 L856.4,268.2 L861.2,270.5 L866,273.2 L870.2,276.1 L873.3,279.2 L874.8,282.9 L872.5,289.1 L869.1,284.2 L869.4,285.6 L869.5,283.9 L867.5,281.4 L863.8,278.7 L859.2,276.2 L854.5,273.9 L850.5,271.9 L847.9,270.3Z M846.1,292.8 L846.5,293.7 L848.9,295.1 L852.9,297.1 L857.7,299.5 L862.4,302.1 L860.3,307.7 L855.7,305.1 L851,302.8 L846.9,300.8 L843.9,299.1 L842.6,297.6Z" fill="#b2cba6" stroke="#6d9066" stroke-width="0.9" stroke-linejoin="round"/>
<path d="M879.2,67 L877.2,67.8 L877.6,68.3 L873.9,63 L875.4,61.5 L878.3,60.6Z M900.7,87 L898.3,89.4 L894.1,91.5 L889,93 L883.6,94.2 L878.6,95.1 L874.9,95.9 L873.2,96.5 L874,96.9 L869.8,92 L871.2,90.4 L874.2,89.4 L878.3,88.6 L883.2,87.7 L888.4,86.5 L893,85.1 L896.2,83.3 L897.8,81.2Z M896.6,116 L894.1,118.4 L889.8,120.4 L884.6,121.9 L879.2,123 L874.3,123.9 L870.7,124.7 L869.4,125.3 L870.4,125.5 L865.6,121.1 L867.1,119.2 L870,118.2 L873.9,117.4 L878.8,116.5 L884,115.4 L888.7,114 L892.1,112.2 L893.9,110.1Z M892.5,144.9 L889.8,147.3 L885.4,149.2 L880.2,150.7 L874.9,151.8 L870,152.7 L866.5,153.5 L865.5,154.1 L867,150.5 L861.4,153.8 L862.9,148.1 L865.8,147 L869.6,146.2 L874.5,145.3 L879.7,144.2 L884.4,142.8 L887.9,141.1 L889.9,139Z M888.4,173.9 L885.6,176.2 L881.1,178.1 L875.8,179.6 L870.5,180.6 L865.7,181.5 L862.4,182.3 L861.7,182.8 L863,179 L857.8,183 L858.7,177 L861.6,175.8 L865.3,175 L870.1,174.2 L875.3,173.1 L880.1,171.7 L883.8,170 L885.9,167.9Z M884.2,202.9 L881.3,205.2 L876.7,207 L871.4,208.4 L866.1,209.5 L861.4,210.3 L858.3,211.1 L857.9,211.5 L859,207.6 L854.2,212 L854.5,206 L857.4,204.6 L861,203.8 L865.7,203 L870.9,201.9 L875.8,200.6 L879.6,198.9 L881.9,196.8Z M880.1,231.9 L877,234.1 L872.4,235.9 L867,237.2 L861.7,238.3 L857.2,239.1 L854.2,239.9 L854.2,240.1 L855,236.3 L850.6,241.1 L850.3,235 L853.2,233.4 L856.7,232.6 L861.3,231.8 L866.5,230.8 L871.5,229.4 L875.4,227.8 L877.9,225.7Z M875.9,260.8 L872.7,263 L868,264.8 L862.6,266.1 L857.3,267.1 L852.9,267.9 L850.1,268.7 L850.5,268.7 L851,265 L847,270.1 L846.1,264 L849,262.3 L852.4,261.4 L857,260.6 L862.1,259.6 L867.1,258.3 L871.2,256.7 L873.9,254.7Z M871.8,289.8 L868.4,291.9 L863.6,293.6 L858.2,294.9 L853,295.9 L848.7,296.7 L846.1,297.5 L845.5,298.2 L843.2,292.2 L844.8,291.1 L848.2,290.2 L852.6,289.4 L857.7,288.4 L862.8,287.2 L867,285.6 L869.8,283.6Z" fill="#9bbb8c" stroke="#547a4c" stroke-width="1.0" stroke-linejoin="round"/>
<path d="M937.8,84.5 L940.5,85.7 L944.5,87.2 L949.3,88.9 L954,91 L958.1,93.4 L961.2,96.2 L962.3,99.1 L957.9,103.3 L957.7,101.1 L955.9,98.9 L952.4,96.8 L947.9,94.8 L943.3,93.1 L939.2,91.6 L936.3,90.3Z M937.6,113.6 L938.6,114.7 L941.2,115.9 L945.4,117.4 L950.1,119.2 L954.8,121.3 L958.8,123.7 L961.7,126.5 L962.6,129.6 L958.1,133.5 L958.1,131.3 L956.5,129.2 L953.1,127 L948.8,125 L944.1,123.3 L939.9,121.7 L936.7,120.4 L935,119Z M937.8,143.7 L939.1,144.8 L942,146 L946.2,147.6 L951,149.4 L955.6,151.5 L959.5,154 L962.3,156.9 L963,160 L958.2,163.7 L958.4,161.5 L957.1,159.4 L953.9,157.3 L949.6,155.2 L944.9,153.4 L940.7,151.9 L937.3,150.5 L935.5,149.2Z M938.1,173.8 L939.6,174.9 L942.7,176.2 L947,177.8 L951.9,179.6 L956.5,181.8 L960.2,184.3 L962.8,187.3 L963.3,190.4 L958.3,193.8 L958.7,191.7 L957.6,189.7 L954.6,187.5 L950.4,185.5 L945.8,183.6 L941.4,182.1 L937.9,180.7 L936,179.4Z M938.4,203.9 L940.2,205.1 L943.5,206.4 L947.9,208 L952.7,209.9 L957.2,212.1 L960.9,214.6 L963.3,217.7 L963.4,224.2 L958.5,220.7 L959,221.9 L958.1,220 L955.3,217.8 L951.3,215.7 L946.6,213.8 L942.2,212.2 L938.6,210.8 L936.5,209.6Z M938.8,234 L940.8,235.2 L944.2,236.6 L948.8,238.2 L953.6,240.1 L958,242.4 L961.5,245 L963.8,248.2 L963.4,254.7 L958.8,250.8 L959.3,252.1 L958.7,250.2 L956.1,248 L952.1,245.9 L947.5,244 L943,242.4 L939.3,241 L937,239.7Z M939.2,264.1 L941.4,265.3 L945,266.7 L949.6,268.4 L954.4,270.4 L958.8,272.6 L962.2,275.3 L964.2,278.6 L963.4,285.1 L959,281 L959.5,282.3 L959.1,280.5 L956.7,278.3 L952.9,276.2 L948.3,274.3 L943.8,272.6 L939.9,271.2 L937.5,269.9Z" fill="#deeef3" stroke="#9cb8c2" stroke-width="0.9" stroke-linejoin="round"/>
<path d="M962.2,103.7 L960.7,106.6 L957.3,109.3 L953,111.7 L948.2,113.7 L943.6,115.5 L940,117 L938.2,118.1 L938.4,118.8 L934.2,113.8 L935.5,112.2 L938.3,110.7 L942.1,109.2 L946.6,107.4 L951.2,105.4 L954.9,103.2 L957.2,101 L958,98.7Z M962.4,134.1 L960.6,136.9 L957.1,139.6 L952.7,141.9 L947.9,144 L943.4,145.7 L940,147.1 L938.5,148.1 L939,148.7 L934.3,144.2 L935.5,142.4 L938.2,140.9 L941.9,139.4 L946.4,137.6 L950.9,135.7 L954.9,133.5 L957.4,131.3 L958.4,129Z M962.5,164.5 L960.5,167.2 L956.9,169.9 L952.4,172.2 L947.6,174.2 L943.2,175.9 L940,177.3 L938.8,178.2 L939.7,178.5 L934.4,174.6 L935.5,172.6 L938.1,171 L941.7,169.5 L946.1,167.9 L950.7,165.9 L954.7,163.8 L957.5,161.5 L958.7,159.2Z M962.6,194.8 L960.5,197.6 L956.7,200.2 L952.2,202.4 L947.4,204.4 L943.1,206 L940,207.4 L939.2,208.2 L940,204.7 L934.9,208.7 L935.5,202.9 L938.1,201.2 L941.5,199.7 L945.9,198.1 L950.5,196.2 L954.6,194 L957.5,191.8 L959,189.4Z M962.7,225.2 L960.4,227.9 L956.5,230.5 L951.9,232.7 L947.1,234.6 L942.9,236.2 L940.1,237.5 L939.6,238.2 L940.2,234.6 L935.6,239.1 L935.5,233.2 L938,231.4 L941.4,229.9 L945.6,228.3 L950.2,226.4 L954.5,224.3 L957.6,222.1 L959.3,219.7Z M962.7,255.6 L960.3,258.2 L956.3,260.7 L951.6,262.9 L946.9,264.8 L942.8,266.4 L940.1,267.7 L940.1,268.1 L940.4,264.5 L936.3,269.5 L935.5,263.5 L938,261.5 L941.2,260.1 L945.4,258.5 L950,256.6 L954.3,254.5 L957.6,252.3 L959.5,249.9Z M962.8,285.9 L960.1,288.5 L956,291 L951.3,293.2 L946.6,295 L942.6,296.6 L941.1,290.2 L945.2,288.7 L949.7,286.9 L954.1,284.8 L957.6,282.6 L959.7,280.2Z" fill="#d2e7ee" stroke="#7f9fab" stroke-width="1.0" stroke-linejoin="round"/>
<path d="M893.2,100.7 L894.5,101.7 L897.6,103 L902.1,104.5 L907.3,106.4 L912.3,108.5 L916.5,111.1 L919.5,114.1 L920.2,117.2 L915.5,120.9 L915.7,118.7 L914.1,116.6 L910.6,114.3 L906,112.2 L900.9,110.4 L896.4,108.8 L892.8,107.5 L891,106.2Z M893.2,130.7 L894.7,131.8 L898,133.1 L902.7,134.7 L907.9,136.6 L912.8,138.8 L916.9,141.4 L919.7,144.4 L920.2,147.6 L915.3,151 L915.7,148.9 L914.4,146.8 L911.1,144.5 L906.5,142.4 L901.5,140.6 L896.8,139 L893.2,137.6 L891.1,136.4Z M893.2,160.8 L895,162 L898.5,163.3 L903.2,164.9 L908.4,166.8 L913.3,169.1 L917.3,171.7 L919.9,174.8 L920.1,181.4 L915.2,177.9 L915.7,179.1 L914.6,177 L911.5,174.8 L907,172.6 L902,170.8 L897.3,169.2 L893.5,167.8 L891.3,166.5Z M893.3,190.9 L895.3,192.1 L899,193.4 L903.8,195.1 L909,197 L913.8,199.3 L917.6,202 L920.1,205.2 L919.9,211.8 L915.2,208 L915.7,209.3 L914.9,207.3 L911.9,205 L907.6,202.9 L902.6,200.9 L897.8,199.3 L893.8,197.9 L891.5,196.7Z M893.4,221.1 L895.6,222.2 L899.5,223.6 L904.4,225.3 L909.6,227.3 L914.3,229.6 L918,232.3 L920.2,235.6 L919.6,242.2 L915.1,238.2 L915.7,239.5 L915.1,237.5 L912.3,235.3 L908.1,233.1 L903.1,231.1 L898.3,229.5 L894.2,228.1 L891.7,226.8Z M893.5,251.2 L896,252.4 L900,253.8 L904.9,255.5 L910.1,257.5 L914.8,259.9 L918.3,262.6 L920.4,266 L919.3,272.6 L915.1,268.4 L915.6,269.6 L915.2,267.8 L912.7,265.5 L908.6,263.3 L903.7,261.3 L898.8,259.7 L894.6,258.2 L891.9,257Z M893.7,281.3 L896.3,282.5 L900.5,283.9 L905.5,285.7 L910.7,287.7 L915.2,290.1 L918.6,292.9 L920.5,296.4 L919,303 L915,298.5 L915.5,299.8 L915.4,298 L913.1,295.8 L909.1,293.5 L904.2,291.5 L899.3,289.8 L895,288.4 L892.1,287.1Z" fill="#deeef3" stroke="#9cb8c2" stroke-width="0.9" stroke-linejoin="round"/>
<path d="M899.4,102.9 L895.6,104.3 L893.8,105.3 L894.3,105.8 L889.9,101 L891.2,99.4 L894.1,97.9 L898.1,96.5Z M919.7,121.7 L917.7,124.5 L913.8,127.2 L909,129.5 L903.8,131.4 L898.9,133.1 L895.3,134.4 L893.8,135.3 L894.6,135.7 L889.7,131.4 L890.9,129.5 L893.7,128.1 L897.6,126.7 L902.4,125.1 L907.4,123.2 L911.8,121 L914.7,118.8 L916,116.4Z M919.6,152.1 L917.3,154.8 L913.3,157.5 L908.4,159.7 L903.2,161.6 L898.5,163.2 L895,164.5 L893.9,165.4 L894.9,161.8 L889.6,165.5 L890.6,159.8 L893.4,158.2 L897.2,156.9 L901.9,155.3 L906.9,153.4 L911.4,151.3 L914.5,149 L916,146.6Z M919.4,182.4 L916.9,185.2 L912.8,187.7 L907.8,189.9 L902.6,191.8 L898,193.4 L894.8,194.7 L894,195.4 L894.8,191.6 L890,196 L890.3,190 L893,188.4 L896.7,187 L901.3,185.4 L906.3,183.6 L910.9,181.5 L914.2,179.2 L916,176.8Z M919.1,212.7 L916.6,215.4 L912.3,218 L907.3,220.1 L902.1,222 L897.6,223.5 L894.5,224.8 L894.1,225.3 L894.7,221.5 L890.4,226.4 L890,220.3 L892.7,218.5 L896.2,217.2 L900.8,215.6 L905.8,213.8 L910.5,211.7 L914,209.5 L916,207.1Z M918.9,243.1 L916.1,245.7 L911.8,248.2 L906.7,250.4 L901.6,252.2 L897.2,253.7 L894.3,254.9 L894.4,255.2 L894.6,251.4 L890.8,256.7 L889.7,250.7 L892.4,248.7 L895.8,247.3 L900.3,245.8 L905.3,244 L910,242 L913.7,239.7 L915.9,237.3Z M918.6,273.4 L915.7,276 L911.3,278.5 L906.1,280.6 L901,282.4 L896.8,283.8 L894.1,285 L894.6,285 L894.6,281.4 L891.2,287 L889.4,281.1 L892.1,278.8 L895.4,277.5 L899.7,276 L904.7,274.2 L909.5,272.2 L913.3,270 L915.8,267.6Z M917,297.5 L917,304Z" fill="#d2e7ee" stroke="#7f9fab" stroke-width="1.0" stroke-linejoin="round"/>
<path d="M972.2,60.2 L974.2,61.3 L978,62.7 L983,64.3 L988.6,66.3 L993.7,68.7 L997.9,71.3 L1000.6,74.5 L1000.8,81.2 L996,77.6 L996.5,78.9 L995.3,76.7 L991.9,74.4 L987.1,72.2 L981.8,70.2 L976.8,68.6 L972.7,67.2 L970.4,66Z M971.7,90.2 L973.7,91.3 L977.5,92.7 L982.6,94.3 L988.1,96.3 L993.3,98.7 L997.5,101.3 L1000.2,104.5 L1000.4,111.2 L995.5,107.6 L996,108.9 L994.9,106.7 L991.5,104.4 L986.7,102.2 L981.4,100.2 L976.3,98.6 L972.3,97.2 L970,96Z M971.3,120.2 L973.3,121.3 L977.1,122.7 L982.2,124.3 L987.7,126.3 L992.9,128.7 L997,131.3 L999.8,134.6 L1000,141.2 L995.1,137.6 L995.6,138.9 L994.4,136.7 L991.1,134.4 L986.3,132.2 L981,130.2 L975.9,128.6 L971.9,127.2 L969.5,126Z M970.9,150.2 L972.9,151.3 L976.7,152.7 L981.8,154.3 L987.3,156.3 L992.5,158.7 L996.6,161.3 L999.4,164.6 L999.5,171.2 L994.7,167.6 L995.2,168.9 L994,166.7 L990.7,164.4 L985.9,162.2 L980.5,160.2 L975.5,158.6 L971.5,157.2 L969.1,156Z M970.5,180.2 L972.5,181.3 L976.3,182.7 L981.4,184.3 L986.9,186.3 L992.1,188.7 L996.2,191.3 L998.9,194.6 L999.1,201.2 L994.3,197.6 L994.7,198.9 L993.6,196.7 L990.2,194.4 L985.5,192.2 L980.1,190.2 L975.1,188.6 L971,187.2 L968.7,186Z M970,210.2 L972,211.3 L975.8,212.7 L980.9,214.3 L986.5,216.3 L991.6,218.7 L995.8,221.3 L998.5,224.6 L998.7,231.2 L993.8,227.6 L994.3,228.9 L993.2,226.7 L989.8,224.4 L985,222.2 L979.7,220.2 L974.7,218.6 L970.6,217.2 L968.3,216Z M969.6,240.2 L971.6,241.3 L975.4,242.7 L980.5,244.3 L986,246.3 L991.2,248.7 L995.4,251.3 L998.1,254.6 L998.2,261.2 L993.4,257.6 L993.9,258.9 L992.7,256.7 L989.4,254.4 L984.6,252.2 L979.3,250.2 L974.2,248.6 L970.2,247.2 L967.8,246Z" fill="#deeef3" stroke="#9cb8c2" stroke-width="0.9" stroke-linejoin="round"/>
<path d="M974.1,64.1 L972.8,64.9 L973.9,61.2 L968.7,65 L969.6,59.2 L972.3,57.9Z M1000,82.2 L997.5,85 L993.1,87.5 L987.8,89.7 L982.2,91.5 L977.1,92.9 L973.5,94.1 L972.3,94.9 L973.5,91.2 L968.2,95 L969.2,89.2 L972.1,87.8 L976,86.5 L981,85.1 L986.4,83.3 L991.3,81.2 L994.9,79 L996.8,76.6Z M999.6,112.2 L997,115 L992.6,117.5 L987.3,119.7 L981.7,121.5 L976.7,122.9 L973.1,124.1 L971.9,124.9 L973,121.2 L967.8,125.1 L968.8,119.2 L971.6,117.8 L975.6,116.5 L980.6,115.1 L986,113.3 L990.9,111.2 L994.5,109 L996.4,106.6Z M999.1,142.2 L996.6,145 L992.2,147.5 L986.9,149.7 L981.3,151.5 L976.3,152.9 L972.6,154.1 L971.5,154.9 L972.6,151.1 L967.4,155.1 L968.3,149.2 L971.2,147.8 L975.1,146.5 L980.2,145.1 L985.6,143.3 L990.5,141.2 L994,139 L995.9,136.6Z M998.7,172.2 L996.2,175 L991.8,177.5 L986.4,179.7 L980.9,181.5 L975.8,182.9 L972.2,184.1 L971,184.9 L972.2,181.1 L967,185.1 L967.9,179.2 L970.8,177.8 L974.7,176.5 L979.7,175.1 L985.1,173.3 L990,171.2 L993.6,169 L995.5,166.6Z M998.3,202.2 L995.7,205 L991.3,207.5 L986,209.7 L980.4,211.5 L975.4,212.9 L971.8,214.1 L970.6,214.9 L971.7,211.1 L966.6,215.1 L967.5,209.2 L970.3,207.8 L974.3,206.5 L979.3,205.1 L984.7,203.3 L989.6,201.2 L993.2,199 L995.1,196.6Z M997.9,232.2 L995.3,235 L990.9,237.5 L985.6,239.7 L980,241.5 L975,242.9 L971.3,244.1 L970.2,244.9 L971.3,241.1 L966.1,245.1 L967,239.2 L969.9,237.8 L973.8,236.5 L978.9,235.1 L984.2,233.3 L989.2,231.2 L992.7,229 L994.6,226.6Z M997.4,262.2 L994.8,265 L990.5,267.5 L985.1,269.7 L979.5,271.5 L974.5,272.9 L970.8,274.2 L969.6,267.8 L973.4,266.5 L978.4,265.1 L983.8,263.3 L988.7,261.2 L992.3,259 L994.2,256.6Z" fill="#d2e7ee" stroke="#7f9fab" stroke-width="1.0" stroke-linejoin="round"/>
<ellipse cx="977" cy="61" rx="10" ry="7" fill="none" stroke="#7f9fab" stroke-width="5.4"/>
<ellipse cx="977" cy="61" rx="10" ry="7" fill="none" stroke="#d2e7ee" stroke-width="4"/>
<path d="M935,296 C940,318 960,322 964,306 S990,270 1008,262" fill="none" stroke="#afc6ce" stroke-width="3.6" stroke-linecap="round"/>
<path d="M935,296 C940,318 960,322 964,306 S990,270 1008,262" fill="none" stroke="#e4f1f5" stroke-width="2.4" stroke-linecap="round"/>
<path d="M905,300 C896,318 912,330 925,322" fill="none" stroke="#afc6ce" stroke-width="3.6" stroke-linecap="round"/>
<path d="M905,300 C896,318 912,330 925,322" fill="none" stroke="#e4f1f5" stroke-width="2.4" stroke-linecap="round"/>
<circle cx="890" cy="184" r="2.8" fill="#c9323c"/>
<circle cx="893" cy="189" r="2.8" fill="#666666"/>
<circle cx="896" cy="194" r="2.8" fill="#c9323c"/>
<circle cx="892" cy="199" r="2.8" fill="#666666"/>
<circle cx="895" cy="205" r="2.8" fill="#c9323c"/>
<circle cx="893" cy="212" r="2.8" fill="#666666"/>
<circle cx="894" cy="220" r="2.8" fill="#666666"/>
<circle cx="892" cy="228" r="2.8" fill="#666666"/>
<circle cx="894" cy="236" r="2.8" fill="#666666"/>
<circle cx="893" cy="244" r="2.8" fill="#666666"/>
<circle cx="894" cy="252" r="2.8" fill="#666666"/>
<path d="M800,258 C790,270 800,280 795,292" fill="none" stroke="#b9cdd4" stroke-width="3.6" stroke-linecap="round"/>
<path d="M800,258 C790,270 800,280 795,292" fill="none" stroke="#e7f3f6" stroke-width="2.4" stroke-linecap="round"/>
<path d="M778.1,286.5 L781.3,282.5 L785.8,280.3 L790.9,280.4 L795.6,283 L799.2,287.9 L801.2,294.4 L801.2,301.7 L798.8,310.7 L796.5,308.1 L798,303.1 L798.2,296.3 L796.7,290.3 L793.8,286 L790,283.8 L786,283.8 L782.4,285.8 L779.7,289.6Z M774,303.5 L777.3,299.7 L781.9,297.6 L787,298 L791.6,300.9 L795.1,305.9 L796.9,312.5 L796.8,319.9 L794.2,328.8 L791.9,326.1 L793.5,321.2 L793.9,314.4 L792.6,308.3 L789.7,303.8 L786,301.4 L782,301.1 L778.4,303 L775.5,306.7Z M769.9,320.5 L773.3,316.9 L778.1,315 L783.1,315.6 L787.7,318.7 L791,323.9 L792.6,330.7 L792.3,338.1 L789.5,346.9 L787.3,344.2 L789,339.4 L789.6,332.5 L788.4,326.3 L785.7,321.6 L782,319 L778,318.5 L774.3,320.2 L771.3,323.7Z M765.8,337.6 L769.2,334.1 L770.5,337.4 L767.2,340.8Z" fill="#f5f1d0" stroke="#d9d4af" stroke-width="0.9" stroke-linejoin="round"/>
<path d="M776.5,298.8 L775.8,293.8 L777.6,286.6 L780.2,289.6 L779.4,292 L779.8,296.6Z M798.7,311.1 L795,317.2 L790,321.6 L784.4,323.7 L779.1,323.2 L774.7,320.5 L772.1,316 L771.5,310.7 L773.5,303.6 L776.1,306.6 L775.1,309 L775.2,313.5 L777,317.2 L780.2,319.4 L784.4,319.7 L789,317.7 L793.2,313.6 L796.6,307.7Z M794,329.2 L790.2,335.2 L785.1,339.4 L779.5,341.2 L774.2,340.5 L770,337.6 L767.6,333 L767.1,327.6 L769.4,320.6 L771.9,323.7 L770.8,326 L770.7,330.5 L772.4,334.3 L775.5,336.7 L779.6,337.2 L784.2,335.5 L788.5,331.5 L792,325.8Z M789.3,347.3 L785.4,353.1 L780.2,357.1 L774.6,358.7 L769.4,357.8 L765.4,354.7 L763.1,350 L762.8,344.6 L765.3,337.6 L767.7,340.8 L766.6,343.1 L766.3,347.6 L767.8,351.5 L770.8,354 L774.8,354.7 L779.4,353.2 L783.8,349.5 L787.4,343.8Z" fill="#f2ebb2" stroke="#c5be8b" stroke-width="1.0" stroke-linejoin="round"/>
<path d="M800.7,306.5 L804.4,303.7 L809.2,302.7 L814.1,304.1 L818.3,307.6 L821,313 L822,319.6 L821,326.5 L817.4,334.5 L815.5,331.6 L817.6,327.4 L818.8,321.1 L818.2,315.1 L816,310.3 L812.6,307.2 L808.7,306.2 L804.9,307.2 L801.7,309.9Z M795,323.1 L798.8,320.4 L803.6,319.7 L808.5,321.3 L812.5,325.1 L815.1,330.6 L815.8,337.2 L814.6,344.1 L810.8,352.1 L808.9,349.1 L811.2,345 L812.7,338.7 L812.2,332.7 L810.2,327.7 L806.9,324.4 L803,323.1 L799.1,323.9 L795.8,326.5Z" fill="#f1eab8" stroke="#c6bd84" stroke-width="0.9" stroke-linejoin="round"/>
<path d="M802.8,325.6 L799.1,322.5 L797.1,318 L797,312.9 L800,306.3 L802.4,310.1 L801.3,311.6 L800.8,315.5 L802.1,319.1 L805.2,321.8Z M817.3,335.2 L812.8,340.1 L807.2,343.1 L801.5,343.9 L796.4,342.4 L792.7,339 L790.8,334.3 L791,329.3 L794.3,322.8 L796.5,326.7 L795.3,328.1 L794.7,332 L795.7,335.7 L798.4,338.4 L802.2,339.5 L806.9,338.6 L811.5,335.7 L815.6,331Z M810.6,352.7 L806,357.4 L800.4,360.2 L795,360.8 L795.3,356.3 L800.2,355.7 L804.8,353.1 L809.1,348.5Z" fill="#ebe18a" stroke="#a69c4e" stroke-width="1.0" stroke-linejoin="round"/>
<path d="M822.9,363.2 L820.2,361.7 L818.4,358.4 L817.8,354 L818.6,349.1 L820.8,344.4 L824.3,340.6 L828.7,338.3 L833.3,337.9 L835.1,340.5 L830.8,340.7 L826.9,342.4 L823.7,345.7 L821.7,349.8 L820.9,354.1 L821.5,357.9 L823.1,360.3 L825.4,361.3Z M836.3,364.5 L833.8,362.7 L832.1,359.2 L831.7,354.7 L832.7,349.8 L835.2,345.2 L838.8,341.6 L843.3,339.5 L847.9,339.4 L849.6,342.1 L845.4,342 L841.4,343.5 L838.1,346.5 L835.8,350.6 L834.9,354.9 L835.3,358.8 L836.8,361.5 L839,362.8Z M849.8,365.8 L847.4,363.7 L845.9,360 L845.7,355.4 L847,350.5 L849.6,346 L853.4,342.6 L858,340.8 L862.6,341 L864.2,343.8 L859.9,343.4 L855.9,344.6 L852.5,347.4 L850,351.4 L848.9,355.7 L849.1,359.7 L850.4,362.6 L852.6,364.2Z M863.3,367 L861,364.7 L859.7,360.8 L859.7,356.1 L861.2,351.2 L864,346.8 L868,343.7 L872.7,342.1 L879,342.8 L876.9,345.2 L874.5,344.8 L870.4,345.7 L866.9,348.3 L864.2,352.1 L862.9,356.5 L862.9,360.6 L864.1,363.7 L866.2,365.5Z" fill="#f1eab8" stroke="#c6bd84" stroke-width="0.9" stroke-linejoin="round"/>
<path d="M832.9,351.1 L832.6,355.9 L831,360.1 L828.4,362.9 L825.4,363.8 L822.9,360.8 L825.3,360.5 L827.3,358.6 L828.7,355.2 L829,350.8Z M835.7,337.9 L840,339.7 L843.7,343.3 L846,348 L846.9,353.1 L846.4,358 L844.6,362 L841.8,364.7 L838.8,365.3 L836.5,362 L838.9,362 L840.9,360.4 L842.5,357.3 L842.9,353.1 L842.1,348.6 L839.9,344.7 L836.7,341.9 L832.7,340.5Z M850.4,339.5 L854.6,341.6 L858,345.4 L860.2,350.2 L860.9,355.4 L860.1,360.2 L858.2,364 L855.3,366.4 L852.3,366.7 L850.1,363.3 L852.5,363.5 L854.6,362.2 L856.2,359.3 L856.9,355.2 L856.2,350.7 L854.2,346.7 L851.2,343.7 L847.2,342Z M865,341.2 L869.1,343.5 L872.4,347.5 L874.3,352.4 L874.8,357.6 L873.8,362.3 L871.7,365.9 L868.7,368 L865.7,368 L863.8,364.5 L866.1,365 L868.2,364 L869.9,361.3 L870.8,357.3 L870.3,352.9 L868.6,348.7 L865.6,345.5 L861.8,343.6Z M879.6,342.9 L883.6,345.5 L886.7,349.7 L888.4,354.7 L888.6,359.8 L887.5,364.4 L885.3,367.5 L881.7,366 L883.6,363.2 L884.6,359.4 L884.4,355 L882.8,350.7 L880.1,347.3 L876.3,345.1Z" fill="#ebe18a" stroke="#a69c4e" stroke-width="1.0" stroke-linejoin="round"/>
<path d="M897.4,299 L899.5,298.9 L902.1,297.6 L905.1,295.3 L908.6,292.4 L912.4,289.5 L916.3,287.3 L920.3,286 L924,286.3 L926.3,291.3 L923.3,290.7 L920.1,291.3 L916.6,293 L913.1,295.6 L909.6,298.5 L906.3,301.1 L903.2,303 L900.5,303.5Z" fill="#f1eab8" stroke="#c6bd84" stroke-width="0.9" stroke-linejoin="round"/>
<path d="M894.3,289.8 L896.1,293.8 L897.9,297 L899.6,298.9 L901.4,299.6 L896.5,302.9 L894.1,301.4 L892.1,298.5 L890.2,294.9 L888.4,290.8Z M927.7,287.3 L930.9,289.4 L933.6,292.9 L935.9,296.9 L937.9,301.2 L932,302.2 L930.1,298.2 L927.9,294.6 L925.4,291.9 L922.6,290.4Z" fill="#ebe18a" stroke="#a69c4e" stroke-width="1.0" stroke-linejoin="round"/>
<path d="M878,354 C888,340 880,320 890,305" fill="none" stroke="#b9cdd4" stroke-width="3.6" stroke-linecap="round"/>
<path d="M878,354 C888,340 880,320 890,305" fill="none" stroke="#e7f3f6" stroke-width="2.4" stroke-linecap="round"/>
<rect x="275" y="447" width="237" height="266" rx="22" fill="#d0d0d3"/>
<polygon points="340.4,670 359,668.8 368,690 355.5,703.5" fill="#f5e33b" stroke="#e6a020" stroke-width="1.1" stroke-linejoin="miter" />
<polygon points="352.8,687.4 449,671.3 450.5,681 357.7,703.5" fill="#f5e33b" stroke="#e6a020" stroke-width="1.1" stroke-linejoin="miter" />
<polygon points="391.4,538.8 377,549 378.3,566 389.7,570 400,574 400,536" fill="#e6e0e6" />
<path d="M406.8,469.7 Q410,452 427.6,455.8 L488.3,469 Q502,472 500,485.9 L474.7,661.1 Q473,673 461.1,671.5 L378,660.8 Q372,660 373.1,654.1 Z" fill="#b6d4a5" stroke="#3d7f45" stroke-width="1.2" stroke-linejoin="round" />
<path d="M287.3,476.9 Q286,467 296,466.2 L369,460 Q381,459 382.6,470.9 L391.4,538.8 Q391.4,538.8 391.4,538.8 L377,549 Q377,549 377,549 L378.3,566 Q378.3,566 378.3,566 L389.7,570 Q389.7,570 389.7,570 L394.5,573.5 Q394.5,573.5 394.5,573.5 L401.1,648 Q402,658 392.1,659.4 L321.9,669.6 Q312,671 310.7,661.1 Z" fill="#a9d3e4" stroke="#4b9fd6" stroke-width="1.2" stroke-linejoin="round" />
<polygon points="325.6,659 349,663.4 360,598 341.6,573.6" fill="#4a77c5" stroke="#3b62aa" stroke-width="0.8" stroke-linejoin="miter" />
<polygon points="299.6,475.9 323,465.5 382.5,597 359,608" fill="#4a77c5" stroke="#3b62aa" stroke-width="0.8" stroke-linejoin="miter" />
<polygon points="347.8,466 371,463.5 376,498 352.8,501.8" fill="#4a77c5" stroke="#3b62aa" stroke-width="0.8" stroke-linejoin="miter" />
<polygon points="352.8,503.8 376,505.6 372.6,539 355,536.5" fill="#e59a2c" stroke="#a8661c" stroke-width="1.0" stroke-linejoin="miter" />
<polygon points="360,615.7 386,612 392.4,659 366.4,661.4" fill="#4a77c5" stroke="#3b62aa" stroke-width="0.8" stroke-linejoin="miter" />
<path d="M371,601 Q373,608 371,615" stroke="#3b62aa" stroke-width="1.8" fill="none"/>
<circle cx="362.7" cy="694.3" r="5" fill="#d8442a" stroke="#111" stroke-width="2.2"/>
<path d="M385.5,547 L384.5,565" stroke="#5b5b5b" stroke-width="3.2"/>
<circle cx="385" cy="548" r="1.9" fill="#5a5a5a"/>
<circle cx="385.5" cy="553" r="1.9" fill="#5a5a5a"/>
<circle cx="385" cy="558" r="1.9" fill="#5a5a5a"/>
<circle cx="385.5" cy="563" r="1.9" fill="#5a5a5a"/>
<circle cx="389" cy="544" r="1.9" fill="#c83842"/>
<circle cx="383" cy="550" r="1.9" fill="#c83842"/>
<circle cx="383" cy="558" r="1.9" fill="#c83842"/>
<circle cx="388" cy="562" r="1.9" fill="#c83842"/>
<circle cx="383" cy="567" r="1.9" fill="#c83842"/>
<text x="363" y="522.5" font-size="17" fill="#151515" stroke="#ffffff" stroke-width="3.4" paint-order="stroke" stroke-linejoin="round" text-anchor="middle">7b</text>
<polygon points="696.4,673 712,672.3 722.6,705.4 708,710" fill="#f5e33b" stroke="#e6a020" stroke-width="1.1" stroke-linejoin="miter" />
<polygon points="721.6,695.1 813.7,666.9 817.8,680.3 725.7,708.5" fill="#f5e33b" stroke="#e6a020" stroke-width="1.1" stroke-linejoin="miter" />
<path d="M745,480 Q745,465 760,465 L828.4,465 Q843.4,465 843.4,480 L843.4,657.4 Q843.4,672.4 828.4,672.4 L760,672.4 Q745,672.4 745,657.4 Z" fill="#b6d4a5" stroke="#3d7f45" stroke-width="1.2" stroke-linejoin="round" />
<path d="M644,480 Q644,465 659,465 L728.5,465 Q743.5,465 743.5,480 L743.5,550.5 Q743.5,550.5 743.5,550.5 L731,558.9 Q731,558.9 731,558.9 L730,573.5 Q730,573.5 730,573.5 L736,583 Q736,583 736,583 L743.5,585 Q743.5,585 743.5,585 L743.5,657.3 Q743.5,672.3 728.5,672.3 L659,672.3 Q644,672.3 644,657.3 Z" fill="#a9d3e4" stroke="#4b9fd6" stroke-width="1.2" stroke-linejoin="round" />
<polygon points="743.5,550.5 731,558.9 730,573.5 736,583 743.5,585" fill="#ffffff" />
<polygon points="654.5,659.3 675.5,667.7 712.9,580.9 692,572.5" fill="#4a77c5" stroke="#3b62aa" stroke-width="0.8" stroke-linejoin="miter" />
<polygon points="665,473 690,467.2 729.9,606 704.8,613.3" fill="#4a77c5" stroke="#3b62aa" stroke-width="0.8" stroke-linejoin="miter" />
<polygon points="710,474 733,474.7 732.6,510.7 709,509.7" fill="#4a77c5" stroke="#3b62aa" stroke-width="0.8" stroke-linejoin="miter" />
<polygon points="708,511.8 731,517.4 722,550 699.5,544.2" fill="#4a77c5" stroke="#3b62aa" stroke-width="0.8" stroke-linejoin="miter" />
<polygon points="704.8,621.6 731,621.2 732,667.7 704.8,667.7" fill="#4a77c5" stroke="#3b62aa" stroke-width="0.8" stroke-linejoin="miter" />
<path d="M718.5,610 Q721.8,615.5 719,621" stroke="#3b62aa" stroke-width="1.8" fill="none"/>
<path d="M738.5,558 L737.5,576" stroke="#5b5b5b" stroke-width="3.2"/>
<circle cx="738" cy="559" r="1.9" fill="#5a5a5a"/>
<circle cx="738.5" cy="564" r="1.9" fill="#5a5a5a"/>
<circle cx="738" cy="569" r="1.9" fill="#5a5a5a"/>
<circle cx="738.5" cy="574" r="1.9" fill="#5a5a5a"/>
<circle cx="742" cy="555" r="1.9" fill="#c83842"/>
<circle cx="736" cy="561" r="1.9" fill="#c83842"/>
<circle cx="736" cy="569" r="1.9" fill="#c83842"/>
<circle cx="741" cy="573" r="1.9" fill="#c83842"/>
<circle cx="736" cy="578" r="1.9" fill="#c83842"/>
<rect x="6" y="745.3" width="249.6" height="267.5" rx="23" fill="#d0d0d3"/>
<polygon points="71.7,971.1 87.7,968.5 100,994 86.7,1002.1" fill="#f5e33b" stroke="#e6a020" stroke-width="1.1" stroke-linejoin="miter" />
<polygon points="82.4,989.3 177.2,970 179.8,981.5 87.7,1002.8" fill="#f5e33b" stroke="#e6a020" stroke-width="1.1" stroke-linejoin="miter" />
<path d="M146.9,769.7 Q150,752 167.7,755.4 L236.2,768.5 Q249,771 246.6,783.8 L213,966.2 Q211,977 200.2,975.1 L119.9,961 Q114,960 115,954.1 Z" fill="#b6d4a5" stroke="#3d7f45" stroke-width="1.2" stroke-linejoin="round" />
<path d="M13.9,778.9 Q12.8,770 21.7,768.6 L90.7,757.6 Q100.6,756 102.7,765.8 L116.6,828.8 Q116.6,828.8 116.6,828.8 L112.4,839.9 Q111.3,842.7 111.5,845.7 L112.1,856.8 Q112.3,859.8 113.4,862.6 L114.5,865.6 Q115.6,868.4 118.4,869.5 L128.4,873.7 Q128.4,873.7 128.4,873.7 L139.6,941 Q139.6,941 139.6,941 L139,952 Q138.6,960 130.7,961 L47.4,971.1 Q38.5,972.2 37.4,963.3 Z" fill="#a9d3e4" stroke="#4b9fd6" stroke-width="1.2" stroke-linejoin="round" />
<polygon points="57.4,959.3 78.1,963.6 100.6,862 79.9,857.7" fill="#4a77c5" stroke="#3b62aa" stroke-width="0.8" stroke-linejoin="miter" />
<polygon points="24.6,779.6 48.1,770 110.2,898.4 86.7,910.1" fill="#4a77c5" stroke="#3b62aa" stroke-width="0.8" stroke-linejoin="miter" />
<polygon points="69.5,766.7 92,763.1 101,825.6 78.1,828.8" fill="#4a77c5" stroke="#3b62aa" stroke-width="0.8" stroke-linejoin="miter" />
<polygon points="88.8,917.6 113.4,914.4 123,958.3 96.3,962.6" fill="#4a77c5" stroke="#3b62aa" stroke-width="0.8" stroke-linejoin="miter" />
<path d="M92,828.8 C97,838 87,845 93,856" stroke="#3b62aa" stroke-width="1.8" fill="none"/>
<path d="M97.4,906 Q102.7,910.5 100,915" stroke="#3b62aa" stroke-width="1.8" fill="none"/>
<circle cx="93.5" cy="994.2" r="4.5" fill="#d8442a" stroke="#111" stroke-width="2"/>
<text x="84.5" y="800.5" font-size="18.5" fill="#151515" stroke="#ffffff" stroke-width="3.4" paint-order="stroke" stroke-linejoin="round" text-anchor="middle">7b</text>
<text x="62" y="843.5" font-size="18.5" fill="#151515" stroke="#ffffff" stroke-width="3.4" paint-order="stroke" stroke-linejoin="round" text-anchor="middle">10a</text>
<text x="71.7" y="945.1" font-size="18.5" fill="#151515" stroke="#ffffff" stroke-width="3.4" paint-order="stroke" stroke-linejoin="round" text-anchor="middle">7a</text>
<text x="107" y="945.1" font-size="18.5" fill="#151515" stroke="#ffffff" stroke-width="3.4" paint-order="stroke" stroke-linejoin="round" text-anchor="middle">10b</text>
<text x="15" y="908" font-size="22.5" fill="#3d4f9e" text-anchor="middle" >C</text>
<text x="242.4" y="908" font-size="22.5" fill="#3f8a3c" text-anchor="middle" >N</text>
<text x="53" y="1002" font-size="22" fill="#e08e2b" text-anchor="middle" >ICH</text>
<path d="M107,734 Q126,766 130.4,803" stroke="#2f4aa0" stroke-width="2.6" fill="none"/>
<polygon points="130.8,813.3 123,799.5 130,802 136.8,798.5" fill="#2f4aa0" />
<path d="M107.5,707 L106.5,725" stroke="#5b5b5b" stroke-width="3.2"/>
<circle cx="107" cy="708" r="1.9" fill="#5a5a5a"/>
<circle cx="107.5" cy="713" r="1.9" fill="#5a5a5a"/>
<circle cx="107" cy="718" r="1.9" fill="#5a5a5a"/>
<circle cx="107.5" cy="723" r="1.9" fill="#5a5a5a"/>
<circle cx="111" cy="704" r="1.9" fill="#c83842"/>
<circle cx="105" cy="710" r="1.9" fill="#c83842"/>
<circle cx="105" cy="718" r="1.9" fill="#c83842"/>
<circle cx="110" cy="722" r="1.9" fill="#c83842"/>
<circle cx="105" cy="727" r="1.9" fill="#c83842"/>
<rect x="807.5" y="759" width="238.5" height="282" rx="24" fill="#d0d0d3"/>
<polygon points="838,982 853.5,982 864.9,1014 850.4,1018.1" fill="#f5e33b" stroke="#e6a020" stroke-width="1.1" stroke-linejoin="miter" />
<polygon points="936.8,1028.9 1015.2,976.6 1022,982 945,1038.5" fill="#f5e33b" stroke="#e6a020" stroke-width="1.1" stroke-linejoin="miter" />
<path d="M927.3,793.9 Q926,786 933.9,784.6 L994.2,773.5 Q1008,771 1010.4,784.8 L1041,963.2 Q1043,975 1031.2,977.1 L971.8,987.9 Q960,990 958,978.2 Z" fill="#b6d4a5" stroke="#3d7f45" stroke-width="1.2" stroke-linejoin="round" />
<path d="M842.6,782.3 Q844.2,772.4 854.1,773.8 L926.2,784.4 Q936.1,785.8 935,795.7 L926.8,871.5 Q926.8,871.5 926.8,871.5 L915,876.2 Q911.3,877.7 911.3,881.7 L911.3,896.4 Q911.3,900.4 912.7,904.1 L917.5,916.9 Q917.5,916.9 917.5,916.9 L904.1,979.4 Q902,989.2 892.2,987.4 L822,974.5 Q812.2,972.7 813.8,962.8 Z" fill="#a9d3e4" stroke="#4b9fd6" stroke-width="1.2" stroke-linejoin="round" />
<polygon points="926.8,871.5 911.3,877.7 911.3,900.4 917.5,916.9 924,900" fill="#d0d0d3" />
<polygon points="820.5,963.4 839.1,976.8 897.6,895.6 879,882.2" fill="#4a77c5" stroke="#3b62aa" stroke-width="0.8" stroke-linejoin="miter" />
<polygon points="859.7,782.7 884.5,780.2 901,924.2 875.2,927.3" fill="#4a77c5" stroke="#3b62aa" stroke-width="0.8" stroke-linejoin="miter" />
<polygon points="902,791 925.8,793 922.7,828.1 900,826.1" fill="#e59a2c" stroke="#a8661c" stroke-width="1.0" stroke-linejoin="miter" />
<polygon points="899,829.2 919.6,839.5 904.1,868.4 891.7,862.2" fill="#4a77c5" stroke="#3b62aa" stroke-width="0.8" stroke-linejoin="miter" />
<polygon points="874.2,931 899,942.7 881.4,984 854.6,971.6" fill="#e59a2c" stroke="#a8661c" stroke-width="1.0" stroke-linejoin="miter" />
<path d="M888.6,924 Q891.8,928 887,932" stroke="#3b62aa" stroke-width="1.8" fill="none"/>
<path d="M918,883 L917,901" stroke="#5b5b5b" stroke-width="3.2"/>
<circle cx="917.5" cy="884" r="1.9" fill="#5a5a5a"/>
<circle cx="918" cy="889" r="1.9" fill="#5a5a5a"/>
<circle cx="917.5" cy="894" r="1.9" fill="#5a5a5a"/>
<circle cx="918" cy="899" r="1.9" fill="#5a5a5a"/>
<circle cx="921.5" cy="880" r="1.9" fill="#c83842"/>
<circle cx="915.5" cy="886" r="1.9" fill="#c83842"/>
<circle cx="915.5" cy="894" r="1.9" fill="#c83842"/>
<circle cx="920.5" cy="898" r="1.9" fill="#c83842"/>
<circle cx="915.5" cy="903" r="1.9" fill="#c83842"/>
<path d="M924.8,931.4 Q930,950 929.5,972" stroke="#2f4aa0" stroke-width="2.2" fill="none"/>
<polygon points="928.9,982 924.5,970 929.3,972.5 934,971" fill="#2f4aa0" />
<text x="912.4" y="813.5" font-size="18.5" fill="#151515" stroke="#ffffff" stroke-width="3.4" paint-order="stroke" stroke-linejoin="round" text-anchor="middle">7b</text>
<text x="876.2" y="966" font-size="18.5" fill="#151515" stroke="#ffffff" stroke-width="3.4" paint-order="stroke" stroke-linejoin="round" text-anchor="middle">10b</text>
<polygon points="318.4,1256.5 334.1,1256.5 343.5,1285.2 328.8,1290" fill="#f5e33b" stroke="#e6a020" stroke-width="1.1" stroke-linejoin="miter" />
<polygon points="342.5,1273.6 434.3,1245.5 438.8,1260.1 346.6,1288.3" fill="#f5e33b" stroke="#e6a020" stroke-width="1.1" stroke-linejoin="miter" />
<path d="M376,1060 Q376,1048 388,1048 L464.4,1048 Q476.4,1048 476.4,1060 L476.4,1243.8 Q476.4,1255.8 464.4,1255.8 L388,1255.8 Q376,1255.8 376,1243.8 Z" fill="#b6d4a5" stroke="#3d7f45" stroke-width="1.2" stroke-linejoin="round" />
<path d="M275,1060.5 Q275,1048 287.5,1048 L362.8,1048 Q375.3,1048 375.3,1060.5 L375.3,1243.3 Q375.3,1255.8 362.8,1255.8 L287.5,1255.8 Q275,1255.8 275,1243.3 Z" fill="#a9d3e4" stroke="#4b9fd6" stroke-width="1.2" stroke-linejoin="round" />
<path d="M375.5,1135 A16.5,16.5 0 0 0 375.5,1168 Z" fill="#ffffff"/>
<polygon points="284.3,1243.3 304.8,1252.7 345.5,1163.4 325,1154" fill="#4a77c5" stroke="#3b62aa" stroke-width="0.8" stroke-linejoin="miter" />
<polygon points="295.4,1059 319.8,1052.8 359.6,1191 334.5,1197.9" fill="#4a77c5" stroke="#3b62aa" stroke-width="0.8" stroke-linejoin="miter" />
<polygon points="340.4,1057.6 363.4,1058 363,1093.6 339.9,1092.6" fill="#4a77c5" stroke="#3b62aa" stroke-width="0.8" stroke-linejoin="miter" />
<polygon points="337.8,1095.7 361.7,1101.6 350.8,1133.4 334,1127" fill="#4a77c5" stroke="#3b62aa" stroke-width="0.8" stroke-linejoin="miter" />
<polygon points="335.1,1206.2 361.7,1206.2 361.7,1253.1 335.1,1253.1" fill="#4a77c5" stroke="#3b62aa" stroke-width="0.8" stroke-linejoin="miter" />
<path d="M348.7,1195 Q351.7,1200 348.7,1205" stroke="#3b62aa" stroke-width="1.8" fill="none"/>
<polygon points="605.8,1251.4 621.9,1253.9 631.7,1281.1 616.4,1285.3" fill="#f5e33b" stroke="#e6a020" stroke-width="1.1" stroke-linejoin="miter" />
<polygon points="702.4,1294.6 786.4,1238.6 793.6,1249.4 709.6,1305.4" fill="#f5e33b" stroke="#e6a020" stroke-width="1.1" stroke-linejoin="miter" />
<path d="M695.7,1059.4 Q694.8,1053.5 700.7,1052.4 L754.2,1042.5 Q768,1040 770.9,1053.7 L805.5,1216.3 Q808,1228 796.8,1232.3 L736.2,1255.7 Q725,1260 723.3,1248.1 Z" fill="#b6d4a5" stroke="#3d7f45" stroke-width="1.2" stroke-linejoin="round" />
<path d="M605.3,1050.4 Q607,1040.5 616.9,1042 L689.1,1053.2 Q701,1055 699.5,1066.9 L689.9,1141.3 Q689.9,1141.3 689.9,1141.3 L679.1,1145.3 Q676.3,1146.3 675.9,1149.3 L674.2,1160.6 Q673.8,1163.6 674.4,1166.5 L675.7,1173.1 Q676.3,1176 678.1,1178.4 L682.5,1184.6 Q682.5,1184.6 682.5,1184.6 L671.7,1248.1 Q670,1258 660.1,1256.5 L581.9,1244.5 Q572,1243 573.7,1233.1 Z" fill="#a9d3e4" stroke="#4b9fd6" stroke-width="1.2" stroke-linejoin="round" />
<polygon points="581.8,1234.1 600.8,1245.2 651,1163 632,1152" fill="#4a77c5" stroke="#3b62aa" stroke-width="0.8" stroke-linejoin="miter" />
<polygon points="619.9,1051 646.6,1048.6 661.4,1192 635.5,1195.3" fill="#4a77c5" stroke="#3b62aa" stroke-width="0.8" stroke-linejoin="miter" />
<polygon points="663.9,1059.2 688.2,1061 685.7,1096.3 662.7,1094.3" fill="#4a77c5" stroke="#3b62aa" stroke-width="0.8" stroke-linejoin="miter" />
<polygon points="660.2,1095.6 682.5,1105.5 666.4,1136.4 653.5,1127.7" fill="#4a77c5" stroke="#3b62aa" stroke-width="0.8" stroke-linejoin="miter" />
<polygon points="635.5,1200.7 663.4,1204.4 657,1250.9 630,1247.2" fill="#e59a2c" stroke="#a8661c" stroke-width="1.0" stroke-linejoin="miter" />
<path d="M648,1192 Q650,1196 648,1200" stroke="#3b62aa" stroke-width="1.8" fill="none"/>
<text x="646" y="1233.5" font-size="18.5" fill="#151515" stroke="#ffffff" stroke-width="3.4" paint-order="stroke" stroke-linejoin="round" text-anchor="middle">10b</text>
<line x1="536" y1="568.3" x2="611.9" y2="568.3" stroke="#1e1e1e" stroke-width="2.0"/>
<polygon points="623.9,568.3 607.9,575.3 611.9,568.3 607.9,561.3" fill="#1e1e1e" />
<line x1="621.6" y1="580" x2="546.3" y2="580" stroke="#1e1e1e" stroke-width="2.0"/>
<polygon points="534.3,580 550.3,573 546.3,580 550.3,587" fill="#1e1e1e" />
<line x1="161.4" y1="672" x2="241.8" y2="621.9" stroke="#1e1e1e" stroke-width="2.0"/>
<polygon points="252,615.6 242.1,630 241.8,621.9 234.7,618.1" fill="#1e1e1e" />
<line x1="259.7" y1="621.6" x2="181.5" y2="673" stroke="#1e1e1e" stroke-width="2.0"/>
<polygon points="171.5,679.6 181,665 181.5,673 188.7,676.7" fill="#1e1e1e" />
<line x1="880" y1="643" x2="947.7" y2="698.4" stroke="#1e1e1e" stroke-width="2.0"/>
<polygon points="957,706 940.2,701.3 947.7,698.4 949,690.5" fill="#1e1e1e" />
<line x1="957" y1="717" x2="883.1" y2="658.5" stroke="#1e1e1e" stroke-width="2.0"/>
<polygon points="873.7,651 890.6,655.4 883.1,658.5 881.9,666.4" fill="#1e1e1e" />
<line x1="186" y1="1003.5" x2="258.2" y2="1063.2" stroke="#1e1e1e" stroke-width="2.0"/>
<polygon points="267.4,1070.8 250.6,1066 258.2,1063.2 259.5,1055.2" fill="#1e1e1e" />
<line x1="262.3" y1="1081" x2="192.1" y2="1021.5" stroke="#1e1e1e" stroke-width="2.0"/>
<polygon points="183,1013.7 199.7,1018.7 192.1,1021.5 190.7,1029.4" fill="#1e1e1e" />
<line x1="488.4" y1="1122.2" x2="565.4" y2="1122.2" stroke="#1e1e1e" stroke-width="2.0"/>
<polygon points="577.4,1122.2 561.4,1129.2 565.4,1122.2 561.4,1115.2" fill="#1e1e1e" />
<line x1="579" y1="1133.5" x2="502" y2="1134.1" stroke="#1e1e1e" stroke-width="2.0"/>
<polygon points="490,1134.2 505.9,1127.1 502,1134.1 506.1,1141.1" fill="#1e1e1e" />
<line x1="791.3" y1="1114" x2="869.9" y2="1064.4" stroke="#1e1e1e" stroke-width="2.0"/>
<polygon points="880,1058 870.2,1072.5 869.9,1064.4 862.7,1060.6" fill="#1e1e1e" />
<line x1="887" y1="1065" x2="810.7" y2="1114.5" stroke="#1e1e1e" stroke-width="2.0"/>
<polygon points="800.6,1121 810.2,1106.4 810.7,1114.5 817.8,1118.2" fill="#1e1e1e" />
<text x="387" y="749" font-size="25.4" fill="#231f20" text-anchor="middle" letter-spacing="0.4" >Substrate-bound</text>
<text x="387" y="775.5" font-size="25.4" fill="#231f20" text-anchor="middle" letter-spacing="0.4" >outward-occluded</text>
<text x="718" y="749" font-size="25.4" fill="#231f20" text-anchor="middle" letter-spacing="0.4" >Substrate-bound</text>
<text x="718" y="774.5" font-size="25.4" fill="#231f20" text-anchor="middle" letter-spacing="0.4" >occluded</text>
<text x="96" y="1042.4" font-size="25.4" fill="#231f20" text-anchor="middle" letter-spacing="0.4" >Ligand-free</text>
<text x="96" y="1069" font-size="25.4" fill="#231f20" text-anchor="middle" letter-spacing="0.4" >outward-open</text>
<text x="374" y="1004" font-size="25.4" fill="#231f20" text-anchor="middle" letter-spacing="0.4" >Ligand-free</text>
<text x="374" y="1029.7" font-size="25.4" fill="#231f20" text-anchor="middle" letter-spacing="0.4" >occluded</text>
<text x="682.4" y="997.4" font-size="25.4" fill="#231f20" text-anchor="middle" letter-spacing="0.4" >Partly</text>
<text x="686" y="1023" font-size="25.4" fill="#231f20" text-anchor="middle" letter-spacing="0.4" >inward-occluded</text>
<text x="967" y="1077" font-size="25.4" fill="#231f20" text-anchor="middle" letter-spacing="0.4" >Inward-open</text>
<text x="163.7" y="395.8" font-size="20.7" fill="#231f20" text-anchor="middle" letter-spacing="0.2" >Maltose-bound</text>
<text x="160.8" y="416.7" font-size="20.7" fill="#231f20" text-anchor="middle" >outward-open GLUT3</text>
<text x="527.6" y="395.8" font-size="20.7" fill="#231f20" text-anchor="middle" letter-spacing="0.2" >Glucose/maltose-bound</text>
<text x="530.3" y="416.7" font-size="20.7" fill="#231f20" text-anchor="middle" letter-spacing="0.2" >outward-occluded GLUT3</text>
<text x="886.8" y="394.8" font-size="20.7" fill="#231f20" text-anchor="middle" letter-spacing="0.2" >β-NG-bound</text>
<text x="885" y="416.8" font-size="20.7" fill="#231f20" text-anchor="middle" letter-spacing="-0.1" >inward-open GLUT1</text>
<text x="0" y="30.2" font-size="36.5" font-weight="bold" fill="#1e1e1e" stroke="#1e1e1e" stroke-width="1.3">a</text>
<text x="1" y="467.8" font-size="35.5" font-weight="bold" fill="#1e1e1e" stroke="#1e1e1e" stroke-width="1.5">b</text>
</svg></body></html>
